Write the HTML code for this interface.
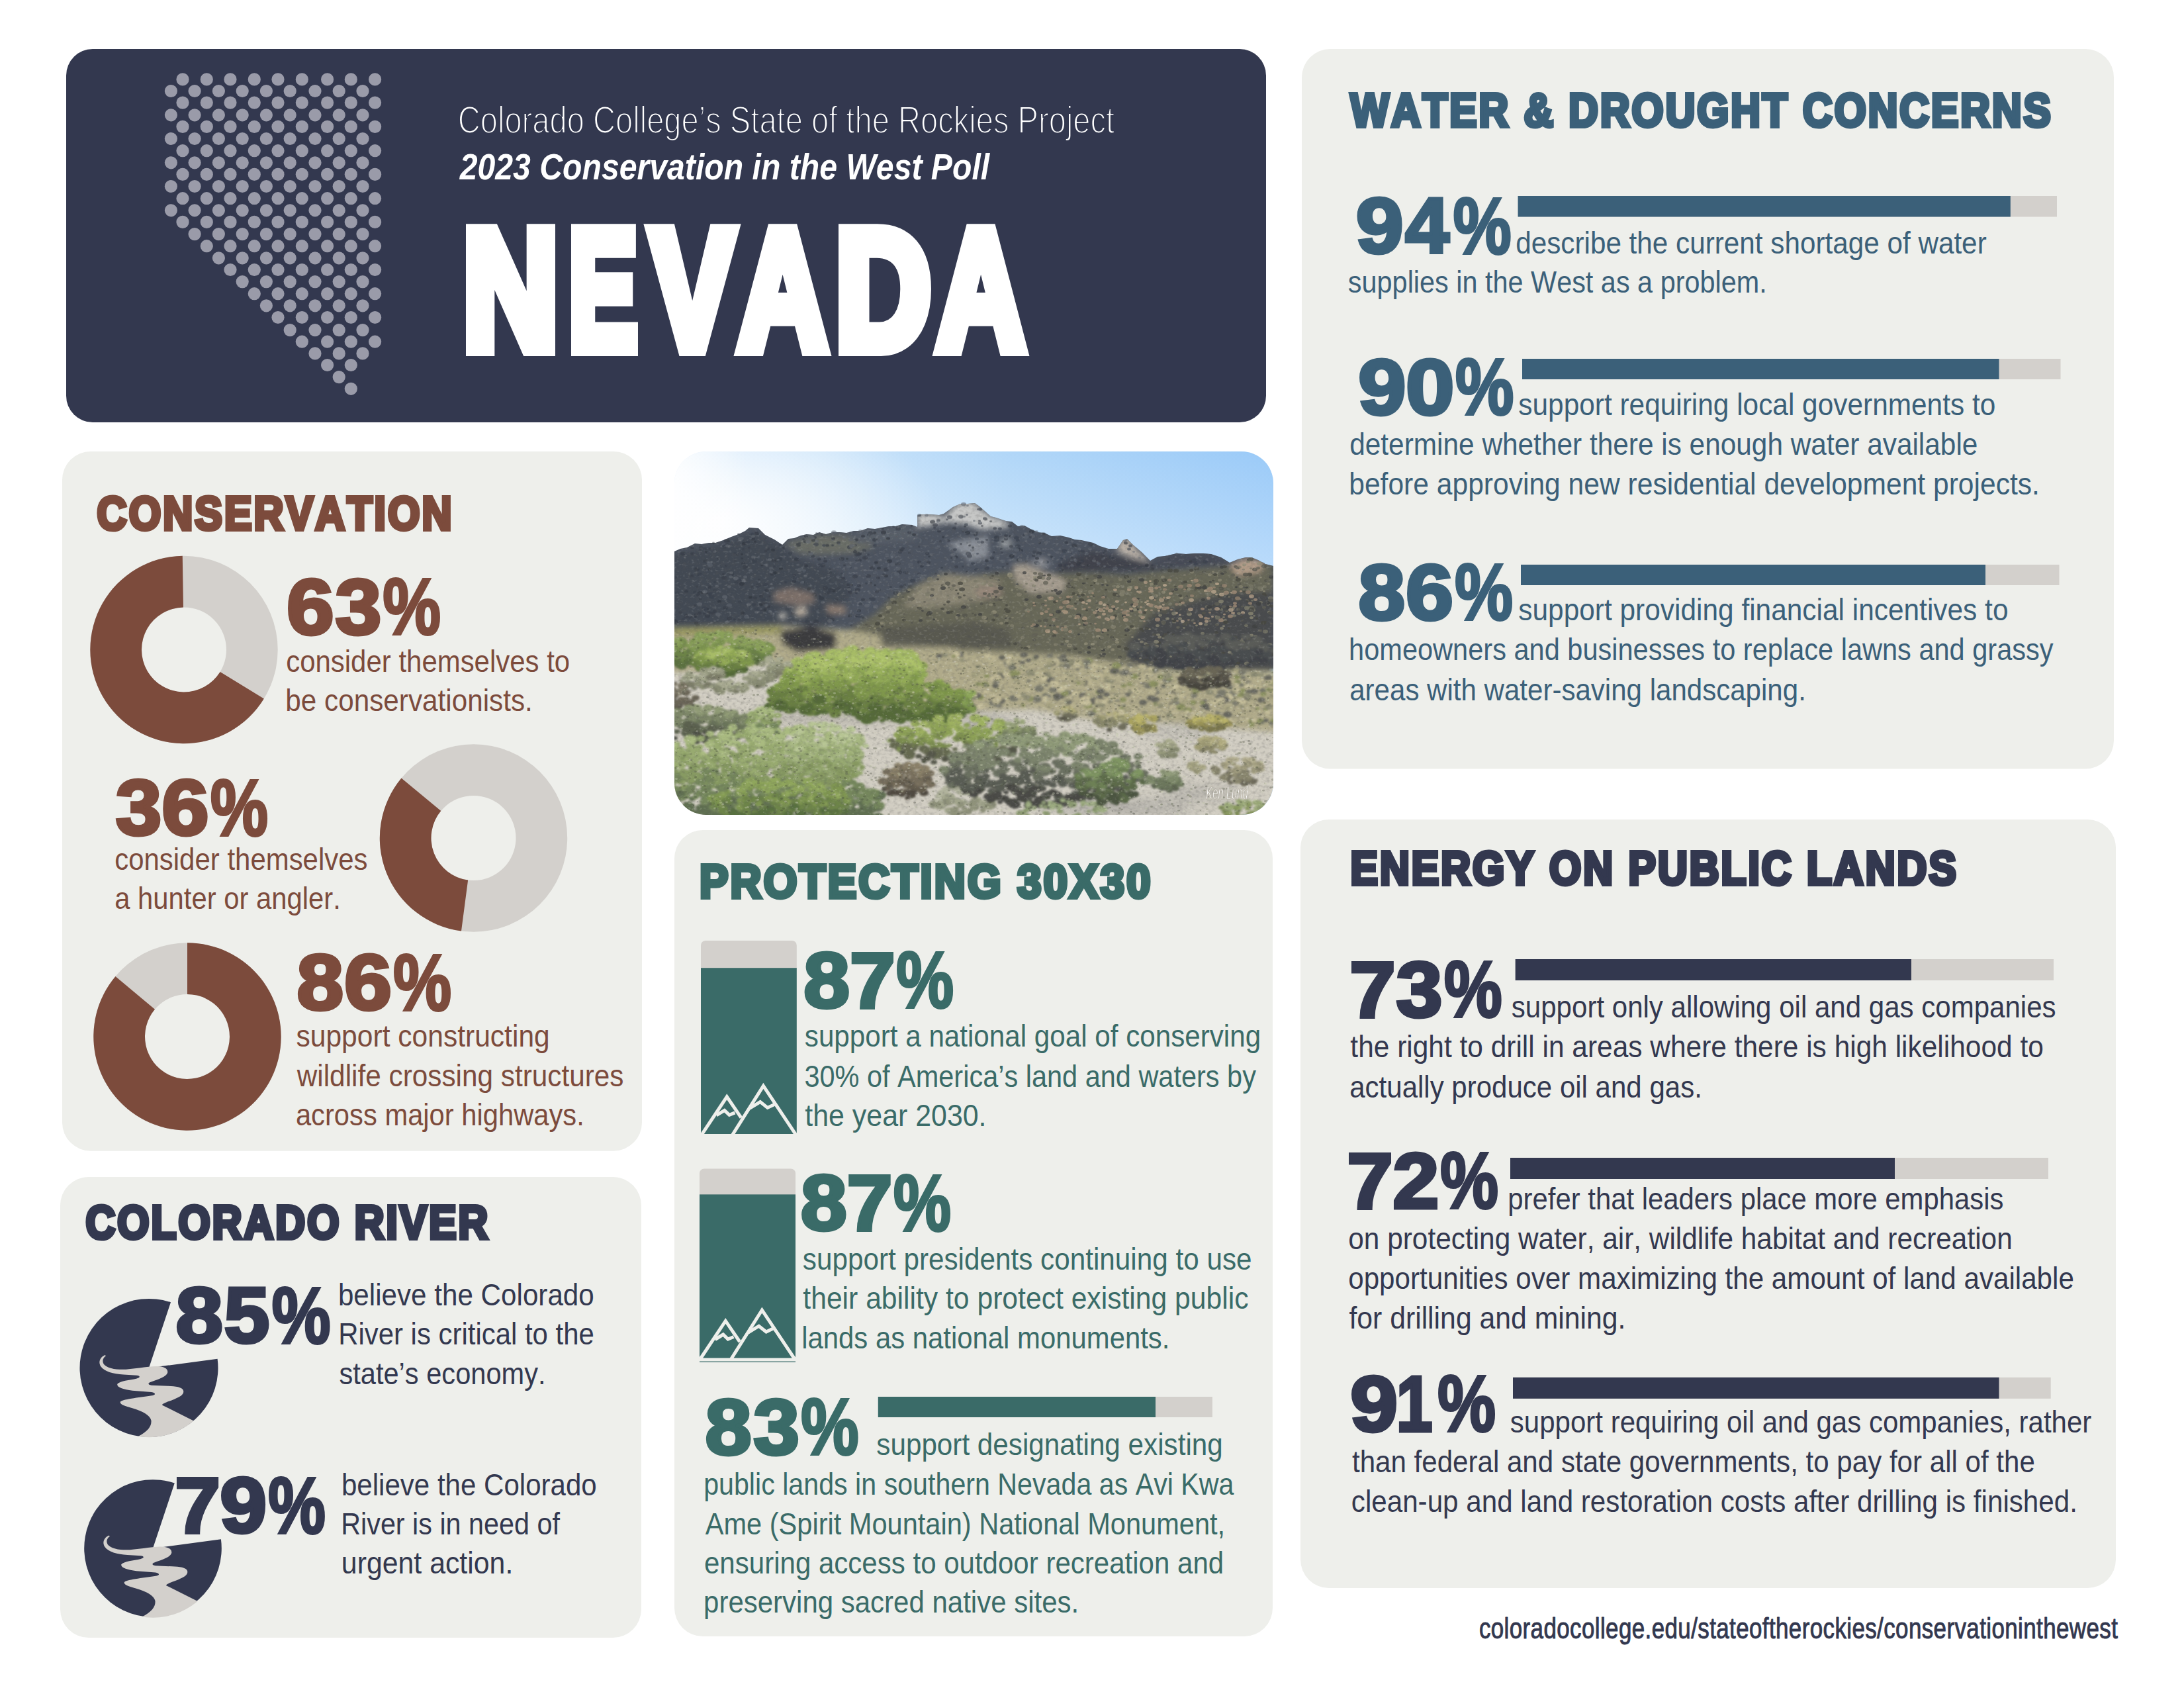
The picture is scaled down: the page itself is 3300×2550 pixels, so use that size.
<!DOCTYPE html>
<html lang="en"><head><meta charset="utf-8"><title>Nevada - 2023 Conservation in the West Poll</title>
<style>
html,body{margin:0;padding:0;background:#fff}
body{width:3300px;height:2550px;overflow:hidden}
svg{display:block}
text{font-family:"Liberation Sans",sans-serif;font-kerning:none;white-space:pre}
</style></head><body>
<svg width="3300" height="2550" viewBox="0 0 3300 2550" role="img" aria-label="Nevada: 2023 Conservation in the West Poll infographic">
<rect x="100.0" y="74.0" width="1813.0" height="564.0" rx="40.0" fill="#33384f"/>
<rect x="1967.0" y="74.0" width="1227.0" height="1087.6" rx="43.0" fill="#eeefeb"/>
<rect x="1965.0" y="1238.0" width="1232.0" height="1161.0" rx="43.0" fill="#eeefeb"/>
<rect x="94.0" y="682.0" width="876.0" height="1056.7" rx="43.0" fill="#eeefeb"/>
<rect x="91.0" y="1778.0" width="878.0" height="696.0" rx="43.0" fill="#eeefeb"/>
<rect x="1019.0" y="1254.0" width="904.0" height="1218.0" rx="43.0" fill="#eeefeb"/>
<g fill="#9a9ba9"><circle cx="276.0" cy="119.9" r="9.6"/><circle cx="312.3" cy="119.9" r="9.6"/><circle cx="348.0" cy="119.9" r="9.6"/><circle cx="384.3" cy="119.9" r="9.6"/><circle cx="420.0" cy="119.9" r="9.6"/><circle cx="456.3" cy="119.9" r="9.6"/><circle cx="494.6" cy="119.9" r="9.6"/><circle cx="530.3" cy="119.9" r="9.6"/><circle cx="566.6" cy="119.9" r="9.6"/><circle cx="258.4" cy="137.5" r="9.6"/><circle cx="294.1" cy="137.5" r="9.6"/><circle cx="330.4" cy="137.5" r="9.6"/><circle cx="366.2" cy="137.5" r="9.6"/><circle cx="402.4" cy="137.5" r="9.6"/><circle cx="438.2" cy="137.5" r="9.6"/><circle cx="476.0" cy="137.5" r="9.6"/><circle cx="512.2" cy="137.5" r="9.6"/><circle cx="548.0" cy="137.5" r="9.6"/><circle cx="276.0" cy="155.1" r="9.6"/><circle cx="312.3" cy="155.1" r="9.6"/><circle cx="348.0" cy="155.1" r="9.6"/><circle cx="384.3" cy="155.1" r="9.6"/><circle cx="420.0" cy="155.1" r="9.6"/><circle cx="456.3" cy="155.1" r="9.6"/><circle cx="494.6" cy="155.1" r="9.6"/><circle cx="530.3" cy="155.1" r="9.6"/><circle cx="566.6" cy="155.1" r="9.6"/><circle cx="258.4" cy="173.8" r="9.6"/><circle cx="294.1" cy="173.8" r="9.6"/><circle cx="330.4" cy="173.8" r="9.6"/><circle cx="366.2" cy="173.8" r="9.6"/><circle cx="402.4" cy="173.8" r="9.6"/><circle cx="438.2" cy="173.8" r="9.6"/><circle cx="476.0" cy="173.8" r="9.6"/><circle cx="512.2" cy="173.8" r="9.6"/><circle cx="548.0" cy="173.8" r="9.6"/><circle cx="276.0" cy="191.4" r="9.6"/><circle cx="312.3" cy="191.4" r="9.6"/><circle cx="348.0" cy="191.4" r="9.6"/><circle cx="384.3" cy="191.4" r="9.6"/><circle cx="420.0" cy="191.4" r="9.6"/><circle cx="456.3" cy="191.4" r="9.6"/><circle cx="494.6" cy="191.4" r="9.6"/><circle cx="530.3" cy="191.4" r="9.6"/><circle cx="566.6" cy="191.4" r="9.6"/><circle cx="258.4" cy="209.5" r="9.6"/><circle cx="294.1" cy="209.5" r="9.6"/><circle cx="330.4" cy="209.5" r="9.6"/><circle cx="366.2" cy="209.5" r="9.6"/><circle cx="402.4" cy="209.5" r="9.6"/><circle cx="438.2" cy="209.5" r="9.6"/><circle cx="476.0" cy="209.5" r="9.6"/><circle cx="512.2" cy="209.5" r="9.6"/><circle cx="548.0" cy="209.5" r="9.6"/><circle cx="276.0" cy="227.7" r="9.6"/><circle cx="312.3" cy="227.7" r="9.6"/><circle cx="348.0" cy="227.7" r="9.6"/><circle cx="384.3" cy="227.7" r="9.6"/><circle cx="420.0" cy="227.7" r="9.6"/><circle cx="456.3" cy="227.7" r="9.6"/><circle cx="494.6" cy="227.7" r="9.6"/><circle cx="530.3" cy="227.7" r="9.6"/><circle cx="566.6" cy="227.7" r="9.6"/><circle cx="258.4" cy="245.8" r="9.6"/><circle cx="294.1" cy="245.8" r="9.6"/><circle cx="330.4" cy="245.8" r="9.6"/><circle cx="366.2" cy="245.8" r="9.6"/><circle cx="402.4" cy="245.8" r="9.6"/><circle cx="438.2" cy="245.8" r="9.6"/><circle cx="476.0" cy="245.8" r="9.6"/><circle cx="512.2" cy="245.8" r="9.6"/><circle cx="548.0" cy="245.8" r="9.6"/><circle cx="276.0" cy="263.4" r="9.6"/><circle cx="312.3" cy="263.4" r="9.6"/><circle cx="348.0" cy="263.4" r="9.6"/><circle cx="384.3" cy="263.4" r="9.6"/><circle cx="420.0" cy="263.4" r="9.6"/><circle cx="456.3" cy="263.4" r="9.6"/><circle cx="494.6" cy="263.4" r="9.6"/><circle cx="530.3" cy="263.4" r="9.6"/><circle cx="566.6" cy="263.4" r="9.6"/><circle cx="258.4" cy="281.5" r="9.6"/><circle cx="294.1" cy="281.5" r="9.6"/><circle cx="330.4" cy="281.5" r="9.6"/><circle cx="366.2" cy="281.5" r="9.6"/><circle cx="402.4" cy="281.5" r="9.6"/><circle cx="438.2" cy="281.5" r="9.6"/><circle cx="476.0" cy="281.5" r="9.6"/><circle cx="512.2" cy="281.5" r="9.6"/><circle cx="548.0" cy="281.5" r="9.6"/><circle cx="276.0" cy="299.7" r="9.6"/><circle cx="312.3" cy="299.7" r="9.6"/><circle cx="348.0" cy="299.7" r="9.6"/><circle cx="384.3" cy="299.7" r="9.6"/><circle cx="420.0" cy="299.7" r="9.6"/><circle cx="456.3" cy="299.7" r="9.6"/><circle cx="494.6" cy="299.7" r="9.6"/><circle cx="530.3" cy="299.7" r="9.6"/><circle cx="566.6" cy="299.7" r="9.6"/><circle cx="258.4" cy="317.8" r="9.6"/><circle cx="294.1" cy="317.8" r="9.6"/><circle cx="330.4" cy="317.8" r="9.6"/><circle cx="366.2" cy="317.8" r="9.6"/><circle cx="402.4" cy="317.8" r="9.6"/><circle cx="438.2" cy="317.8" r="9.6"/><circle cx="476.0" cy="317.8" r="9.6"/><circle cx="512.2" cy="317.8" r="9.6"/><circle cx="548.0" cy="317.8" r="9.6"/><circle cx="276.0" cy="335.4" r="9.6"/><circle cx="312.3" cy="335.4" r="9.6"/><circle cx="348.0" cy="335.4" r="9.6"/><circle cx="384.3" cy="335.4" r="9.6"/><circle cx="420.0" cy="335.4" r="9.6"/><circle cx="456.3" cy="335.4" r="9.6"/><circle cx="494.6" cy="335.4" r="9.6"/><circle cx="530.3" cy="335.4" r="9.6"/><circle cx="566.6" cy="335.4" r="9.6"/><circle cx="294.1" cy="353.6" r="9.6"/><circle cx="330.4" cy="353.6" r="9.6"/><circle cx="366.2" cy="353.6" r="9.6"/><circle cx="402.4" cy="353.6" r="9.6"/><circle cx="438.2" cy="353.6" r="9.6"/><circle cx="476.0" cy="353.6" r="9.6"/><circle cx="512.2" cy="353.6" r="9.6"/><circle cx="548.0" cy="353.6" r="9.6"/><circle cx="312.3" cy="371.7" r="9.6"/><circle cx="348.0" cy="371.7" r="9.6"/><circle cx="384.3" cy="371.7" r="9.6"/><circle cx="420.0" cy="371.7" r="9.6"/><circle cx="456.3" cy="371.7" r="9.6"/><circle cx="494.6" cy="371.7" r="9.6"/><circle cx="530.3" cy="371.7" r="9.6"/><circle cx="566.6" cy="371.7" r="9.6"/><circle cx="330.4" cy="389.8" r="9.6"/><circle cx="366.2" cy="389.8" r="9.6"/><circle cx="402.4" cy="389.8" r="9.6"/><circle cx="438.2" cy="389.8" r="9.6"/><circle cx="476.0" cy="389.8" r="9.6"/><circle cx="512.2" cy="389.8" r="9.6"/><circle cx="548.0" cy="389.8" r="9.6"/><circle cx="348.0" cy="407.5" r="9.6"/><circle cx="384.3" cy="407.5" r="9.6"/><circle cx="420.0" cy="407.5" r="9.6"/><circle cx="456.3" cy="407.5" r="9.6"/><circle cx="494.6" cy="407.5" r="9.6"/><circle cx="530.3" cy="407.5" r="9.6"/><circle cx="566.6" cy="407.5" r="9.6"/><circle cx="366.2" cy="425.6" r="9.6"/><circle cx="402.4" cy="425.6" r="9.6"/><circle cx="438.2" cy="425.6" r="9.6"/><circle cx="476.0" cy="425.6" r="9.6"/><circle cx="512.2" cy="425.6" r="9.6"/><circle cx="548.0" cy="425.6" r="9.6"/><circle cx="384.3" cy="443.7" r="9.6"/><circle cx="420.0" cy="443.7" r="9.6"/><circle cx="456.3" cy="443.7" r="9.6"/><circle cx="494.6" cy="443.7" r="9.6"/><circle cx="530.3" cy="443.7" r="9.6"/><circle cx="566.6" cy="443.7" r="9.6"/><circle cx="402.4" cy="461.8" r="9.6"/><circle cx="438.2" cy="461.8" r="9.6"/><circle cx="476.0" cy="461.8" r="9.6"/><circle cx="512.2" cy="461.8" r="9.6"/><circle cx="548.0" cy="461.8" r="9.6"/><circle cx="420.0" cy="479.5" r="9.6"/><circle cx="456.3" cy="479.5" r="9.6"/><circle cx="494.6" cy="479.5" r="9.6"/><circle cx="530.3" cy="479.5" r="9.6"/><circle cx="566.6" cy="479.5" r="9.6"/><circle cx="438.2" cy="498.6" r="9.6"/><circle cx="476.0" cy="498.6" r="9.6"/><circle cx="512.2" cy="498.6" r="9.6"/><circle cx="548.0" cy="498.6" r="9.6"/><circle cx="456.3" cy="516.2" r="9.6"/><circle cx="494.6" cy="516.2" r="9.6"/><circle cx="530.3" cy="516.2" r="9.6"/><circle cx="566.6" cy="516.2" r="9.6"/><circle cx="476.0" cy="533.9" r="9.6"/><circle cx="512.2" cy="533.9" r="9.6"/><circle cx="548.0" cy="533.9" r="9.6"/><circle cx="494.6" cy="551.5" r="9.6"/><circle cx="530.3" cy="551.5" r="9.6"/><circle cx="512.2" cy="569.6" r="9.6"/><circle cx="530.3" cy="587.3" r="9.6"/></g>
<text transform="translate(691.71 200.50) scale(0.8123 1)" font-size="58.00" fill="#ffffff" stroke="#33384f" stroke-width="2.20" stroke-linejoin="round" stroke-miterlimit="2.5" textLength="1221.85" lengthAdjust="spacing">Colorado College’s State of the Rockies Project</text>
<text transform="translate(694.75 270.50) scale(0.8603 1)" font-size="56.00" fill="#ffffff" font-weight="bold" font-style="italic" textLength="930.45" lengthAdjust="spacing">2023 Conservation in the West Poll</text>
<text aria-label="NEVADA" font-size="257.00" fill="#ffffff" font-weight="bold" stroke="#ffffff" stroke-width="23.00" stroke-linejoin="miter" stroke-miterlimit="2.5"><tspan x="699.59" y="526.50" textLength="143.93" lengthAdjust="spacingAndGlyphs">N</tspan><tspan x="859.56" y="526.50" textLength="103.56" lengthAdjust="spacingAndGlyphs">E</tspan><tspan x="983.15" y="526.50" textLength="125.71" lengthAdjust="spacingAndGlyphs">V</tspan><tspan x="1115.68" y="526.50" textLength="133.91" lengthAdjust="spacingAndGlyphs">A</tspan><tspan x="1262.59" y="526.50" textLength="143.86" lengthAdjust="spacingAndGlyphs">D</tspan><tspan x="1415.65" y="526.50" textLength="132.96" lengthAdjust="spacingAndGlyphs">A</tspan></text>
<text transform="translate(2040.55 191.00) scale(0.8699 1)" font-size="71.00" fill="#3b6079" font-weight="bold" stroke="#3b6079" stroke-width="6.00" stroke-linejoin="miter" stroke-miterlimit="2.5" textLength="1216.47" lengthAdjust="spacing">WATER &amp; DROUGHT CONCERNS</text>
<text aria-label="94%" font-size="119.00" fill="#3b6079" font-weight="bold" stroke="#3b6079" stroke-width="5.00" stroke-linejoin="miter" stroke-miterlimit="2.5"><tspan x="2048.83" y="382.10" textLength="71.88" lengthAdjust="spacingAndGlyphs">9</tspan><tspan x="2123.33" y="382.10" textLength="66.46" lengthAdjust="spacingAndGlyphs">4</tspan><tspan x="2195.85" y="382.60" textLength="87.81" lengthAdjust="spacingAndGlyphs" font-size="120.00" stroke-width="4.00">%</tspan></text>
<rect x="2293.6" y="296.0" width="814.4" height="31.5" fill="#d3d0cc"/>
<rect x="2293.6" y="296.0" width="744.2" height="31.5" fill="#3b6079"/>
<text aria-label="90%" font-size="119.00" fill="#3b6079" font-weight="bold" stroke="#3b6079" stroke-width="5.00" stroke-linejoin="miter" stroke-miterlimit="2.5"><tspan x="2052.22" y="625.50" textLength="72.31" lengthAdjust="spacingAndGlyphs">9</tspan><tspan x="2124.02" y="625.50" textLength="73.54" lengthAdjust="spacingAndGlyphs">0</tspan><tspan x="2199.12" y="626.00" textLength="88.34" lengthAdjust="spacingAndGlyphs" font-size="120.00" stroke-width="4.00">%</tspan></text>
<rect x="2300.0" y="542.0" width="813.5" height="31.0" fill="#d3d0cc"/>
<rect x="2300.0" y="542.0" width="720.5" height="31.0" fill="#3b6079"/>
<text aria-label="86%" font-size="119.00" fill="#3b6079" font-weight="bold" stroke="#3b6079" stroke-width="5.00" stroke-linejoin="miter" stroke-miterlimit="2.5"><tspan x="2052.64" y="935.50" textLength="70.60" lengthAdjust="spacingAndGlyphs">8</tspan><tspan x="2123.98" y="935.50" textLength="71.98" lengthAdjust="spacingAndGlyphs">6</tspan><tspan x="2198.19" y="936.00" textLength="87.77" lengthAdjust="spacingAndGlyphs" font-size="120.00" stroke-width="4.00">%</tspan></text>
<rect x="2298.0" y="853.0" width="813.5" height="31.0" fill="#d3d0cc"/>
<rect x="2298.0" y="853.0" width="702.0" height="31.0" fill="#3b6079"/>
<text transform="translate(2290.23 383.00) scale(0.8988 1)" font-size="47.00" fill="#3b6079" textLength="791.59" lengthAdjust="spacing">describe the current shortage of water</text>
<text transform="translate(2036.85 442.00) scale(0.8810 1)" font-size="47.00" fill="#3b6079" textLength="718.40" lengthAdjust="spacing">supplies in the West as a problem.</text>
<text transform="translate(2294.32 627.00) scale(0.9018 1)" font-size="47.00" fill="#3b6079" textLength="799.44" lengthAdjust="spacing">support requiring local governments to</text>
<text transform="translate(2039.22 686.50) scale(0.9015 1)" font-size="47.00" fill="#3b6079" textLength="1052.91" lengthAdjust="spacing">determine whether there is enough water available</text>
<text transform="translate(2038.26 746.80) scale(0.9058 1)" font-size="47.00" fill="#3b6079" textLength="1152.19" lengthAdjust="spacing">before approving new residential development projects.</text>
<text transform="translate(2294.32 937.00) scale(0.9022 1)" font-size="47.00" fill="#3b6079" textLength="820.37" lengthAdjust="spacing">support providing financial incentives to</text>
<text transform="translate(2038.12 997.40) scale(0.8838 1)" font-size="47.00" fill="#3b6079" textLength="1204.40" lengthAdjust="spacing">homeowners and businesses to replace lawns and grassy</text>
<text transform="translate(2039.21 1057.70) scale(0.8948 1)" font-size="47.00" fill="#3b6079" textLength="770.68" lengthAdjust="spacing">areas with water-saving landscaping.</text>
<text transform="translate(2040.47 1336.00) scale(0.8735 1)" font-size="71.00" fill="#33384f" font-weight="bold" stroke="#33384f" stroke-width="6.00" stroke-linejoin="miter" stroke-miterlimit="2.5" textLength="1047.84" lengthAdjust="spacing">ENERGY ON PUBLIC LANDS</text>
<text aria-label="73%" font-size="119.00" fill="#33384f" font-weight="bold" stroke="#33384f" stroke-width="5.00" stroke-linejoin="miter" stroke-miterlimit="2.5"><tspan x="2039.26" y="1535.50" textLength="69.50" lengthAdjust="spacingAndGlyphs">7</tspan><tspan x="2109.64" y="1535.50" textLength="70.03" lengthAdjust="spacingAndGlyphs">3</tspan><tspan x="2181.94" y="1536.00" textLength="87.62" lengthAdjust="spacingAndGlyphs" font-size="120.00" stroke-width="4.00">%</tspan></text>
<rect x="2289.7" y="1449.0" width="813.3" height="32.0" fill="#d3d0cc"/>
<rect x="2289.7" y="1449.0" width="598.3" height="32.0" fill="#33384f"/>
<text aria-label="72%" font-size="119.00" fill="#33384f" font-weight="bold" stroke="#33384f" stroke-width="5.00" stroke-linejoin="miter" stroke-miterlimit="2.5"><tspan x="2035.25" y="1824.50" textLength="69.62" lengthAdjust="spacingAndGlyphs">7</tspan><tspan x="2104.28" y="1824.50" textLength="70.12" lengthAdjust="spacingAndGlyphs">2</tspan><tspan x="2176.19" y="1825.00" textLength="87.77" lengthAdjust="spacingAndGlyphs" font-size="120.00" stroke-width="4.00">%</tspan></text>
<rect x="2282.0" y="1749.0" width="813.0" height="32.0" fill="#d3d0cc"/>
<rect x="2282.0" y="1749.0" width="581.0" height="32.0" fill="#33384f"/>
<text aria-label="91%" font-size="119.00" fill="#33384f" font-weight="bold" stroke="#33384f" stroke-width="5.00" stroke-linejoin="miter" stroke-miterlimit="2.5"><tspan x="2040.24" y="2161.50" textLength="71.84" lengthAdjust="spacingAndGlyphs">9</tspan><tspan x="2109.86" y="2161.50" textLength="54.81" lengthAdjust="spacingAndGlyphs">1</tspan><tspan x="2172.19" y="2162.00" textLength="87.77" lengthAdjust="spacingAndGlyphs" font-size="120.00" stroke-width="4.00">%</tspan></text>
<rect x="2286.0" y="2080.8" width="812.7" height="32.0" fill="#d3d0cc"/>
<rect x="2286.0" y="2080.8" width="734.5" height="32.0" fill="#33384f"/>
<text transform="translate(2283.83 1537.00) scale(0.8946 1)" font-size="47.00" fill="#33384f" textLength="919.67" lengthAdjust="spacing">support only allowing oil and gas companies</text>
<text transform="translate(2040.36 1597.40) scale(0.9030 1)" font-size="47.00" fill="#33384f" textLength="1159.97" lengthAdjust="spacing">the right to drill in areas where there is high likelihood to</text>
<text transform="translate(2039.21 1657.70) scale(0.8941 1)" font-size="47.00" fill="#33384f" textLength="595.72" lengthAdjust="spacing">actually produce oil and gas.</text>
<text transform="translate(2278.30 1827.00) scale(0.8906 1)" font-size="47.00" fill="#33384f" textLength="841.20" lengthAdjust="spacing">prefer that leaders place more emphasis</text>
<text transform="translate(2037.22 1886.50) scale(0.9017 1)" font-size="47.00" fill="#33384f" textLength="1112.95" lengthAdjust="spacing">on protecting water, air, wildlife habitat and recreation</text>
<text transform="translate(2037.23 1947.40) scale(0.8969 1)" font-size="47.00" fill="#33384f" textLength="1222.69" lengthAdjust="spacing">opportunities over maximizing the amount of land available</text>
<text transform="translate(2038.39 2007.00) scale(0.9093 1)" font-size="47.00" fill="#33384f" textLength="459.79" lengthAdjust="spacing">for drilling and mining.</text>
<text transform="translate(2281.83 2164.00) scale(0.8943 1)" font-size="47.00" fill="#33384f" textLength="982.34" lengthAdjust="spacing">support requiring oil and gas companies, rather</text>
<text transform="translate(2042.96 2223.70) scale(0.8956 1)" font-size="47.00" fill="#33384f" textLength="1152.21" lengthAdjust="spacing">than federal and state governments, to pay for all of the</text>
<text transform="translate(2041.81 2284.00) scale(0.8973 1)" font-size="47.00" fill="#33384f" textLength="1222.67" lengthAdjust="spacing">clean-up and land restoration costs after drilling is finished.</text>
<text transform="translate(2234.90 2474.50) scale(0.7768 1)" font-size="45.00" fill="#33384f" stroke="#33384f" stroke-width="1.00" stroke-linejoin="round" stroke-miterlimit="2.5" textLength="1242.24" lengthAdjust="spacing">coloradocollege.edu/stateoftherockies/conservationinthewest</text>
<text transform="translate(146.58 799.50) scale(0.8780 1)" font-size="71.00" fill="#7c4b3c" font-weight="bold" stroke="#7c4b3c" stroke-width="6.00" stroke-linejoin="miter" stroke-miterlimit="2.5" textLength="610.49" lengthAdjust="spacing">CONSERVATION</text>
<path d="M136.30 981.50a141.70 141.70 0 1 0 283.40 0a141.70 141.70 0 1 0 -283.40 0ZM214.00 981.50a64.00 64.00 0 1 1 128.00 0a64.00 64.00 0 1 1 -128.00 0Z" fill="#d3d0cc" fill-rule="evenodd"/>
<path d="M398.82 1055.54A141.70 141.70 0 1 1 275.77 839.82L276.99 917.51A64.00 64.00 0 1 0 332.57 1014.94Z" fill="#7c4b3c"/>
<path d="M573.80 1266.00a141.70 141.70 0 1 0 283.40 0a141.70 141.70 0 1 0 -283.40 0ZM651.50 1266.00a64.00 64.00 0 1 1 128.00 0a64.00 64.00 0 1 1 -128.00 0Z" fill="#d3d0cc" fill-rule="evenodd"/>
<path d="M697.00 1406.49A141.70 141.70 0 0 1 606.48 1175.49L666.26 1225.12A64.00 64.00 0 0 0 707.15 1329.45Z" fill="#7c4b3c"/>
<path d="M141.30 1566.00a141.70 141.70 0 1 0 283.40 0a141.70 141.70 0 1 0 -283.40 0ZM219.00 1566.00a64.00 64.00 0 1 1 128.00 0a64.00 64.00 0 1 1 -128.00 0Z" fill="#d3d0cc" fill-rule="evenodd"/>
<path d="M283.00 1424.30A141.70 141.70 0 1 1 174.45 1474.92L233.97 1524.86A64.00 64.00 0 1 0 283.00 1502.00Z" fill="#7c4b3c"/>
<text aria-label="63%" font-size="119.00" fill="#7c4b3c" font-weight="bold" stroke="#7c4b3c" stroke-width="5.00" stroke-linejoin="miter" stroke-miterlimit="2.5"><tspan x="432.99" y="957.90" textLength="71.67" lengthAdjust="spacingAndGlyphs">6</tspan><tspan x="506.44" y="957.90" textLength="69.85" lengthAdjust="spacingAndGlyphs">3</tspan><tspan x="578.56" y="958.40" textLength="87.39" lengthAdjust="spacingAndGlyphs" font-size="120.00" stroke-width="4.00">%</tspan></text>
<text aria-label="36%" font-size="119.00" fill="#7c4b3c" font-weight="bold" stroke="#7c4b3c" stroke-width="5.00" stroke-linejoin="miter" stroke-miterlimit="2.5"><tspan x="174.76" y="1261.00" textLength="69.55" lengthAdjust="spacingAndGlyphs">3</tspan><tspan x="244.37" y="1261.00" textLength="71.35" lengthAdjust="spacingAndGlyphs">6</tspan><tspan x="317.94" y="1261.50" textLength="87.01" lengthAdjust="spacingAndGlyphs" font-size="120.00" stroke-width="4.00">%</tspan></text>
<text aria-label="86%" font-size="119.00" fill="#7c4b3c" font-weight="bold" stroke="#7c4b3c" stroke-width="5.00" stroke-linejoin="miter" stroke-miterlimit="2.5"><tspan x="448.64" y="1525.20" textLength="70.60" lengthAdjust="spacingAndGlyphs">8</tspan><tspan x="519.98" y="1525.20" textLength="71.98" lengthAdjust="spacingAndGlyphs">6</tspan><tspan x="594.19" y="1525.70" textLength="87.77" lengthAdjust="spacingAndGlyphs" font-size="120.00" stroke-width="4.00">%</tspan></text>
<text transform="translate(432.22 1015.00) scale(0.8924 1)" font-size="47.00" fill="#7c4b3c" textLength="480.67" lengthAdjust="spacing">consider themselves to</text>
<text transform="translate(431.28 1073.50) scale(0.8994 1)" font-size="47.00" fill="#7c4b3c" textLength="415.38" lengthAdjust="spacing">be conservationists.</text>
<text transform="translate(173.22 1313.50) scale(0.8924 1)" font-size="47.00" fill="#7c4b3c" textLength="428.42" lengthAdjust="spacing">consider themselves</text>
<text transform="translate(173.22 1373.40) scale(0.8894 1)" font-size="47.00" fill="#7c4b3c" textLength="384.08" lengthAdjust="spacing">a hunter or angler.</text>
<text transform="translate(447.52 1581.30) scale(0.9055 1)" font-size="47.00" fill="#7c4b3c" textLength="423.23" lengthAdjust="spacing">support constructing</text>
<text transform="translate(448.76 1640.80) scale(0.9002 1)" font-size="47.00" fill="#7c4b3c" textLength="548.51" lengthAdjust="spacing">wildlife crossing structures</text>
<text transform="translate(446.93 1699.50) scale(0.8876 1)" font-size="47.00" fill="#7c4b3c" textLength="491.07" lengthAdjust="spacing">across major highways.</text>
<text transform="translate(129.48 1870.70) scale(0.8729 1)" font-size="71.00" fill="#33384f" font-weight="bold" stroke="#33384f" stroke-width="6.00" stroke-linejoin="miter" stroke-miterlimit="2.5" textLength="696.36" lengthAdjust="spacing">COLORADO RIVER</text>
<path d="M225.0 2066.5L328.6 2052.7A104.5 104.5 0 1 1 258.0 1967.3Z" fill="#33384f"/>
<g transform="translate(100.0 1930.0) scale(0.1923)"><clipPath id="rc2066"><circle cx="651" cy="711" r="543"/></clipPath>
<path clip-path="url(#rc2066)" fill="#d3d0cc" d="M305 608C265 625 250 665 272 698C300 738 370 757 450 762L555 768C585 772 582 786 555 793C500 806 420 812 402 836C395 862 450 880 520 888L670 900C702 905 706 920 680 926C600 941 450 952 425 976C420 1000 470 1012 520 1026C600 1050 660 1082 668 1122C672 1162 650 1205 560 1250L800 1300L1010 1130L755 1002C750 990 800 975 850 955C900 935 930 915 920 885C910 860 860 855 800 852L670 846C640 842 640 828 665 820C720 800 790 780 797 745C800 715 770 700 720 697C650 694 520 722 440 722C380 722 320 712 295 680C280 655 290 630 312 615Z"/></g>
<path d="M231.0 2339.0L333.9 2325.3A103.8 103.8 0 1 1 263.8 2240.5Z" fill="#33384f"/>
<g transform="translate(106.0 2202.5) scale(0.1923)"><clipPath id="rc2339"><circle cx="651" cy="711" r="543"/></clipPath>
<path clip-path="url(#rc2339)" fill="#d3d0cc" d="M305 608C265 625 250 665 272 698C300 738 370 757 450 762L555 768C585 772 582 786 555 793C500 806 420 812 402 836C395 862 450 880 520 888L670 900C702 905 706 920 680 926C600 941 450 952 425 976C420 1000 470 1012 520 1026C600 1050 660 1082 668 1122C672 1162 650 1205 560 1250L800 1300L1010 1130L755 1002C750 990 800 975 850 955C900 935 930 915 920 885C910 860 860 855 800 852L670 846C640 842 640 828 665 820C720 800 790 780 797 745C800 715 770 700 720 697C650 694 520 722 440 722C380 722 320 712 295 680C280 655 290 630 312 615Z"/></g>
<text aria-label="85%" font-size="119.00" fill="#33384f" font-weight="bold" stroke="#33384f" stroke-width="5.00" stroke-linejoin="miter" stroke-miterlimit="2.5"><tspan x="265.62" y="2028.30" textLength="71.37" lengthAdjust="spacingAndGlyphs">8</tspan><tspan x="338.58" y="2028.30" textLength="68.77" lengthAdjust="spacingAndGlyphs">5</tspan><tspan x="410.74" y="2028.80" textLength="88.73" lengthAdjust="spacingAndGlyphs" font-size="120.00" stroke-width="4.00">%</tspan></text>
<text aria-label="79%" font-size="119.00" fill="#33384f" font-weight="bold" stroke="#33384f" stroke-width="5.00" stroke-linejoin="miter" stroke-miterlimit="2.5"><tspan x="264.29" y="2315.30" textLength="68.70" lengthAdjust="spacingAndGlyphs">7</tspan><tspan x="332.36" y="2315.30" textLength="70.90" lengthAdjust="spacingAndGlyphs">9</tspan><tspan x="405.33" y="2315.80" textLength="86.61" lengthAdjust="spacingAndGlyphs" font-size="120.00" stroke-width="4.00">%</tspan></text>
<text transform="translate(510.88 1972.00) scale(0.8974 1)" font-size="47.00" fill="#33384f" textLength="431.12" lengthAdjust="spacing">believe the Colorado</text>
<text transform="translate(511.16 2030.80) scale(0.8919 1)" font-size="47.00" fill="#33384f" textLength="433.56" lengthAdjust="spacing">River is critical to the</text>
<text transform="translate(512.44 2091.00) scale(0.8849 1)" font-size="47.00" fill="#33384f" textLength="352.66" lengthAdjust="spacing">state’s economy.</text>
<text transform="translate(515.89 2259.00) scale(0.8951 1)" font-size="47.00" fill="#33384f" textLength="431.12" lengthAdjust="spacing">believe the Colorado</text>
<text transform="translate(515.21 2318.00) scale(0.8792 1)" font-size="47.00" fill="#33384f" textLength="376.18" lengthAdjust="spacing">River is in need of</text>
<text transform="translate(515.82 2377.00) scale(0.9111 1)" font-size="47.00" fill="#33384f" textLength="284.80" lengthAdjust="spacing">urgent action.</text>
<text transform="translate(1056.90 1356.30) scale(0.9173 1)" font-size="71.00" fill="#3a6b68" font-weight="bold" stroke="#3a6b68" stroke-width="6.00" stroke-linejoin="miter" stroke-miterlimit="2.5" textLength="742.98" lengthAdjust="spacing">PROTECTING 30X30</text>
<path d="M1059.0 1463.2V1428.0a7 7 0 0 1 7 -7H1196.8a7 7 0 0 1 7 7V1463.2Z" fill="#d3d0cc"/>
<rect x="1059.0" y="1462.2" width="144.8" height="251.8" fill="#3a6b68"/>
<g fill="none" stroke="#eeefeb" stroke-width="5" stroke-linejoin="miter">
<path d="M1059.4 1715.4 L1098.3 1656.8 L1119.8 1688.4"/>
<path d="M1106.1 1715.4 L1153.4 1640.4 L1203.4 1715.4"/>
<path d="M1058.0 1715.4 H1205.0"/>
<path d="M1082.5 1684.9 L1094.7 1677.4 L1102.0 1684.4 L1110.5 1680.9"/>
<path d="M1132.5 1674.4 L1148.7 1664.6 L1159.7 1673.4 L1170.0 1668.4"/>
</g>
<path d="M1057.0 1805.4V1772.5a7 7 0 0 1 7 -7H1195.0a7 7 0 0 1 7 7V1805.4Z" fill="#d3d0cc"/>
<rect x="1057.0" y="1804.4" width="145.0" height="253.3" fill="#3a6b68"/>
<g fill="none" stroke="#eeefeb" stroke-width="5" stroke-linejoin="miter">
<path d="M1057.4 2054.0 L1096.3 1995.4 L1117.8 2027.0"/>
<path d="M1104.1 2054.0 L1151.4 1979.0 L1201.4 2054.0"/>
<path d="M1056.0 2054.0 H1203.0"/>
<path d="M1080.5 2023.5 L1092.7 2016.0 L1100.0 2023.0 L1108.5 2019.5"/>
<path d="M1130.5 2013.0 L1146.7 2003.2 L1157.7 2012.0 L1168.0 2007.0"/>
</g>
<text aria-label="87%" font-size="119.00" fill="#3a6b68" font-weight="bold" stroke="#3a6b68" stroke-width="5.00" stroke-linejoin="miter" stroke-miterlimit="2.5"><tspan x="1214.25" y="1521.50" textLength="69.79" lengthAdjust="spacingAndGlyphs">8</tspan><tspan x="1284.06" y="1521.50" textLength="68.82" lengthAdjust="spacingAndGlyphs">7</tspan><tspan x="1354.18" y="1522.00" textLength="86.77" lengthAdjust="spacingAndGlyphs" font-size="120.00" stroke-width="4.00">%</tspan></text>
<text aria-label="87%" font-size="119.00" fill="#3a6b68" font-weight="bold" stroke="#3a6b68" stroke-width="5.00" stroke-linejoin="miter" stroke-miterlimit="2.5"><tspan x="1209.65" y="1858.20" textLength="69.98" lengthAdjust="spacingAndGlyphs">8</tspan><tspan x="1279.64" y="1858.20" textLength="69.01" lengthAdjust="spacingAndGlyphs">7</tspan><tspan x="1349.95" y="1858.70" textLength="87.00" lengthAdjust="spacingAndGlyphs" font-size="120.00" stroke-width="4.00">%</tspan></text>
<text aria-label="83%" font-size="119.00" fill="#3a6b68" font-weight="bold" stroke="#3a6b68" stroke-width="5.00" stroke-linejoin="miter" stroke-miterlimit="2.5"><tspan x="1065.44" y="2196.50" textLength="70.23" lengthAdjust="spacingAndGlyphs">8</tspan><tspan x="1138.18" y="2196.50" textLength="69.79" lengthAdjust="spacingAndGlyphs">3</tspan><tspan x="1210.24" y="2197.00" textLength="87.31" lengthAdjust="spacingAndGlyphs" font-size="120.00" stroke-width="4.00">%</tspan></text>
<rect x="1326.8" y="2110.0" width="505.1" height="31.0" fill="#d3d0cc"/>
<rect x="1326.8" y="2110.0" width="419.2" height="31.0" fill="#3a6b68"/>
<text transform="translate(1215.83 1581.40) scale(0.8973 1)" font-size="47.00" fill="#3a6b68" textLength="768.18" lengthAdjust="spacing">support a national goal of conserving</text>
<text transform="translate(1215.42 1641.80) scale(0.8826 1)" font-size="47.00" fill="#3a6b68" textLength="773.27" lengthAdjust="spacing">30% of America’s land and waters by</text>
<text transform="translate(1216.35 1701.40) scale(0.9124 1)" font-size="47.00" fill="#3a6b68" textLength="300.50" lengthAdjust="spacing">the year 2030.</text>
<text transform="translate(1212.82 1917.80) scale(0.8988 1)" font-size="47.00" fill="#3a6b68" textLength="755.10" lengthAdjust="spacing">support presidents continuing to use</text>
<text transform="translate(1213.35 1976.80) scale(0.9073 1)" font-size="47.00" fill="#3a6b68" textLength="741.93" lengthAdjust="spacing">their ability to protect existing public</text>
<text transform="translate(1211.18 2036.80) scale(0.8908 1)" font-size="47.00" fill="#3a6b68" textLength="624.43" lengthAdjust="spacing">lands as national monuments.</text>
<text transform="translate(1324.32 2198.00) scale(0.8983 1)" font-size="47.00" fill="#3a6b68" textLength="582.66" lengthAdjust="spacing">support designating existing</text>
<text transform="translate(1063.15 2257.50) scale(0.8763 1)" font-size="47.00" fill="#3a6b68" textLength="914.41" lengthAdjust="spacing">public lands in southern Nevada as Avi Kwa</text>
<text transform="translate(1065.72 2318.00) scale(0.8843 1)" font-size="47.00" fill="#3a6b68" textLength="888.16" lengthAdjust="spacing">Ame (Spirit Mountain) National Monument,</text>
<text transform="translate(1064.01 2376.60) scale(0.8944 1)" font-size="47.00" fill="#3a6b68" textLength="877.88" lengthAdjust="spacing">ensuring access to outdoor recreation and</text>
<text transform="translate(1063.09 2436.00) scale(0.8933 1)" font-size="47.00" fill="#3a6b68" textLength="634.80" lengthAdjust="spacing">preserving sacred native sites.</text>
<defs><clipPath id="pc"><rect x="1019" y="682" width="905" height="549" rx="48"/></clipPath><clipPath id="gc"><path d="M1019 833 L1028 829 L1038 827 L1050 821 L1060 822 L1071 820 L1081 820 L1093 816 L1105 811 L1116 807 L1126 802 L1132 797 L1146 798 L1156 808 L1170 815 L1182 823 L1191 814 L1200 813 L1210 809 L1219 807 L1229 808 L1238 804 L1248 807 L1258 804 L1269 804 L1279 805 L1290 802 L1300 802 L1311 798 L1322 799 L1333 797 L1343 795 L1353 795 L1363 792 L1378 793 L1386 796 L1386 779 L1392 777 L1405 777 L1419 778 L1426 776 L1440 766 L1451 761 L1462 761 L1473 760 L1480 765 L1497 780 L1505 782 L1520 787 L1529 788 L1538 795 L1548 794 L1557 799 L1568 804 L1578 805 L1589 810 L1602 809 L1615 812 L1624 815 L1634 816 L1643 818 L1652 820 L1662 825 L1675 829 L1688 829 L1697 816 L1703 814 L1712 823 L1725 834 L1738 847 L1749 841 L1760 840 L1769 838 L1778 836 L1792 837 L1805 836 L1818 836 L1830 837 L1845 842 L1858 850 L1870 845 L1882 842 L1891 842 L1901 846 L1912 852 L1924 855 L1924 1231 L1019 1231Z"/></clipPath><linearGradient id="sky" x1="0" y1="0" x2="1" y2="0"><stop offset="0" stop-color="#f8fcfe"/><stop offset="0.25" stop-color="#e6f3fc"/><stop offset="0.55" stop-color="#c0dff9"/><stop offset="1" stop-color="#9fcdf9"/></linearGradient><linearGradient id="skyv" x1="0" y1="0" x2="0" y2="1"><stop offset="0" stop-color="#8fc3f5" stop-opacity="0.30"/><stop offset="1" stop-color="#ffffff" stop-opacity="0.30"/></linearGradient><radialGradient id="glare" cx="0.5" cy="0.5" r="0.5"><stop offset="0" stop-color="#fff" stop-opacity="0.95"/><stop offset="1" stop-color="#fff" stop-opacity="0"/></radialGradient><filter id="b2" x="-5%" y="-5%" width="110%" height="110%"><feGaussianBlur stdDeviation="1.6"/></filter><filter id="b4" x="-10%" y="-10%" width="120%" height="120%"><feGaussianBlur stdDeviation="4"/></filter><filter id="b8" x="-20%" y="-20%" width="140%" height="140%"><feGaussianBlur stdDeviation="9"/></filter><filter id="nz" x="0" y="0" width="100%" height="100%"><feTurbulence type="fractalNoise" baseFrequency="0.16 0.22" numOctaves="2" seed="3"/><feColorMatrix values="0 0 0 0 0.1  0 0 0 0 0.1  0 0 0 0 0.1  0 0 0 -2.6 1.45"/></filter><filter id="nzl" x="0" y="0" width="100%" height="100%"><feTurbulence type="fractalNoise" baseFrequency="0.18 0.25" numOctaves="2" seed="11"/><feColorMatrix values="0 0 0 0 1  0 0 0 0 1  0 0 0 0 0.94  0 0 0 2.6 -1.45"/></filter></defs>
<g clip-path="url(#pc)">
<rect x="1019.0" y="682.0" width="905.0" height="549.0" fill="url(#sky)"/>
<rect x="1019.0" y="682.0" width="905.0" height="188.0" fill="url(#skyv)"/>
<ellipse cx="1090" cy="790" rx="330" ry="190" fill="url(#glare)"/>
<ellipse cx="1010" cy="740" rx="120" ry="260" fill="url(#glare)"/>
<path d="M1019 833 L1028 829 L1038 827 L1050 821 L1060 822 L1071 820 L1081 820 L1093 816 L1105 811 L1116 807 L1126 802 L1132 797 L1146 798 L1156 808 L1170 815 L1182 823 L1191 814 L1200 813 L1210 809 L1219 807 L1229 808 L1238 804 L1248 807 L1258 804 L1269 804 L1279 805 L1290 802 L1300 802 L1311 798 L1322 799 L1333 797 L1343 795 L1353 795 L1363 792 L1378 793 L1386 796 L1386 779 L1392 777 L1405 777 L1419 778 L1426 776 L1440 766 L1451 761 L1462 761 L1473 760 L1480 765 L1497 780 L1505 782 L1520 787 L1529 788 L1538 795 L1548 794 L1557 799 L1568 804 L1578 805 L1589 810 L1602 809 L1615 812 L1624 815 L1634 816 L1643 818 L1652 820 L1662 825 L1675 829 L1688 829 L1697 816 L1703 814 L1712 823 L1725 834 L1738 847 L1749 841 L1760 840 L1769 838 L1778 836 L1792 837 L1805 836 L1818 836 L1830 837 L1845 842 L1858 850 L1870 845 L1882 842 L1891 842 L1901 846 L1912 852 L1924 855 L1924 1010 L1019 1010 Z" fill="#4d5460"/>
<g filter="url(#b4)" clip-path="url(#gc)">
<path d="M1010 838 L1081 825 L1139 803 L1174 821 L1204 842 L1268 864 L1290 896 L1247 948 L1010 948 Z" fill="#424853"/>
<path d="M1186 821 L1238 808 L1279 808 L1296 821 L1316 821 L1320 827 L1290 836 L1225 838 L1204 834 Z" fill="#6d7067" opacity="0.90"/>
<path d="M1279 808 L1333 799 L1363 795 L1386 799 L1386 816 L1333 821 L1290 818 Z" fill="#5a606a" opacity="0.90"/>
<path d="M1386 797 L1386 775 L1419 777 L1426 783 L1440 766 L1451 758 L1480 759 L1473 761 L1497 780 L1520 787 L1525 797 L1482 800 L1460 792 L1430 789 L1397 796 Z" fill="#c6c7c6"/>
<path d="M1430 821 L1480 811 L1492 808 L1494 842 L1460 849 L1462 842 Z" fill="#90959c" opacity="0.90"/>
<path d="M1509 818 L1525 812 L1531 825 L1514 829 Z" fill="#a3a6a8" opacity="0.80"/>
<path d="M1555 849 L1576 842 L1589 853 L1568 859 Z" fill="#a1a3a5" opacity="0.80"/>
<path d="M1686 830 L1696 815 L1703 812 L1718 830 L1738 849 L1714 843 L1697 837 Z" fill="#bdb4a9"/>
<path d="M1600 851 L1649 832 L1692 841 L1738 852 L1761 860 L1600 865 Z" fill="#3f424b"/>
<path d="M1740 849 L1778 835 L1830 837 L1858 850 L1860 854 L1761 858 Z" fill="#474c56"/>
</g>
<g transform="scale(1 0.70)" fill="none" stroke-linecap="round" opacity="0.60"><path d="M1243 1220h0M1264 1361h0M1914 1422h0M1607 1243h0M1199 1421h0M1021 1343h0M1882 1377h0M1272 1206h0M1672 1290h0M1521 1284h0M1359 1235h0M1804 1399h0M1506 1160h0M1202 1347h0M1481 1252h0M1401 1287h0M1435 1116h0M1661 1307h0M1463 1195h0M1856 1278h0M1341 1405h0M1592 1363h0M1583 1301h0M1899 1391h0M1588 1380h0M1247 1390h0M1625 1283h0M1167 1238h0M1069 1329h0M1473 1385h0M1364 1371h0M1397 1286h0M1080 1412h0M1865 1238h0M1808 1258h0M1241 1291h0M1422 1276h0M1389 1314h0M1204 1207h0M1098 1167h0M1357 1141h0M1227 1359h0M1126 1390h0M1876 1274h0M1728 1273h0M1538 1273h0M1452 1115h0M1214 1292h0M1623 1177h0M1630 1217h0M1080 1370h0M1349 1313h0M1053 1228h0M1510 1425h0M1536 1263h0M1721 1250h0M1284 1181h0M1353 1388h0M1296 1273h0M1883 1227h0M1032 1195h0M1378 1273h0M1347 1377h0M1322 1165h0" stroke="#343a44" stroke-width="8"/><path d="M1170 1223h0M1912 1320h0M1455 1223h0M1111 1210h0M1488 1397h0M1501 1353h0M1883 1211h0M1438 1341h0M1570 1352h0M1083 1340h0M1459 1419h0M1111 1372h0M1291 1277h0M1096 1352h0M1820 1308h0M1080 1256h0M1255 1236h0M1785 1370h0M1575 1323h0M1477 1195h0M1141 1407h0M1333 1371h0M1604 1205h0M1673 1292h0M1252 1339h0M1309 1259h0M1110 1194h0M1588 1241h0M1451 1301h0M1389 1180h0M1570 1255h0M1819 1271h0M1285 1225h0M1574 1246h0M1378 1403h0M1312 1197h0M1396 1315h0M1766 1206h0M1079 1192h0M1123 1185h0M1362 1308h0M1564 1300h0M1770 1220h0M1142 1397h0M1461 1111h0M1346 1267h0M1736 1358h0M1615 1417h0M1846 1317h0M1491 1249h0M1079 1345h0M1496 1365h0M1409 1294h0M1715 1350h0M1745 1379h0M1182 1380h0M1264 1271h0M1388 1270h0M1265 1414h0M1027 1378h0M1431 1121h0M1208 1172h0M1329 1371h0M1560 1395h0M1527 1330h0M1248 1281h0M1895 1396h0M1183 1323h0M1176 1324h0M1860 1278h0M1305 1186h0M1706 1220h0M1464 1344h0M1164 1322h0M1660 1302h0M1116 1153h0M1919 1328h0M1847 1278h0M1187 1257h0M1514 1193h0M1102 1395h0M1165 1236h0M1702 1337h0M1629 1295h0M1918 1399h0M1744 1271h0M1750 1385h0M1392 1260h0M1253 1253h0M1042 1334h0M1366 1235h0M1762 1229h0M1632 1328h0M1187 1328h0M1272 1238h0M1294 1210h0M1277 1254h0" stroke="#3a404b" stroke-width="4"/><path d="M1760 1382h0M1854 1392h0M1500 1169h0M1495 1273h0M1657 1191h0M1649 1332h0M1763 1234h0M1349 1393h0M1455 1272h0M1292 1373h0M1623 1197h0M1517 1301h0M1725 1243h0M1499 1304h0M1573 1311h0M1206 1219h0M1788 1251h0M1267 1223h0M1261 1215h0M1343 1310h0M1722 1204h0M1258 1166h0M1809 1204h0M1301 1336h0M1857 1287h0M1725 1379h0M1595 1245h0M1325 1168h0M1152 1319h0M1685 1340h0M1550 1315h0M1377 1210h0M1589 1285h0M1483 1272h0M1758 1222h0M1535 1331h0M1483 1266h0M1374 1249h0M1543 1200h0M1472 1124h0M1669 1222h0M1618 1180h0M1595 1380h0M1351 1330h0M1621 1199h0M1786 1281h0M1620 1188h0M1635 1191h0M1070 1324h0M1906 1220h0M1495 1185h0M1668 1205h0M1462 1091h0M1140 1202h0M1084 1249h0M1788 1267h0M1720 1334h0M1166 1261h0M1732 1376h0M1809 1397h0M1619 1209h0M1689 1270h0M1224 1415h0M1310 1344h0M1414 1289h0M1565 1225h0M1326 1171h0M1297 1259h0M1080 1340h0M1922 1393h0M1437 1289h0M1516 1357h0M1507 1180h0M1363 1313h0M1464 1370h0M1636 1341h0M1226 1157h0M1456 1336h0M1660 1377h0M1124 1424h0M1489 1274h0M1418 1426h0M1365 1272h0M1360 1284h0M1185 1284h0M1537 1308h0M1462 1171h0M1771 1249h0M1594 1406h0M1613 1311h0M1527 1228h0M1292 1331h0M1558 1291h0M1615 1223h0M1550 1167h0M1448 1393h0M1748 1367h0M1486 1218h0M1842 1223h0M1482 1151h0" stroke="#666c74" stroke-width="4"/><path d="M1229 1166h0M1689 1250h0M1444 1201h0M1339 1243h0M1400 1400h0M1420 1296h0M1183 1405h0M1294 1165h0M1741 1342h0M1453 1320h0M1539 1209h0M1198 1359h0M1598 1379h0M1911 1245h0M1892 1250h0M1342 1162h0M1762 1392h0M1260 1275h0M1733 1220h0M1707 1398h0M1539 1184h0M1134 1289h0M1172 1236h0M1489 1120h0M1484 1405h0M1847 1301h0M1259 1162h0M1025 1374h0M1799 1211h0M1733 1398h0M1542 1399h0M1404 1410h0M1150 1305h0M1594 1324h0M1321 1150h0M1567 1205h0M1062 1279h0M1168 1187h0M1630 1280h0M1087 1298h0M1173 1209h0M1807 1241h0M1292 1191h0M1381 1154h0M1756 1231h0M1637 1291h0M1222 1271h0M1642 1310h0M1419 1315h0M1250 1177h0M1216 1169h0M1631 1423h0M1701 1172h0M1295 1329h0M1071 1372h0M1121 1403h0M1156 1316h0M1367 1393h0M1548 1223h0M1639 1399h0M1527 1296h0M1122 1323h0M1102 1383h0M1908 1217h0M1180 1227h0M1354 1416h0M1779 1242h0M1491 1210h0M1697 1400h0M1397 1374h0M1350 1378h0M1124 1173h0M1741 1228h0M1872 1428h0M1284 1329h0M1625 1372h0M1419 1413h0M1324 1214h0M1656 1385h0M1328 1226h0M1298 1318h0M1054 1349h0M1052 1345h0M1696 1318h0M1878 1417h0M1723 1238h0M1047 1389h0M1362 1187h0M1733 1331h0M1218 1157h0M1304 1157h0" stroke="#2f343c" stroke-width="6"/><path d="M1184 1182h0M1734 1248h0M1069 1314h0M1101 1366h0M1671 1255h0M1209 1410h0M1515 1169h0M1101 1168h0M1895 1254h0M1255 1357h0M1458 1398h0M1151 1220h0M1436 1391h0M1078 1172h0M1148 1362h0M1423 1236h0M1571 1172h0M1268 1365h0M1287 1263h0M1068 1280h0M1859 1392h0M1794 1347h0M1098 1427h0M1825 1426h0M1592 1356h0M1871 1408h0M1838 1373h0M1491 1165h0M1681 1239h0M1141 1169h0M1857 1339h0M1757 1376h0M1134 1384h0M1154 1377h0M1280 1206h0M1484 1135h0M1832 1365h0M1551 1212h0M1422 1281h0M1461 1234h0M1634 1360h0M1529 1351h0M1058 1293h0M1626 1179h0M1347 1378h0M1530 1424h0M1907 1283h0M1867 1300h0M1473 1276h0M1289 1427h0M1569 1403h0M1322 1263h0M1283 1391h0M1048 1356h0M1698 1376h0M1190 1370h0M1501 1325h0M1589 1202h0M1900 1329h0M1526 1157h0M1844 1360h0M1316 1258h0M1304 1333h0M1790 1312h0M1499 1326h0M1810 1282h0M1565 1396h0M1644 1220h0M1620 1296h0M1478 1327h0M1253 1354h0M1776 1364h0M1465 1177h0M1470 1182h0M1552 1360h0M1606 1231h0M1121 1196h0M1480 1124h0M1051 1331h0M1486 1422h0M1497 1125h0M1022 1428h0M1839 1411h0M1374 1193h0M1800 1318h0M1756 1295h0M1909 1391h0M1802 1265h0M1425 1159h0M1914 1390h0M1458 1136h0M1067 1191h0M1125 1222h0M1313 1370h0M1214 1256h0M1623 1322h0" stroke="#2f343c" stroke-width="4"/><path d="M1353 1280h0M1096 1312h0M1292 1244h0M1247 1269h0M1233 1341h0M1316 1150h0M1488 1312h0M1523 1252h0M1094 1247h0M1570 1194h0M1645 1339h0M1255 1273h0M1532 1301h0M1416 1314h0M1312 1243h0M1351 1374h0M1530 1226h0M1066 1354h0M1413 1133h0M1318 1226h0M1680 1425h0M1522 1424h0M1126 1224h0M1696 1411h0M1339 1229h0M1178 1207h0M1105 1237h0M1224 1350h0M1308 1351h0M1307 1204h0M1208 1272h0M1476 1395h0M1604 1257h0M1295 1197h0M1102 1335h0M1164 1414h0M1732 1408h0M1825 1236h0M1413 1377h0M1038 1329h0M1465 1200h0M1257 1337h0" stroke="#383d47" stroke-width="8"/><path d="M1797 1411h0M1068 1394h0M1780 1250h0M1484 1170h0M1775 1391h0M1548 1392h0M1775 1277h0M1562 1199h0M1879 1319h0M1859 1393h0M1200 1294h0M1057 1323h0M1732 1325h0M1228 1200h0M1841 1233h0M1605 1376h0M1499 1204h0M1825 1294h0M1198 1323h0M1464 1256h0M1306 1188h0M1152 1317h0M1401 1195h0M1080 1319h0M1284 1277h0M1252 1279h0M1632 1188h0M1158 1262h0M1262 1302h0M1713 1394h0M1535 1302h0M1481 1129h0M1812 1294h0M1636 1190h0M1667 1200h0M1085 1366h0M1252 1330h0M1141 1290h0M1124 1375h0M1375 1266h0M1362 1266h0M1323 1382h0M1503 1140h0M1160 1185h0M1055 1284h0M1065 1211h0M1867 1396h0M1290 1415h0M1433 1167h0M1059 1181h0M1603 1417h0M1364 1184h0M1325 1277h0M1200 1242h0M1445 1223h0M1862 1263h0M1415 1321h0M1892 1306h0M1753 1395h0M1547 1408h0M1423 1257h0M1304 1364h0M1649 1176h0M1046 1195h0M1790 1407h0M1729 1249h0M1469 1336h0M1827 1358h0M1885 1307h0M1858 1426h0M1468 1244h0M1327 1247h0M1374 1149h0M1282 1269h0M1898 1235h0M1077 1323h0M1577 1152h0M1403 1214h0M1660 1282h0M1381 1390h0M1045 1243h0M1593 1268h0M1920 1335h0M1359 1228h0M1313 1381h0M1442 1140h0M1028 1322h0M1552 1323h0M1253 1314h0" stroke="#383d47" stroke-width="6"/><path d="M1741 1220h0M1247 1205h0M1107 1241h0M1818 1417h0M1367 1263h0M1121 1401h0M1136 1266h0M1294 1280h0M1831 1252h0M1030 1339h0M1793 1419h0M1623 1403h0M1910 1237h0M1668 1194h0M1700 1170h0M1819 1424h0M1412 1139h0M1334 1141h0M1915 1284h0M1690 1241h0M1856 1409h0M1292 1188h0M1157 1189h0M1779 1316h0M1345 1307h0M1637 1405h0M1212 1228h0M1892 1332h0M1416 1318h0M1729 1280h0M1639 1399h0M1893 1426h0M1114 1197h0M1886 1403h0M1246 1366h0M1121 1205h0M1286 1350h0M1343 1290h0M1519 1400h0M1335 1240h0M1417 1298h0M1163 1287h0M1045 1332h0M1338 1301h0M1774 1352h0M1307 1352h0M1058 1393h0M1499 1279h0M1121 1381h0M1778 1285h0M1662 1372h0M1834 1219h0M1179 1176h0M1735 1384h0M1181 1356h0M1053 1266h0M1358 1413h0M1213 1286h0M1755 1419h0M1593 1340h0M1513 1185h0M1903 1273h0M1404 1201h0M1276 1220h0M1679 1269h0M1618 1193h0M1237 1392h0M1435 1330h0M1421 1168h0M1491 1261h0M1872 1225h0M1392 1414h0M1452 1174h0M1258 1177h0M1778 1231h0M1920 1394h0M1431 1304h0M1441 1298h0M1711 1232h0M1637 1312h0M1873 1237h0M1516 1224h0M1616 1261h0M1093 1239h0M1165 1427h0M1181 1371h0M1072 1230h0M1238 1368h0M1760 1357h0M1365 1319h0M1840 1312h0M1594 1323h0M1379 1290h0M1549 1283h0M1239 1287h0M1807 1323h0M1564 1277h0M1466 1274h0M1602 1234h0M1839 1367h0M1671 1264h0M1349 1359h0M1156 1162h0M1511 1311h0M1744 1256h0M1293 1177h0M1438 1204h0M1471 1266h0M1465 1407h0M1744 1260h0M1335 1387h0M1874 1303h0M1905 1279h0" stroke="#343a44" stroke-width="4"/><path d="M1418 1123h0M1200 1255h0M1637 1268h0M1037 1276h0M1071 1322h0M1474 1154h0M1139 1367h0M1719 1355h0M1228 1363h0M1191 1419h0M1389 1213h0M1203 1358h0M1602 1220h0M1304 1294h0M1056 1278h0M1481 1099h0M1419 1146h0M1577 1234h0M1138 1163h0M1395 1296h0M1824 1354h0M1444 1374h0M1475 1378h0M1488 1119h0M1763 1248h0M1907 1249h0M1665 1379h0M1046 1182h0M1598 1402h0M1781 1382h0M1052 1326h0M1724 1383h0M1112 1384h0M1370 1236h0M1492 1368h0M1218 1221h0M1393 1222h0M1495 1393h0M1520 1163h0M1517 1331h0M1238 1207h0M1708 1178h0M1375 1385h0M1897 1322h0M1683 1416h0M1143 1150h0M1155 1301h0M1231 1357h0M1904 1378h0M1099 1344h0M1200 1401h0M1801 1291h0M1543 1188h0M1674 1242h0M1732 1290h0M1922 1231h0M1611 1255h0M1150 1287h0M1312 1371h0M1298 1264h0M1299 1209h0M1779 1363h0M1348 1389h0M1522 1284h0M1606 1400h0M1845 1373h0M1267 1171h0M1247 1211h0M1274 1248h0M1168 1209h0M1749 1310h0M1144 1152h0M1402 1268h0M1615 1299h0M1796 1409h0M1825 1243h0M1282 1262h0M1185 1398h0M1526 1135h0M1231 1160h0M1161 1309h0M1258 1337h0M1389 1239h0M1072 1267h0M1520 1156h0M1910 1332h0M1123 1216h0M1799 1329h0M1611 1171h0M1158 1274h0M1697 1241h0M1577 1304h0M1302 1416h0M1517 1305h0M1605 1363h0M1449 1308h0M1441 1237h0M1776 1286h0M1887 1301h0M1681 1360h0M1363 1405h0M1598 1385h0M1368 1428h0M1094 1382h0" stroke="#343a44" stroke-width="6"/><path d="M1123 1253h0M1320 1360h0M1607 1266h0M1057 1304h0M1477 1427h0M1766 1326h0M1449 1414h0M1208 1230h0M1112 1248h0M1898 1427h0M1339 1305h0M1752 1283h0M1049 1425h0M1065 1277h0M1095 1288h0M1105 1379h0M1643 1367h0M1323 1309h0M1574 1352h0M1299 1351h0M1394 1248h0M1105 1355h0M1319 1420h0M1337 1365h0M1662 1410h0M1914 1387h0M1458 1402h0M1693 1279h0M1094 1177h0M1451 1261h0M1440 1197h0M1635 1326h0M1156 1405h0M1254 1340h0M1119 1163h0M1299 1302h0M1085 1326h0M1801 1223h0M1590 1268h0M1824 1399h0M1221 1169h0M1310 1307h0M1619 1356h0M1707 1282h0M1560 1157h0" stroke="#666c74" stroke-width="8"/><path d="M1457 1115h0M1869 1306h0M1400 1208h0M1626 1182h0M1240 1417h0M1185 1201h0M1101 1342h0M1146 1203h0M1391 1296h0M1360 1202h0M1589 1382h0M1048 1313h0M1527 1346h0M1695 1394h0M1569 1198h0M1786 1313h0M1559 1298h0M1057 1407h0M1298 1171h0M1640 1333h0M1384 1304h0M1150 1314h0M1308 1231h0M1772 1397h0M1205 1249h0M1520 1398h0M1340 1255h0M1820 1273h0M1260 1227h0M1252 1155h0M1922 1403h0M1631 1266h0M1499 1365h0M1666 1207h0M1176 1208h0M1293 1216h0M1343 1227h0M1654 1239h0M1310 1209h0M1353 1275h0M1454 1308h0M1635 1369h0M1443 1407h0M1778 1195h0M1598 1402h0M1252 1244h0M1587 1162h0M1023 1385h0M1172 1320h0M1600 1314h0M1734 1412h0M1390 1327h0M1180 1332h0M1509 1403h0M1268 1175h0M1613 1329h0M1659 1332h0M1321 1223h0M1824 1399h0M1874 1311h0M1336 1251h0M1138 1284h0M1226 1343h0M1213 1351h0M1375 1245h0M1430 1363h0M1679 1343h0M1465 1420h0M1299 1409h0M1373 1332h0M1345 1325h0M1747 1415h0M1672 1302h0M1587 1279h0M1100 1179h0M1327 1272h0M1021 1350h0M1738 1268h0M1279 1397h0M1115 1157h0M1417 1126h0M1749 1302h0M1902 1373h0M1134 1162h0M1865 1418h0M1575 1395h0M1248 1315h0M1800 1283h0M1292 1297h0M1727 1384h0M1403 1292h0M1209 1338h0M1454 1267h0M1469 1420h0M1701 1167h0M1355 1211h0M1388 1269h0M1157 1385h0M1686 1253h0M1068 1231h0M1481 1127h0M1209 1387h0M1613 1268h0M1430 1167h0M1832 1202h0M1770 1408h0M1258 1205h0M1749 1422h0M1122 1162h0M1135 1315h0M1519 1293h0M1306 1371h0M1088 1277h0M1732 1249h0M1160 1280h0M1221 1376h0M1323 1234h0M1787 1280h0M1650 1316h0M1713 1191h0M1452 1416h0M1913 1222h0" stroke="#5e656f" stroke-width="4"/><path d="M1040 1412h0M1574 1356h0M1749 1366h0M1099 1175h0M1706 1185h0M1033 1337h0M1245 1177h0M1458 1398h0M1688 1309h0M1839 1427h0M1807 1217h0M1118 1299h0M1388 1359h0M1387 1388h0M1582 1213h0M1130 1170h0M1700 1393h0M1421 1407h0M1767 1297h0M1815 1351h0M1511 1141h0M1443 1186h0M1725 1247h0M1768 1396h0M1563 1191h0M1360 1320h0M1568 1318h0M1358 1216h0M1846 1392h0M1427 1391h0M1021 1371h0M1143 1315h0M1152 1282h0M1313 1154h0M1571 1281h0M1490 1425h0M1788 1257h0M1607 1320h0M1239 1219h0M1137 1153h0M1521 1246h0M1476 1163h0M1846 1362h0M1589 1409h0M1811 1286h0M1585 1260h0M1139 1305h0M1403 1408h0M1561 1244h0M1905 1377h0M1189 1315h0M1050 1278h0M1718 1404h0M1514 1346h0M1460 1132h0M1746 1394h0M1648 1240h0M1635 1211h0M1219 1333h0M1201 1247h0M1781 1385h0M1329 1364h0M1360 1192h0M1553 1422h0M1538 1166h0M1566 1260h0M1896 1388h0M1844 1358h0M1470 1216h0M1023 1280h0M1020 1246h0M1119 1409h0M1528 1179h0M1633 1329h0M1600 1303h0M1353 1377h0M1177 1394h0M1737 1241h0M1065 1184h0M1703 1350h0M1396 1388h0M1351 1409h0M1315 1426h0M1834 1413h0M1327 1331h0M1300 1303h0M1194 1194h0M1459 1410h0M1446 1260h0M1913 1271h0M1395 1395h0M1918 1299h0M1724 1239h0M1130 1376h0M1691 1331h0M1322 1177h0M1915 1298h0M1475 1229h0M1656 1353h0M1619 1244h0M1647 1174h0M1740 1328h0M1160 1348h0M1446 1259h0M1519 1292h0M1526 1244h0M1104 1410h0M1661 1285h0M1422 1358h0M1053 1356h0M1284 1182h0M1112 1258h0M1268 1269h0M1389 1112h0M1080 1275h0M1611 1220h0M1705 1361h0M1334 1336h0" stroke="#3a404b" stroke-width="6"/><path d="M1644 1399h0M1905 1382h0M1572 1290h0M1212 1257h0M1448 1334h0M1479 1170h0M1165 1234h0M1079 1381h0M1827 1354h0M1375 1428h0M1229 1401h0M1228 1161h0M1196 1271h0M1158 1389h0M1356 1383h0M1167 1324h0M1532 1208h0M1415 1334h0M1805 1240h0M1634 1306h0M1727 1330h0M1407 1304h0M1029 1412h0M1835 1274h0M1720 1399h0M1451 1352h0M1266 1245h0M1557 1414h0M1300 1146h0M1442 1204h0M1100 1410h0M1587 1406h0M1729 1370h0M1215 1231h0M1093 1363h0M1570 1187h0M1720 1303h0M1311 1425h0M1525 1209h0M1450 1310h0M1793 1353h0M1908 1257h0M1340 1197h0M1285 1165h0M1167 1269h0M1124 1418h0M1620 1221h0M1398 1293h0M1550 1419h0M1859 1224h0M1777 1304h0M1525 1316h0M1778 1223h0M1506 1246h0M1328 1151h0M1723 1357h0M1872 1237h0M1613 1248h0M1466 1418h0M1606 1390h0M1445 1192h0M1807 1230h0M1316 1401h0M1660 1216h0M1400 1112h0M1447 1414h0M1310 1145h0M1831 1277h0M1165 1226h0M1852 1223h0M1312 1250h0M1809 1344h0M1428 1388h0M1884 1404h0M1642 1195h0M1807 1237h0M1211 1228h0M1434 1414h0M1529 1411h0M1625 1209h0M1261 1388h0M1254 1351h0M1173 1370h0M1282 1223h0M1909 1234h0M1158 1306h0M1654 1350h0M1419 1370h0M1864 1419h0M1806 1425h0M1158 1219h0M1157 1264h0M1415 1182h0M1402 1372h0M1681 1247h0M1060 1387h0M1544 1136h0M1657 1267h0M1177 1277h0M1566 1148h0M1616 1191h0M1424 1423h0M1554 1272h0" stroke="#5e656f" stroke-width="6"/><path d="M1885 1239h0M1401 1398h0M1349 1198h0M1857 1345h0M1073 1220h0M1682 1428h0M1682 1399h0M1633 1251h0M1401 1276h0M1550 1159h0M1477 1148h0M1536 1187h0M1395 1141h0M1260 1149h0M1128 1331h0M1495 1221h0M1782 1279h0M1515 1211h0M1543 1276h0M1181 1285h0M1735 1249h0M1741 1313h0M1256 1374h0M1583 1265h0M1584 1238h0M1456 1088h0M1376 1218h0M1685 1227h0M1227 1276h0M1201 1345h0M1204 1282h0M1852 1240h0M1287 1178h0M1349 1218h0M1355 1239h0M1568 1394h0M1225 1195h0M1507 1201h0M1435 1305h0M1337 1378h0M1625 1256h0M1273 1402h0M1390 1242h0M1578 1331h0M1072 1215h0M1102 1306h0M1357 1227h0M1532 1197h0M1415 1264h0" stroke="#5e656f" stroke-width="8"/><path d="M1698 1249h0M1160 1274h0M1254 1229h0M1214 1164h0M1533 1364h0M1259 1336h0M1516 1332h0M1446 1203h0M1322 1413h0M1285 1280h0M1720 1314h0M1623 1229h0M1256 1306h0M1371 1292h0M1242 1155h0M1234 1151h0M1792 1235h0M1398 1415h0M1592 1300h0M1035 1332h0M1693 1402h0M1508 1252h0M1547 1155h0M1390 1347h0M1050 1306h0M1522 1217h0M1476 1150h0M1391 1356h0M1620 1203h0M1179 1377h0M1264 1294h0M1917 1343h0M1319 1339h0M1377 1135h0M1633 1239h0M1225 1418h0M1557 1159h0M1315 1292h0M1776 1287h0M1538 1286h0M1071 1228h0M1350 1137h0M1117 1337h0M1064 1324h0M1329 1273h0M1157 1313h0M1267 1359h0M1313 1374h0M1677 1337h0M1735 1326h0M1699 1304h0M1628 1341h0M1766 1225h0M1132 1182h0M1753 1243h0M1191 1396h0M1348 1333h0M1455 1147h0M1689 1380h0M1889 1394h0M1085 1205h0M1097 1221h0M1758 1307h0M1110 1337h0M1354 1218h0M1466 1333h0M1646 1308h0M1454 1404h0M1147 1251h0M1502 1192h0M1058 1186h0M1355 1347h0M1423 1225h0M1433 1371h0M1356 1398h0M1072 1184h0M1693 1371h0M1480 1257h0M1920 1260h0M1444 1130h0M1252 1327h0M1830 1414h0M1440 1373h0M1478 1099h0M1580 1363h0M1414 1238h0M1775 1416h0M1223 1191h0M1535 1303h0M1834 1346h0M1670 1189h0" stroke="#383d47" stroke-width="4"/><path d="M1156 1396h0M1156 1261h0M1625 1354h0M1379 1253h0M1095 1179h0M1734 1399h0M1745 1339h0M1117 1254h0M1837 1298h0M1907 1254h0M1140 1211h0M1254 1326h0M1491 1226h0M1600 1333h0M1569 1284h0M1299 1329h0M1319 1293h0M1782 1373h0M1472 1308h0M1590 1265h0M1720 1388h0M1407 1261h0M1233 1175h0M1499 1303h0M1528 1400h0M1828 1363h0M1459 1295h0M1345 1353h0M1897 1378h0M1368 1284h0M1146 1263h0M1774 1330h0M1538 1179h0M1153 1294h0M1065 1313h0M1744 1394h0M1220 1341h0M1363 1329h0M1566 1215h0M1805 1210h0M1506 1165h0M1388 1333h0M1536 1161h0M1679 1203h0M1821 1212h0M1076 1288h0M1494 1315h0M1519 1296h0M1665 1235h0M1073 1282h0M1057 1240h0M1608 1189h0M1215 1408h0" stroke="#3a404b" stroke-width="8"/><path d="M1199 1181h0M1386 1270h0M1760 1234h0M1102 1266h0M1631 1185h0M1472 1364h0M1831 1217h0M1134 1231h0M1890 1300h0M1083 1265h0M1192 1309h0M1243 1300h0M1728 1290h0M1098 1343h0M1276 1159h0M1169 1408h0M1859 1391h0M1174 1423h0M1722 1363h0M1469 1187h0M1818 1321h0M1348 1307h0M1653 1210h0M1579 1213h0M1145 1418h0M1581 1171h0M1569 1216h0M1505 1361h0M1766 1335h0M1815 1416h0M1163 1207h0M1872 1428h0M1351 1360h0M1042 1327h0M1143 1321h0M1234 1168h0M1780 1379h0M1685 1397h0M1586 1415h0M1521 1185h0M1366 1137h0M1342 1361h0M1726 1401h0M1555 1244h0M1138 1157h0M1208 1419h0M1222 1371h0M1104 1245h0M1029 1408h0M1627 1357h0M1099 1178h0M1283 1272h0M1606 1362h0M1515 1344h0M1217 1243h0M1915 1331h0M1499 1308h0M1293 1226h0M1159 1364h0M1171 1286h0M1100 1419h0M1541 1208h0M1060 1393h0M1582 1368h0M1483 1158h0M1905 1410h0M1598 1192h0M1554 1234h0M1345 1421h0M1164 1320h0M1770 1392h0M1775 1288h0M1484 1404h0M1138 1202h0M1723 1374h0M1636 1317h0M1105 1236h0M1333 1337h0M1550 1152h0M1126 1245h0M1862 1307h0M1620 1385h0M1421 1232h0M1131 1304h0" stroke="#666c74" stroke-width="6"/><path d="M1919 1229h0M1653 1259h0M1441 1349h0M1754 1302h0M1344 1211h0M1853 1422h0M1648 1369h0M1206 1176h0M1582 1309h0M1230 1284h0M1460 1376h0M1489 1374h0M1577 1377h0M1549 1256h0M1719 1270h0M1715 1280h0M1397 1341h0M1462 1150h0M1529 1200h0M1802 1420h0M1020 1341h0M1559 1147h0M1130 1402h0M1553 1235h0M1298 1195h0M1335 1149h0M1790 1276h0M1685 1316h0M1368 1423h0M1409 1126h0M1121 1260h0M1763 1292h0M1756 1324h0M1809 1272h0M1142 1396h0M1708 1282h0M1842 1355h0M1489 1276h0M1852 1318h0" stroke="#2f343c" stroke-width="8"/></g>
<g filter="url(#b4)" clip-path="url(#gc)">
<path d="M1285 950 L1322 928 L1345 905 L1365 893 L1397 877 L1430 865 L1460 870 L1525 864 L1600 866 L1654 865 L1700 868 L1761 862 L1820 858 L1860 855 L1890 844 L1924 855 L1924 1020 L1285 1020 Z" fill="#686759"/>
<path d="M1387 885 L1430 866 L1480 871 L1514 877 L1482 907 L1419 917 L1365 917 Z" fill="#8f8a78" opacity="0.90"/>
<path d="M1529 853 L1550 851 L1581 864 L1611 877 L1606 894 L1557 896 L1535 877 Z" fill="#a59c8f"/>
<path d="M1473 889 L1503 883 L1516 898 L1482 905 Z" fill="#97877a"/>
<path d="M1858 853 L1882 843 L1912 849 L1903 864 L1869 870 Z" fill="#b39d89"/>
<path d="M1700 975 L1745 925 L1815 905 L1869 894 L1924 894 L1924 1015 L1715 1012 Z" fill="#45484b" opacity="0.90"/>
<path d="M1169 894 L1195 887 L1229 896 L1232 911 L1204 915 L1169 909 Z" fill="#7d7069"/>
<path d="M1199 920 L1217 915 L1221 928 L1204 933 Z" fill="#b5aa9c"/>
<path d="M1176 928 L1186 924 L1189 934 L1178 935 Z" fill="#c9c4bb"/>
<path d="M1247 913 L1277 915 L1279 928 L1251 928 Z" fill="#8a7a70"/>
</g>
<g transform="scale(1 0.70)" fill="none" stroke-linecap="round" opacity="0.75"><path d="M1550 1277h0M1876 1331h0M1780 1388h0M1322 1373h0M1902 1430h0M1500 1243h0M1643 1249h0M1380 1452h0M1360 1370h0M1739 1287h0M1340 1453h0M1899 1335h0M1624 1399h0M1820 1264h0M1642 1317h0M1833 1307h0M1662 1413h0M1913 1285h0M1877 1340h0M1502 1303h0M1424 1263h0M1817 1327h0M1905 1397h0M1590 1275h0M1521 1306h0M1464 1453h0M1512 1386h0M1381 1424h0M1448 1281h0M1654 1258h0M1894 1254h0M1474 1327h0M1325 1433h0M1457 1285h0M1912 1342h0M1587 1442h0M1423 1451h0M1347 1417h0M1833 1253h0M1451 1258h0M1575 1243h0M1727 1362h0M1615 1259h0M1709 1412h0M1328 1373h0M1423 1376h0M1826 1282h0M1652 1287h0M1701 1371h0M1445 1274h0M1777 1395h0M1880 1277h0M1345 1382h0M1625 1303h0M1387 1312h0M1650 1396h0M1398 1400h0M1773 1369h0M1857 1356h0M1866 1281h0M1793 1270h0M1872 1383h0M1866 1377h0M1772 1276h0M1629 1284h0M1423 1453h0M1649 1264h0M1598 1433h0M1552 1421h0M1544 1398h0M1296 1383h0M1885 1439h0M1671 1273h0M1901 1452h0M1648 1346h0M1448 1385h0M1620 1267h0M1776 1266h0M1437 1390h0M1399 1396h0M1748 1436h0M1360 1355h0M1339 1377h0M1668 1417h0M1510 1264h0" stroke="#47473f" stroke-width="4"/><path d="M1446 1335h0M1688 1336h0M1643 1297h0M1296 1387h0M1368 1381h0M1494 1358h0M1687 1423h0M1632 1280h0M1390 1307h0M1638 1344h0M1649 1287h0M1453 1266h0M1666 1411h0M1726 1457h0M1862 1411h0M1414 1452h0M1910 1276h0M1652 1375h0M1549 1273h0M1625 1283h0M1646 1432h0M1414 1336h0M1652 1423h0M1874 1453h0M1853 1319h0M1811 1446h0M1401 1289h0M1387 1280h0M1521 1329h0M1769 1417h0M1721 1380h0M1333 1432h0M1593 1341h0M1417 1339h0M1783 1334h0M1616 1436h0M1795 1424h0M1711 1375h0M1447 1325h0M1418 1242h0M1737 1358h0M1476 1345h0M1808 1350h0M1396 1432h0M1661 1373h0M1314 1354h0M1357 1284h0M1877 1379h0M1719 1448h0M1654 1400h0M1537 1321h0M1410 1418h0M1905 1246h0M1501 1289h0M1902 1449h0M1544 1262h0M1689 1312h0M1793 1442h0M1725 1299h0M1521 1342h0M1798 1380h0M1322 1356h0M1818 1437h0M1636 1315h0M1628 1294h0M1898 1448h0M1577 1247h0M1407 1423h0M1558 1254h0M1488 1381h0M1639 1282h0M1881 1402h0M1833 1234h0M1758 1377h0M1359 1281h0" stroke="#8f8b76" stroke-width="4"/><path d="M1885 1277h0M1873 1292h0M1818 1294h0M1834 1376h0M1307 1437h0M1777 1272h0M1320 1393h0M1488 1242h0M1645 1408h0M1506 1237h0M1664 1377h0M1481 1326h0M1534 1426h0M1391 1339h0M1367 1457h0M1482 1355h0M1372 1276h0M1365 1334h0M1668 1412h0M1698 1329h0M1799 1369h0M1465 1374h0M1429 1239h0M1910 1398h0M1725 1334h0M1817 1404h0M1667 1403h0M1551 1294h0M1847 1238h0M1448 1328h0M1744 1292h0M1595 1274h0M1433 1322h0M1288 1431h0M1824 1344h0M1602 1277h0M1846 1224h0M1646 1397h0M1706 1255h0M1848 1391h0M1798 1416h0M1585 1248h0M1494 1400h0M1413 1388h0M1324 1383h0M1408 1285h0M1639 1348h0M1548 1236h0M1711 1305h0M1501 1369h0M1684 1314h0M1710 1318h0M1922 1412h0" stroke="#3f4040" stroke-width="6"/><path d="M1490 1256h0M1791 1347h0M1731 1389h0M1885 1278h0M1722 1318h0M1529 1350h0M1753 1328h0M1890 1272h0M1873 1224h0M1288 1395h0M1521 1441h0M1333 1427h0M1693 1251h0M1850 1281h0M1872 1324h0M1566 1442h0M1630 1433h0M1906 1273h0M1724 1340h0M1483 1299h0M1757 1245h0M1493 1422h0M1496 1262h0M1517 1427h0M1617 1330h0M1680 1336h0M1804 1378h0M1484 1340h0M1550 1304h0M1536 1266h0M1416 1421h0M1374 1273h0M1715 1395h0M1390 1353h0M1595 1391h0M1326 1430h0M1487 1404h0M1797 1387h0M1801 1235h0M1869 1438h0M1469 1427h0M1886 1212h0M1842 1243h0M1505 1376h0M1817 1367h0M1562 1264h0M1545 1376h0M1541 1269h0M1476 1266h0M1405 1311h0M1625 1251h0M1634 1355h0M1918 1321h0M1858 1408h0M1875 1266h0M1876 1383h0M1301 1437h0M1560 1437h0" stroke="#85826f" stroke-width="6"/><path d="M1300 1416h0M1457 1328h0M1607 1440h0M1640 1258h0M1309 1348h0M1912 1395h0M1728 1440h0M1741 1413h0M1503 1307h0M1495 1282h0M1431 1415h0M1503 1293h0M1789 1405h0M1912 1405h0M1608 1379h0M1846 1263h0M1402 1352h0M1657 1301h0M1822 1408h0M1378 1344h0M1526 1335h0M1433 1365h0M1329 1409h0M1309 1446h0M1364 1387h0M1806 1273h0M1364 1289h0M1674 1370h0M1656 1356h0M1541 1448h0M1483 1439h0M1737 1334h0M1470 1324h0M1723 1401h0M1852 1318h0M1483 1401h0M1769 1383h0M1748 1369h0M1623 1269h0M1725 1397h0M1613 1314h0M1741 1426h0M1500 1282h0M1427 1305h0M1497 1429h0M1784 1316h0M1742 1404h0M1453 1425h0M1616 1443h0M1509 1252h0M1762 1299h0M1438 1272h0M1403 1434h0M1858 1436h0" stroke="#55554c" stroke-width="4"/><path d="M1613 1446h0M1917 1260h0M1665 1401h0M1660 1316h0M1830 1452h0M1529 1274h0M1553 1352h0M1372 1287h0M1577 1370h0M1849 1332h0M1454 1334h0M1529 1257h0M1723 1421h0M1642 1450h0M1671 1257h0M1875 1254h0M1849 1351h0M1877 1404h0M1708 1330h0M1516 1296h0M1602 1246h0M1416 1323h0M1612 1357h0M1828 1340h0M1445 1332h0M1541 1324h0M1359 1440h0M1838 1330h0M1899 1452h0M1874 1293h0M1895 1329h0M1356 1322h0M1587 1244h0M1758 1280h0M1745 1416h0M1481 1440h0M1441 1409h0M1369 1418h0M1353 1405h0M1623 1442h0M1825 1286h0M1426 1264h0M1668 1345h0M1777 1235h0M1790 1241h0M1456 1258h0M1688 1332h0M1583 1386h0M1363 1364h0M1522 1347h0M1655 1357h0M1319 1392h0M1402 1311h0M1606 1411h0M1830 1406h0M1745 1400h0M1530 1333h0M1449 1254h0M1753 1291h0M1888 1394h0" stroke="#85826f" stroke-width="4"/><path d="M1360 1298h0M1875 1274h0M1433 1263h0M1496 1364h0M1862 1317h0M1398 1436h0M1844 1234h0M1343 1437h0M1818 1447h0M1921 1346h0M1575 1454h0M1600 1445h0M1842 1247h0M1492 1301h0M1340 1306h0M1726 1447h0M1890 1305h0M1635 1296h0M1581 1409h0M1434 1268h0M1517 1323h0M1664 1446h0M1758 1347h0M1759 1344h0M1761 1309h0M1397 1299h0M1649 1395h0M1564 1274h0M1776 1374h0M1725 1443h0M1659 1393h0M1713 1420h0M1613 1442h0M1523 1383h0M1452 1435h0M1423 1337h0M1735 1245h0M1610 1247h0M1338 1323h0M1877 1309h0M1623 1396h0M1877 1456h0M1870 1264h0M1383 1425h0M1564 1392h0M1808 1424h0M1522 1355h0M1719 1278h0M1366 1325h0M1485 1425h0M1667 1305h0M1582 1278h0" stroke="#626156" stroke-width="4"/><path d="M1868 1267h0M1411 1337h0M1352 1342h0M1890 1446h0M1765 1365h0M1753 1317h0M1866 1434h0M1578 1242h0M1417 1250h0M1880 1268h0M1520 1335h0M1889 1428h0M1574 1437h0M1505 1288h0M1664 1416h0M1338 1456h0M1884 1268h0M1424 1270h0M1380 1457h0M1518 1444h0M1333 1352h0M1740 1445h0M1710 1436h0M1477 1395h0M1808 1428h0M1462 1415h0M1846 1280h0M1829 1383h0M1537 1261h0M1673 1263h0M1483 1419h0M1829 1256h0M1666 1262h0M1489 1241h0M1394 1318h0M1793 1287h0M1631 1287h0M1916 1443h0M1666 1364h0M1888 1440h0M1855 1287h0M1426 1369h0M1348 1388h0M1869 1246h0M1355 1367h0M1720 1292h0M1886 1208h0M1587 1350h0M1304 1409h0M1630 1369h0M1320 1366h0M1637 1259h0M1650 1280h0M1568 1435h0M1719 1315h0M1592 1350h0M1710 1251h0M1499 1368h0M1601 1432h0" stroke="#3f4040" stroke-width="4"/><path d="M1348 1438h0M1795 1423h0M1745 1289h0M1496 1440h0M1845 1270h0M1439 1406h0M1294 1384h0M1762 1295h0M1615 1265h0M1820 1423h0M1910 1222h0M1721 1434h0M1458 1328h0M1505 1277h0M1453 1272h0M1319 1418h0M1790 1346h0M1882 1240h0M1494 1407h0M1404 1383h0M1760 1321h0M1328 1358h0M1668 1288h0M1746 1446h0M1890 1207h0M1886 1377h0M1741 1440h0M1341 1425h0M1359 1378h0M1580 1339h0M1505 1328h0M1920 1323h0M1432 1259h0M1704 1447h0M1896 1229h0M1869 1294h0M1457 1362h0" stroke="#55554c" stroke-width="8"/><path d="M1913 1253h0M1787 1258h0M1780 1394h0M1563 1381h0M1655 1243h0M1444 1439h0M1490 1335h0M1491 1366h0M1511 1294h0M1450 1289h0M1571 1340h0M1851 1235h0M1509 1429h0M1867 1223h0M1342 1321h0M1379 1292h0M1872 1260h0M1744 1370h0M1733 1393h0M1576 1304h0M1819 1234h0M1590 1326h0M1341 1388h0M1870 1226h0M1426 1436h0M1863 1446h0M1615 1403h0M1468 1429h0M1293 1363h0M1334 1334h0M1894 1313h0M1356 1376h0M1657 1328h0M1513 1359h0M1690 1286h0M1488 1281h0M1483 1303h0M1622 1456h0M1861 1381h0M1605 1390h0M1895 1395h0M1422 1386h0M1546 1355h0M1795 1343h0M1679 1448h0M1744 1329h0M1394 1373h0M1344 1411h0M1563 1304h0M1474 1375h0M1819 1323h0M1431 1413h0M1721 1271h0M1777 1322h0M1480 1358h0M1632 1408h0M1445 1366h0M1789 1398h0M1416 1430h0M1390 1313h0" stroke="#55554c" stroke-width="6"/><path d="M1595 1335h0M1603 1353h0M1604 1356h0M1827 1282h0M1402 1282h0M1563 1456h0M1413 1422h0M1630 1417h0M1703 1280h0M1333 1332h0M1440 1446h0M1832 1263h0M1505 1392h0M1705 1420h0M1405 1249h0M1333 1344h0M1349 1294h0M1904 1269h0M1920 1291h0M1526 1432h0M1912 1363h0M1371 1409h0M1359 1318h0M1840 1333h0" stroke="#7a7968" stroke-width="8"/><path d="M1774 1324h0M1862 1313h0M1884 1312h0M1460 1428h0M1427 1316h0M1696 1277h0M1610 1359h0M1453 1366h0M1868 1448h0M1884 1432h0M1717 1297h0M1682 1353h0M1410 1305h0M1661 1447h0M1291 1417h0M1620 1311h0M1495 1410h0M1896 1418h0M1891 1311h0M1540 1283h0M1695 1283h0M1632 1274h0M1552 1317h0M1648 1277h0M1486 1260h0M1542 1411h0" stroke="#85826f" stroke-width="8"/><path d="M1606 1450h0M1747 1286h0M1312 1381h0M1452 1281h0M1497 1305h0M1513 1345h0M1687 1380h0M1833 1397h0M1290 1431h0M1725 1385h0M1332 1345h0M1676 1396h0M1903 1427h0M1783 1304h0M1851 1339h0M1539 1434h0M1426 1384h0M1796 1272h0M1758 1278h0M1612 1384h0M1891 1371h0M1723 1329h0M1641 1389h0M1554 1396h0M1309 1380h0M1891 1333h0M1401 1401h0M1586 1293h0M1689 1266h0M1651 1390h0M1631 1455h0M1783 1335h0M1610 1352h0M1487 1436h0M1715 1316h0M1785 1290h0M1688 1386h0M1343 1452h0M1585 1421h0M1747 1386h0M1718 1299h0M1428 1399h0M1655 1253h0M1510 1451h0M1681 1402h0M1828 1240h0M1713 1355h0M1346 1345h0M1846 1356h0M1750 1370h0M1569 1429h0M1505 1438h0M1752 1375h0M1843 1252h0M1564 1245h0M1513 1290h0M1749 1350h0M1294 1399h0M1764 1335h0M1421 1454h0M1740 1261h0M1796 1397h0M1585 1290h0M1489 1341h0M1880 1219h0M1659 1373h0M1462 1384h0M1752 1430h0M1690 1425h0" stroke="#8f8b76" stroke-width="6"/><path d="M1531 1408h0M1704 1354h0M1439 1270h0M1508 1411h0M1883 1250h0M1464 1293h0M1390 1271h0M1488 1242h0M1365 1293h0M1511 1380h0M1894 1317h0M1699 1318h0M1348 1447h0M1502 1412h0M1824 1309h0M1474 1254h0M1833 1404h0M1353 1342h0M1919 1390h0M1448 1245h0M1837 1237h0M1368 1359h0M1633 1247h0M1490 1434h0M1774 1342h0M1576 1248h0M1465 1313h0M1886 1400h0M1564 1250h0M1501 1412h0M1793 1370h0M1404 1252h0M1911 1266h0M1845 1315h0M1492 1399h0M1788 1395h0M1822 1348h0M1659 1312h0M1348 1388h0M1905 1300h0M1365 1335h0M1655 1385h0M1307 1402h0M1683 1265h0M1493 1405h0M1374 1394h0M1410 1441h0M1744 1286h0M1498 1264h0M1768 1304h0M1521 1338h0M1886 1273h0M1338 1371h0M1568 1284h0M1658 1259h0M1916 1304h0M1387 1456h0M1696 1266h0M1487 1291h0M1828 1315h0M1463 1339h0M1897 1373h0M1618 1395h0M1891 1267h0M1804 1256h0M1637 1440h0M1919 1400h0M1878 1386h0M1890 1264h0M1433 1365h0M1305 1438h0M1647 1361h0M1665 1376h0M1520 1342h0M1403 1262h0M1865 1329h0M1759 1400h0M1883 1350h0M1444 1375h0" stroke="#7a7968" stroke-width="6"/><path d="M1504 1411h0M1580 1258h0M1452 1316h0M1564 1370h0M1679 1436h0M1438 1452h0M1839 1303h0M1739 1431h0M1892 1313h0M1596 1337h0M1608 1303h0M1452 1434h0M1630 1427h0M1469 1343h0M1572 1239h0M1376 1294h0M1920 1296h0M1792 1291h0M1683 1438h0M1758 1343h0M1460 1400h0M1514 1369h0M1611 1440h0" stroke="#626156" stroke-width="8"/><path d="M1366 1338h0M1379 1431h0M1438 1321h0M1761 1369h0M1423 1388h0M1923 1412h0M1774 1340h0M1844 1287h0M1310 1409h0M1424 1314h0M1622 1281h0M1534 1389h0M1433 1299h0M1638 1339h0M1566 1252h0M1404 1322h0M1724 1358h0M1710 1352h0M1680 1375h0M1524 1389h0M1783 1286h0M1308 1446h0M1585 1241h0M1673 1360h0M1520 1315h0M1733 1356h0M1521 1345h0M1803 1376h0M1727 1439h0M1594 1299h0M1636 1284h0M1751 1387h0M1871 1431h0M1673 1306h0M1827 1380h0M1838 1365h0M1800 1231h0M1455 1401h0M1691 1396h0M1910 1282h0M1588 1328h0M1851 1223h0M1791 1256h0M1816 1397h0M1746 1260h0M1776 1375h0M1866 1395h0M1685 1329h0M1843 1287h0M1808 1269h0M1479 1430h0M1822 1394h0M1705 1445h0M1490 1387h0M1921 1308h0M1842 1313h0M1785 1299h0M1588 1442h0M1330 1329h0M1848 1409h0M1660 1420h0M1355 1439h0M1886 1296h0M1867 1376h0M1625 1400h0M1593 1372h0M1716 1309h0M1501 1338h0M1692 1418h0M1759 1373h0M1729 1322h0M1836 1240h0M1808 1448h0" stroke="#47473f" stroke-width="6"/><path d="M1707 1269h0M1747 1395h0M1526 1240h0M1502 1321h0M1890 1324h0M1845 1298h0M1387 1364h0M1343 1311h0M1908 1404h0M1487 1333h0M1288 1419h0M1797 1325h0M1747 1385h0M1616 1393h0M1492 1398h0M1350 1383h0M1526 1242h0M1444 1292h0M1903 1216h0" stroke="#8f8b76" stroke-width="8"/><path d="M1397 1401h0M1348 1420h0M1724 1405h0M1839 1348h0M1564 1237h0M1830 1411h0M1796 1321h0M1872 1391h0M1901 1226h0M1743 1390h0M1434 1432h0M1802 1339h0M1548 1313h0M1376 1402h0M1603 1332h0M1366 1414h0M1539 1387h0M1863 1241h0M1461 1311h0M1618 1252h0M1462 1338h0M1527 1357h0M1605 1353h0M1839 1304h0M1481 1433h0M1409 1272h0M1610 1345h0M1369 1370h0M1780 1354h0M1774 1386h0M1756 1302h0M1441 1264h0M1683 1380h0M1731 1308h0M1440 1391h0M1910 1311h0M1680 1255h0M1904 1361h0M1313 1351h0M1498 1247h0M1700 1396h0M1353 1364h0M1337 1414h0M1584 1249h0M1467 1295h0M1771 1272h0M1582 1348h0M1814 1238h0M1580 1411h0M1717 1428h0M1402 1333h0M1473 1395h0M1378 1359h0M1635 1438h0M1728 1397h0M1541 1393h0M1442 1418h0M1494 1286h0M1849 1309h0M1871 1315h0M1792 1382h0M1682 1428h0M1843 1242h0M1505 1295h0M1540 1403h0M1820 1436h0" stroke="#626156" stroke-width="6"/><path d="M1588 1430h0M1451 1259h0M1871 1251h0M1351 1300h0M1808 1227h0M1550 1400h0M1702 1400h0M1634 1295h0M1326 1346h0M1852 1343h0M1909 1344h0M1368 1451h0M1630 1239h0M1523 1319h0M1777 1232h0M1732 1425h0M1454 1272h0M1702 1245h0M1353 1445h0M1878 1405h0M1444 1425h0M1571 1246h0M1768 1231h0M1403 1326h0M1314 1429h0M1893 1397h0M1685 1283h0M1747 1254h0M1888 1240h0M1891 1316h0M1759 1252h0M1614 1295h0" stroke="#47473f" stroke-width="8"/><path d="M1343 1360h0M1660 1317h0M1412 1408h0M1630 1328h0M1862 1442h0M1661 1245h0M1566 1350h0M1570 1288h0M1512 1269h0M1310 1456h0M1813 1404h0M1405 1323h0M1703 1360h0M1921 1245h0M1455 1395h0M1820 1268h0M1812 1268h0M1725 1251h0M1312 1408h0M1902 1303h0M1599 1280h0M1906 1394h0M1860 1319h0M1645 1431h0M1857 1311h0M1599 1320h0M1326 1438h0M1456 1310h0M1735 1414h0M1425 1269h0M1827 1310h0M1896 1352h0M1635 1440h0M1915 1301h0M1744 1422h0" stroke="#3f4040" stroke-width="8"/><path d="M1628 1350h0M1741 1239h0M1542 1382h0M1621 1365h0M1681 1342h0M1688 1284h0M1396 1457h0M1734 1429h0M1537 1273h0M1515 1287h0M1647 1357h0M1360 1429h0M1721 1246h0M1863 1399h0M1709 1279h0M1857 1288h0M1892 1296h0M1402 1372h0M1850 1265h0M1473 1351h0M1332 1415h0M1597 1421h0M1890 1227h0M1879 1229h0M1624 1373h0M1356 1306h0M1461 1252h0M1386 1268h0M1405 1330h0M1465 1387h0M1452 1391h0M1621 1347h0M1742 1420h0M1432 1286h0M1544 1330h0M1650 1399h0M1573 1314h0M1432 1369h0M1711 1252h0M1642 1367h0M1841 1432h0M1616 1393h0M1789 1355h0M1701 1443h0M1772 1336h0M1719 1409h0M1371 1375h0M1742 1310h0M1499 1323h0M1760 1315h0M1505 1449h0M1905 1259h0M1546 1324h0M1591 1259h0M1674 1400h0M1690 1325h0M1618 1376h0M1680 1341h0M1301 1353h0M1878 1249h0M1551 1260h0" stroke="#7a7968" stroke-width="4"/><path d="M1667 1289h0M1760 1272h0M1813 1328h0M1814 1346h0M1717 1267h0M1889 1302h0M1738 1272h0M1767 1252h0M1801 1286h0M1778 1304h0M1592 1337h0M1639 1333h0M1581 1320h0M1641 1345h0M1562 1348h0" stroke="#9a8672" stroke-width="6"/><path d="M1740 1290h0M1800 1295h0M1663 1316h0M1860 1316h0M1834 1277h0M1846 1283h0" stroke="#c0ab92" stroke-width="8"/><path d="M1759 1290h0M1729 1341h0M1770 1316h0M1668 1312h0M1699 1331h0M1752 1267h0M1805 1345h0M1826 1335h0M1737 1277h0M1651 1280h0M1835 1268h0M1559 1351h0M1639 1314h0M1620 1308h0M1655 1346h0M1580 1307h0M1562 1301h0M1579 1352h0M1610 1354h0M1695 1316h0M1563 1307h0M1672 1313h0M1598 1353h0" stroke="#a58e78" stroke-width="4"/><path d="M1669 1305h0M1735 1304h0M1760 1263h0M1663 1302h0M1714 1308h0M1839 1260h0M1878 1322h0M1822 1275h0M1688 1298h0M1814 1346h0M1765 1290h0M1787 1341h0" stroke="#c0ab92" stroke-width="6"/><path d="M1850 1264h0M1699 1322h0M1715 1295h0M1870 1291h0M1716 1304h0M1886 1278h0M1810 1263h0M1784 1266h0M1615 1309h0M1628 1331h0M1609 1300h0" stroke="#9a8672" stroke-width="8"/><path d="M1745 1295h0M1846 1336h0M1852 1282h0M1779 1340h0M1796 1338h0M1790 1272h0M1859 1309h0M1673 1308h0M1878 1324h0M1732 1316h0M1828 1322h0M1584 1314h0M1605 1355h0M1605 1360h0M1554 1320h0M1619 1288h0M1644 1288h0M1602 1290h0M1646 1311h0M1598 1352h0" stroke="#9a8672" stroke-width="4"/><path d="M1764 1312h0M1866 1302h0M1723 1321h0M1817 1314h0M1654 1322h0M1704 1319h0M1751 1312h0M1866 1308h0M1747 1269h0M1787 1301h0M1822 1334h0M1826 1291h0M1714 1292h0M1603 1311h0M1595 1365h0M1588 1327h0M1664 1316h0M1614 1288h0M1617 1363h0M1673 1313h0M1682 1309h0" stroke="#a58e78" stroke-width="6"/><path d="M1734 1297h0M1875 1276h0M1740 1317h0M1724 1310h0M1767 1289h0M1687 1314h0M1850 1326h0M1573 1351h0M1625 1314h0M1597 1297h0M1580 1296h0M1631 1347h0M1625 1334h0" stroke="#b39c84" stroke-width="4"/><path d="M1668 1319h0M1719 1277h0M1758 1305h0M1731 1317h0M1751 1318h0M1778 1323h0M1731 1300h0M1642 1303h0M1832 1331h0M1801 1253h0M1738 1254h0M1861 1279h0M1838 1283h0M1657 1318h0M1783 1327h0M1701 1300h0" stroke="#c0ab92" stroke-width="4"/><path d="M1739 1306h0M1827 1273h0M1853 1279h0M1845 1339h0M1759 1313h0M1859 1330h0M1749 1337h0M1829 1270h0M1865 1278h0M1797 1264h0M1807 1253h0M1659 1360h0M1612 1299h0" stroke="#a58e78" stroke-width="8"/><path d="M1726 1333h0M1663 1300h0M1897 1294h0M1704 1327h0M1863 1323h0M1740 1276h0M1709 1314h0M1769 1281h0M1753 1309h0M1685 1273h0M1717 1269h0M1815 1331h0M1727 1332h0M1747 1309h0M1731 1257h0M1706 1273h0M1722 1278h0M1823 1341h0M1574 1324h0M1674 1337h0M1668 1325h0M1646 1296h0M1672 1335h0M1593 1363h0M1607 1319h0M1661 1332h0M1637 1300h0" stroke="#b39c84" stroke-width="6"/><path d="M1678 1318h0M1701 1338h0M1891 1287h0M1839 1314h0M1799 1315h0M1755 1295h0M1739 1270h0M1639 1335h0M1583 1362h0M1669 1360h0M1588 1291h0M1681 1333h0M1610 1321h0" stroke="#b39c84" stroke-width="8"/></g>
<g filter="url(#b4)">
<path d="M1000 948 L1180 944 L1290 952 L1460 983 L1610 989 L1761 1011 L1940 1013 L1940 1240 L1000 1240 Z" fill="#b0aa8a"/>
<path d="M1000 1018 L1100 1015 L1160 1000 L1200 1050 L1330 1085 L1460 1076 L1560 1072 L1654 1088 L1800 1095 L1940 1108 L1940 1240 L1000 1240 Z" fill="#d1cdc2"/>
<path d="M1000 948 L1180 945 L1180 957 L1000 962 Z" fill="#97965f"/>
<path d="M1178 953 L1225 946 L1264 957 L1262 981 L1204 985 L1182 972 Z" fill="#3b3b3e"/>
<path d="M1328 949 L1480 940 L1525 953 L1529 979 L1333 977 Z" fill="#57574f" opacity="0.90"/>
</g>
<g filter="url(#b8)" opacity="0.5">
<ellipse cx="1486" cy="1091" rx="40" ry="10" fill="#8d8c8a"/>
<ellipse cx="1697" cy="1220" rx="110" ry="10" fill="#8d8c8a"/>
<ellipse cx="1290" cy="1082" rx="150" ry="6" fill="#77766f"/>
<ellipse cx="1815" cy="1198" rx="60" ry="7" fill="#8d8c8a"/>
<ellipse cx="1783" cy="1104" rx="60" ry="5" fill="#8d8c8a"/>
</g>
<g filter="url(#b2)">
<g transform="scale(1 0.70)" fill="none" stroke-linecap="round"><path d="M1741 1491h0M1483 1450h0M1874 1504h0M1869 1448h0M1804 1498h0M1571 1487h0M1647 1502h0M1709 1476h0M1920 1504h0M1656 1523h0" stroke="#a5a180" stroke-width="14"/><path d="M1653 1509h0M1921 1561h0M1840 1539h0M1732 1465h0M1799 1470h0M1520 1431h0M1758 1481h0M1875 1478h0M1802 1518h0M1554 1450h0M1685 1447h0M1842 1554h0M1878 1462h0M1689 1513h0" stroke="#79796c" stroke-width="8"/><path d="M1586 1437h0M1708 1493h0M1730 1538h0M1677 1513h0M1604 1435h0M1454 1425h0M1687 1500h0M1464 1515h0M1876 1523h0M1478 1439h0M1886 1509h0M1579 1499h0M1712 1461h0" stroke="#8f8e75" stroke-width="8"/><path d="M1695 1452h0M1509 1523h0M1867 1518h0M1614 1495h0M1887 1474h0M1505 1472h0M1693 1433h0M1597 1508h0M1707 1435h0M1732 1469h0M1727 1517h0M1766 1457h0M1850 1558h0M1858 1483h0M1586 1415h0M1841 1503h0M1609 1425h0M1701 1449h0M1804 1501h0M1908 1490h0" stroke="#79796c" stroke-width="10"/><path d="M1682 1490h0M1545 1522h0M1665 1530h0M1501 1478h0M1671 1506h0M1777 1471h0M1644 1450h0M1672 1462h0M1515 1416h0M1695 1512h0M1786 1519h0M1785 1500h0M1920 1478h0M1614 1523h0M1672 1451h0M1894 1508h0M1590 1493h0M1871 1561h0M1682 1441h0" stroke="#a5a180" stroke-width="8"/><path d="M1527 1418h0M1545 1440h0M1734 1469h0M1862 1500h0M1473 1455h0M1518 1449h0M1607 1477h0M1642 1504h0M1791 1515h0M1652 1468h0M1815 1541h0M1635 1432h0M1846 1479h0M1727 1543h0M1503 1492h0M1514 1490h0" stroke="#a5a180" stroke-width="10"/><path d="M1777 1516h0M1546 1500h0M1563 1421h0M1528 1433h0M1665 1522h0M1428 1414h0M1904 1458h0M1583 1439h0M1754 1523h0M1834 1479h0M1516 1455h0M1861 1511h0M1851 1456h0" stroke="#8f8e75" stroke-width="10"/><path d="M1596 1436h0M1365 1403h0M1886 1553h0M1864 1452h0M1756 1553h0M1557 1508h0M1859 1536h0M1729 1517h0" stroke="#c4bd9a" stroke-width="6"/><path d="M1471 1503h0M1501 1517h0M1567 1509h0M1777 1521h0M1846 1495h0M1745 1493h0M1570 1486h0M1532 1507h0M1581 1504h0M1464 1520h0M1744 1445h0M1764 1467h0" stroke="#79796c" stroke-width="14"/><path d="M1492 1415h0M1627 1435h0M1625 1497h0M1835 1516h0M1890 1478h0M1916 1536h0M1859 1506h0M1654 1436h0M1490 1492h0M1712 1537h0M1811 1541h0" stroke="#c4bd9a" stroke-width="10"/><path d="M1359 1404h0M1598 1503h0M1684 1448h0M1648 1515h0M1855 1542h0M1588 1468h0M1851 1510h0" stroke="#68685e" stroke-width="14"/><path d="M1803 1516h0M1869 1461h0M1611 1529h0M1909 1498h0M1919 1473h0M1870 1473h0M1537 1453h0M1754 1461h0M1660 1494h0M1656 1533h0M1697 1510h0" stroke="#8a9060" stroke-width="10"/><path d="M1591 1432h0M1772 1497h0M1419 1416h0M1771 1521h0M1514 1419h0M1604 1503h0M1719 1460h0M1504 1480h0M1672 1499h0M1662 1504h0M1615 1515h0M1607 1416h0M1533 1460h0M1624 1469h0M1745 1511h0" stroke="#68685e" stroke-width="10"/><path d="M1875 1498h0M1609 1496h0M1645 1426h0M1845 1551h0M1488 1477h0M1807 1490h0M1481 1505h0M1795 1533h0M1892 1557h0M1556 1508h0M1904 1557h0M1766 1462h0M1715 1460h0M1696 1531h0" stroke="#8a9060" stroke-width="12"/><path d="M1591 1489h0M1529 1441h0M1603 1423h0M1642 1429h0M1644 1439h0M1863 1496h0M1877 1450h0M1749 1551h0M1649 1540h0M1735 1480h0M1467 1521h0M1831 1480h0M1661 1453h0M1612 1437h0" stroke="#79796c" stroke-width="12"/><path d="M1916 1463h0M1727 1516h0M1906 1511h0M1477 1501h0M1895 1492h0M1663 1492h0M1618 1430h0M1638 1474h0M1450 1412h0M1547 1413h0M1513 1459h0M1739 1506h0M1746 1510h0M1636 1501h0M1821 1523h0M1513 1513h0" stroke="#68685e" stroke-width="12"/><path d="M1681 1533h0M1479 1515h0M1652 1437h0M1747 1536h0M1506 1500h0M1659 1531h0M1762 1462h0M1749 1533h0M1688 1518h0M1609 1460h0M1673 1509h0M1688 1505h0M1585 1522h0M1680 1532h0M1671 1448h0" stroke="#bab391" stroke-width="8"/><path d="M1554 1469h0M1907 1560h0M1887 1491h0M1628 1444h0M1748 1491h0M1581 1479h0M1489 1479h0M1708 1454h0" stroke="#79796c" stroke-width="6"/><path d="M1491 1459h0M1913 1530h0M1878 1490h0M1698 1480h0M1817 1516h0M1478 1476h0M1923 1555h0M1891 1565h0M1916 1488h0M1765 1464h0M1707 1476h0M1747 1519h0" stroke="#8a9060" stroke-width="8"/><path d="M1554 1425h0M1886 1495h0M1913 1555h0M1881 1508h0M1509 1515h0M1831 1449h0M1700 1454h0M1704 1499h0M1824 1529h0M1566 1417h0M1727 1473h0M1545 1430h0" stroke="#68685e" stroke-width="8"/><path d="M1359 1406h0M1625 1467h0M1473 1458h0M1579 1446h0M1588 1429h0M1855 1528h0M1586 1523h0M1635 1474h0M1703 1530h0M1535 1468h0" stroke="#a5a180" stroke-width="12"/><path d="M1885 1501h0M1775 1509h0M1917 1526h0M1767 1543h0M1677 1472h0M1552 1506h0M1661 1520h0M1895 1455h0M1618 1429h0M1822 1457h0M1828 1494h0M1583 1457h0" stroke="#8f8e75" stroke-width="12"/><path d="M1538 1502h0M1796 1448h0M1742 1542h0M1901 1482h0M1554 1488h0M1775 1538h0M1795 1473h0M1472 1500h0M1675 1543h0M1620 1525h0M1739 1444h0M1510 1508h0M1659 1514h0" stroke="#bab391" stroke-width="10"/><path d="M1482 1524h0M1674 1480h0M1716 1491h0M1638 1517h0M1776 1480h0M1577 1463h0M1868 1492h0M1580 1508h0M1845 1511h0M1445 1412h0M1502 1464h0M1521 1455h0M1698 1548h0M1887 1481h0" stroke="#c4bd9a" stroke-width="12"/><path d="M1612 1452h0M1679 1483h0M1618 1458h0M1865 1493h0M1698 1522h0M1509 1452h0M1613 1511h0M1670 1470h0" stroke="#8f8e75" stroke-width="6"/><path d="M1725 1466h0M1504 1503h0M1741 1493h0M1660 1456h0M1769 1502h0M1804 1544h0M1507 1463h0" stroke="#bab391" stroke-width="14"/><path d="M1570 1455h0M1907 1519h0M1844 1516h0M1739 1450h0M1750 1517h0M1552 1482h0M1596 1470h0M1923 1549h0" stroke="#a5a180" stroke-width="6"/><path d="M1482 1489h0M1647 1437h0" stroke="#bab391" stroke-width="6"/><path d="M1579 1455h0M1787 1523h0M1821 1512h0" stroke="#68685e" stroke-width="6"/><path d="M1597 1426h0M1918 1472h0M1794 1537h0M1524 1430h0M1675 1485h0M1786 1501h0M1858 1501h0M1895 1555h0M1735 1456h0M1869 1478h0M1668 1515h0" stroke="#c4bd9a" stroke-width="8"/><path d="M1499 1421h0M1799 1456h0M1773 1525h0M1505 1514h0M1649 1473h0M1650 1447h0M1628 1539h0M1573 1455h0M1525 1418h0M1902 1466h0M1726 1439h0" stroke="#bab391" stroke-width="12"/><path d="M1801 1466h0M1784 1526h0M1644 1522h0M1532 1453h0M1847 1452h0M1743 1476h0M1687 1436h0" stroke="#8a9060" stroke-width="14"/><path d="M1876 1513h0M1640 1508h0M1857 1559h0M1642 1517h0M1692 1537h0M1593 1475h0M1605 1485h0" stroke="#c4bd9a" stroke-width="14"/><path d="M1441 1416h0M1920 1490h0M1629 1474h0M1546 1522h0M1900 1529h0" stroke="#8a9060" stroke-width="6"/><path d="M1764 1459h0M1557 1452h0" stroke="#8f8e75" stroke-width="14"/><path d="M1710 1407h0M1776 1392h0M1733 1429h0" stroke="#4a4d4f" stroke-width="8"/><path d="M1780 1408h0M1831 1440h0M1812 1408h0M1820 1421h0M1740 1419h0M1873 1406h0M1799 1423h0M1798 1427h0" stroke="#404347" stroke-width="10"/><path d="M1758 1425h0M1777 1438h0M1758 1417h0M1793 1441h0M1794 1407h0M1734 1409h0M1794 1439h0M1843 1422h0M1825 1408h0M1789 1423h0" stroke="#404347" stroke-width="12"/><path d="M1782 1377h0M1872 1388h0M1884 1374h0M1903 1384h0M1881 1374h0M1760 1394h0M1856 1382h0M1821 1390h0M1853 1376h0M1923 1403h0M1863 1378h0M1881 1374h0M1762 1391h0M1804 1378h0M1791 1374h0" stroke="#5a5c58" stroke-width="12"/><path d="M1742 1408h0M1751 1413h0M1824 1412h0M1916 1397h0M1787 1393h0M1847 1418h0M1879 1407h0M1790 1401h0M1908 1402h0M1862 1421h0M1885 1409h0M1755 1402h0M1722 1400h0M1911 1397h0" stroke="#4a4d4f" stroke-width="14"/><path d="M1748 1408h0M1813 1415h0M1895 1403h0M1850 1399h0M1830 1382h0M1915 1421h0M1880 1398h0M1813 1377h0M1743 1399h0M1804 1406h0M1796 1409h0" stroke="#4a4d4f" stroke-width="12"/><path d="M1859 1378h0M1732 1398h0M1785 1400h0M1798 1381h0M1780 1385h0M1771 1379h0M1741 1390h0M1870 1389h0" stroke="#5a5c58" stroke-width="8"/><path d="M1887 1421h0M1794 1402h0M1890 1420h0M1837 1379h0M1793 1420h0M1888 1408h0M1776 1392h0M1713 1394h0M1818 1431h0M1737 1403h0M1749 1413h0M1863 1379h0" stroke="#4a4d4f" stroke-width="10"/><path d="M1893 1419h0M1755 1414h0M1857 1428h0" stroke="#404347" stroke-width="18"/><path d="M1798 1379h0M1800 1397h0M1869 1388h0M1818 1390h0M1815 1388h0M1785 1379h0M1880 1395h0" stroke="#5a5c58" stroke-width="14"/><path d="M1851 1421h0M1898 1415h0M1771 1405h0M1869 1408h0M1836 1401h0M1906 1415h0M1745 1408h0M1711 1413h0M1769 1395h0M1794 1420h0M1914 1412h0M1812 1410h0" stroke="#4a4d4f" stroke-width="16"/><path d="M1746 1434h0M1780 1441h0M1876 1427h0M1817 1428h0M1889 1425h0M1887 1435h0M1715 1417h0" stroke="#404347" stroke-width="8"/><path d="M1795 1371h0M1778 1379h0M1776 1384h0M1829 1375h0M1766 1377h0M1899 1380h0M1756 1403h0M1805 1378h0M1852 1374h0" stroke="#5a5c58" stroke-width="16"/><path d="M1715 1395h0M1890 1390h0M1860 1392h0M1909 1399h0" stroke="#5a5c58" stroke-width="18"/><path d="M1792 1421h0M1820 1428h0M1900 1410h0M1882 1417h0" stroke="#4a4d4f" stroke-width="18"/><path d="M1877 1390h0M1776 1381h0M1899 1390h0M1817 1374h0M1868 1400h0M1767 1374h0M1911 1393h0M1765 1376h0M1802 1389h0M1784 1376h0M1841 1381h0M1763 1390h0" stroke="#5a5c58" stroke-width="10"/><path d="M1797 1418h0M1758 1424h0M1766 1430h0M1908 1426h0M1809 1444h0M1837 1430h0M1831 1421h0M1753 1434h0M1790 1439h0" stroke="#404347" stroke-width="16"/><path d="M1817 1434h0M1780 1426h0M1756 1410h0M1801 1442h0M1753 1404h0M1899 1423h0M1832 1420h0M1800 1432h0M1798 1429h0M1903 1407h0M1794 1442h0M1845 1441h0" stroke="#404347" stroke-width="14"/><path d="M1829 1467h0M1805 1468h0M1816 1453h0M1787 1473h0M1838 1451h0M1828 1464h0M1855 1456h0" stroke="#565349" stroke-width="14"/><path d="M1785 1468h0M1849 1465h0M1792 1469h0M1798 1466h0M1788 1468h0M1817 1468h0" stroke="#565349" stroke-width="10"/><path d="M1814 1485h0M1822 1468h0" stroke="#46443d" stroke-width="12"/><path d="M1786 1466h0M1853 1477h0M1808 1478h0M1853 1472h0M1836 1476h0M1841 1478h0" stroke="#46443d" stroke-width="14"/><path d="M1842 1463h0M1819 1482h0M1800 1478h0" stroke="#46443d" stroke-width="16"/><path d="M1841 1445h0M1850 1452h0" stroke="#6a6656" stroke-width="14"/><path d="M1816 1447h0M1825 1445h0M1815 1450h0M1796 1449h0M1831 1443h0" stroke="#6a6656" stroke-width="10"/><path d="M1802 1450h0" stroke="#565349" stroke-width="16"/><path d="M1808 1484h0" stroke="#46443d" stroke-width="8"/><path d="M1847 1464h0M1809 1454h0M1818 1446h0" stroke="#6a6656" stroke-width="8"/><path d="M1826 1443h0M1804 1458h0M1789 1455h0M1797 1458h0" stroke="#6a6656" stroke-width="12"/><path d="M1836 1452h0M1815 1450h0M1797 1447h0" stroke="#6a6656" stroke-width="16"/><path d="M1823 1480h0M1827 1479h0" stroke="#46443d" stroke-width="10"/><path d="M1847 1453h0M1851 1465h0M1806 1468h0" stroke="#565349" stroke-width="12"/><path d="M1798 1468h0M1784 1469h0" stroke="#565349" stroke-width="8"/><path d="M1003 1400h0M1127 1402h0M1110 1386h0M1057 1415h0M1006 1402h0M1158 1390h0M1034 1392h0" stroke="#7c9350" stroke-width="12"/><path d="M1038 1408h0M1084 1393h0M1147 1414h0M1063 1397h0M1119 1382h0M1156 1400h0M1098 1403h0M1160 1394h0M1112 1412h0M1110 1392h0M1129 1410h0M1025 1409h0M1134 1398h0M1141 1404h0M1150 1404h0" stroke="#7c9350" stroke-width="16"/><path d="M1092 1432h0M1020 1423h0M1047 1431h0" stroke="#5b713f" stroke-width="12"/><path d="M1122 1412h0M1134 1414h0M1084 1413h0M1152 1416h0M1047 1427h0M1107 1429h0M1023 1399h0M1038 1412h0M1148 1420h0" stroke="#6c8347" stroke-width="14"/><path d="M1113 1402h0M1065 1430h0M1015 1424h0M1038 1427h0M1062 1433h0M1075 1411h0M1082 1423h0M1045 1408h0" stroke="#6c8347" stroke-width="18"/><path d="M1049 1412h0M1081 1395h0M1105 1403h0M1114 1401h0" stroke="#7c9350" stroke-width="10"/><path d="M1024 1410h0M1095 1417h0M1134 1407h0M1015 1409h0M1094 1418h0M1161 1415h0" stroke="#6c8347" stroke-width="12"/><path d="M1010 1396h0M1087 1386h0M1137 1402h0M1080 1406h0M1026 1394h0M1077 1405h0M1051 1405h0M1022 1420h0" stroke="#7c9350" stroke-width="18"/><path d="M1066 1443h0M1066 1433h0M1096 1426h0M1027 1431h0M1094 1446h0" stroke="#5b713f" stroke-width="20"/><path d="M1055 1383h0M1061 1388h0M1058 1377h0M1094 1371h0M1099 1371h0M1058 1372h0M1070 1377h0" stroke="#8aa05a" stroke-width="18"/><path d="M1066 1372h0M1080 1390h0M1073 1378h0M1055 1373h0M1113 1388h0M1129 1393h0" stroke="#8aa05a" stroke-width="12"/><path d="M1111 1403h0" stroke="#7c9350" stroke-width="22"/><path d="M1004 1419h0M1056 1431h0M1145 1426h0M1015 1421h0M1091 1428h0M1073 1435h0" stroke="#5b713f" stroke-width="18"/><path d="M1070 1442h0M1152 1425h0M1065 1441h0" stroke="#5b713f" stroke-width="10"/><path d="M1069 1401h0M1139 1402h0M1089 1417h0M1155 1418h0" stroke="#6c8347" stroke-width="16"/><path d="M1028 1382h0M1086 1368h0" stroke="#8aa05a" stroke-width="16"/><path d="M1002 1409h0M1134 1393h0M1057 1392h0M1136 1406h0M1045 1395h0M1081 1395h0M1152 1403h0" stroke="#7c9350" stroke-width="14"/><path d="M1063 1383h0M1147 1394h0M1058 1409h0M1029 1386h0M1064 1397h0M1162 1400h0M1119 1420h0M1051 1387h0" stroke="#7c9350" stroke-width="20"/><path d="M1022 1414h0M1036 1421h0M1125 1426h0M1068 1439h0M1138 1408h0M1084 1404h0" stroke="#6c8347" stroke-width="20"/><path d="M1068 1379h0M1156 1399h0M1066 1379h0" stroke="#8aa05a" stroke-width="20"/><path d="M1103 1440h0M1076 1436h0M1098 1447h0M1114 1443h0M1094 1445h0M1058 1433h0" stroke="#5b713f" stroke-width="14"/><path d="M1149 1393h0M1128 1387h0M1017 1387h0" stroke="#8aa05a" stroke-width="22"/><path d="M1030 1437h0M1070 1440h0M1041 1428h0" stroke="#5b713f" stroke-width="16"/><path d="M1118 1405h0" stroke="#6c8347" stroke-width="22"/><path d="M1004 1419h0M1160 1414h0M1044 1412h0" stroke="#6c8347" stroke-width="10"/><path d="M1102 1381h0M1145 1386h0M1120 1377h0M1047 1392h0M1055 1385h0" stroke="#8aa05a" stroke-width="14"/><path d="M1075 1369h0" stroke="#8aa05a" stroke-width="10"/><path d="M1115 1409h0M1085 1412h0M1099 1426h0M1066 1411h0M1074 1403h0M1061 1410h0M1077 1416h0M1094 1408h0M1261 1434h0M1316 1457h0M1313 1438h0M1203 1464h0M1338 1426h0M1373 1434h0M1190 1446h0M1231 1436h0M1197 1457h0M1313 1431h0M1374 1437h0M1280 1451h0M1257 1449h0" stroke="#93aa57" stroke-width="14"/><path d="M1117 1445h0M1065 1442h0M1257 1476h0M1399 1521h0M1391 1500h0M1295 1524h0M1228 1529h0M1431 1492h0M1344 1486h0M1360 1520h0M1355 1527h0M1217 1488h0M1189 1521h0M1201 1507h0M1424 1513h0M1233 1480h0M1416 1505h0M1431 1517h0M1197 1499h0M1322 1524h0M1174 1492h0M1369 1505h0M1236 1510h0" stroke="#6a8042" stroke-width="14"/><path d="M1107 1432h0M1078 1418h0M1101 1425h0M1060 1430h0M1132 1424h0M1056 1421h0M1055 1427h0M1052 1422h0M1132 1427h0M1113 1422h0M1337 1490h0M1352 1504h0M1322 1466h0M1446 1498h0M1215 1459h0M1219 1484h0M1319 1491h0M1242 1478h0M1394 1457h0M1249 1462h0M1346 1471h0M1282 1482h0M1251 1455h0M1363 1486h0M1200 1511h0M1268 1472h0M1251 1474h0M1344 1486h0M1448 1507h0M1301 1474h0M1199 1477h0M1201 1462h0M1407 1482h0M1320 1484h0M1337 1510h0" stroke="#7f974c" stroke-width="10"/><path d="M1096 1453h0M1106 1455h0M1106 1450h0M1086 1446h0M1070 1443h0M1114 1447h0M1103 1448h0M1092 1444h0M1092 1453h0M1260 1543h0M1438 1542h0M1283 1520h0M1169 1528h0M1286 1529h0M1275 1507h0M1402 1531h0M1448 1522h0M1378 1541h0M1367 1519h0M1380 1543h0M1382 1544h0M1176 1525h0M1320 1511h0M1402 1534h0M1347 1545h0M1362 1519h0M1383 1533h0M1270 1530h0M1412 1554h0M1461 1520h0M1310 1525h0M1462 1534h0M1382 1553h0M1413 1554h0M1418 1527h0M1339 1537h0" stroke="#546a39" stroke-width="12"/><path d="M1127 1414h0M1114 1410h0M1336 1465h0M1264 1442h0M1197 1461h0M1314 1424h0M1273 1440h0M1327 1447h0M1419 1473h0M1308 1450h0M1196 1448h0M1297 1413h0M1259 1442h0M1364 1423h0M1259 1451h0" stroke="#93aa57" stroke-width="16"/><path d="M1088 1451h0M1115 1447h0M1286 1529h0M1333 1555h0M1418 1553h0M1378 1539h0M1320 1537h0" stroke="#546a39" stroke-width="8"/><path d="M1100 1421h0M1076 1426h0M1102 1421h0M1129 1425h0M1079 1427h0M1104 1424h0M1069 1434h0M1229 1479h0M1316 1495h0M1403 1479h0M1270 1498h0M1249 1485h0M1257 1483h0M1182 1478h0M1436 1498h0M1325 1496h0M1316 1488h0M1245 1490h0M1390 1475h0M1200 1482h0M1343 1470h0M1433 1490h0M1260 1460h0M1296 1482h0M1185 1481h0M1185 1502h0M1219 1488h0M1213 1493h0M1321 1477h0" stroke="#7f974c" stroke-width="14"/><path d="M1122 1410h0M1084 1406h0M1240 1432h0M1236 1425h0M1302 1417h0M1352 1423h0M1333 1422h0M1288 1434h0M1316 1419h0M1374 1442h0M1272 1417h0M1283 1417h0M1308 1434h0M1351 1411h0M1352 1435h0M1321 1426h0M1369 1414h0M1276 1420h0M1339 1407h0" stroke="#a6bb66" stroke-width="16"/><path d="M1062 1413h0M1085 1408h0M1353 1437h0M1339 1425h0M1306 1440h0M1325 1448h0M1281 1403h0M1295 1451h0M1310 1411h0M1221 1418h0M1299 1422h0" stroke="#a6bb66" stroke-width="14"/><path d="M1105 1431h0M1089 1433h0M1123 1430h0M1312 1485h0M1175 1485h0M1322 1458h0M1335 1468h0M1249 1486h0M1334 1489h0M1199 1498h0M1217 1487h0" stroke="#7f974c" stroke-width="8"/><path d="M1088 1398h0M1121 1407h0M1104 1404h0M1340 1414h0M1230 1426h0M1324 1412h0M1314 1420h0M1224 1430h0M1345 1424h0M1355 1419h0M1327 1428h0M1361 1440h0M1341 1432h0" stroke="#a6bb66" stroke-width="10"/><path d="M1065 1442h0M1096 1442h0M1105 1442h0M1059 1441h0M1109 1441h0M1301 1546h0M1320 1548h0M1216 1529h0M1441 1550h0M1346 1531h0M1447 1509h0M1426 1553h0M1279 1514h0M1399 1543h0M1322 1540h0M1243 1521h0M1439 1535h0M1239 1529h0M1451 1542h0M1222 1524h0M1429 1520h0M1413 1552h0M1329 1540h0" stroke="#546a39" stroke-width="18"/><path d="M1103 1451h0M1093 1454h0M1085 1454h0M1123 1445h0M1351 1538h0M1387 1524h0M1287 1520h0M1422 1543h0M1246 1534h0M1323 1528h0M1229 1520h0M1174 1519h0M1464 1532h0M1427 1544h0M1321 1508h0M1403 1547h0M1388 1544h0M1387 1546h0M1361 1554h0M1421 1536h0M1411 1532h0M1468 1529h0M1222 1534h0M1291 1538h0M1410 1545h0M1405 1520h0M1302 1535h0" stroke="#546a39" stroke-width="16"/><path d="M1083 1448h0M1094 1454h0M1416 1544h0M1342 1545h0M1376 1547h0M1267 1526h0M1312 1549h0M1248 1523h0M1164 1526h0M1206 1521h0M1190 1527h0M1310 1530h0M1232 1535h0M1263 1527h0M1382 1538h0M1344 1538h0" stroke="#546a39" stroke-width="20"/><path d="M1111 1416h0M1108 1410h0M1054 1417h0M1188 1457h0M1373 1471h0M1239 1443h0M1220 1445h0M1246 1456h0M1346 1455h0M1354 1456h0M1304 1464h0M1253 1439h0M1283 1457h0M1189 1450h0M1243 1420h0M1352 1445h0M1252 1415h0M1221 1477h0" stroke="#93aa57" stroke-width="12"/><path d="M1110 1424h0M1090 1415h0M1106 1409h0M1200 1448h0M1198 1449h0M1330 1471h0M1286 1449h0M1285 1457h0M1277 1431h0M1366 1470h0M1386 1463h0M1373 1478h0M1305 1471h0M1368 1443h0M1322 1432h0M1316 1448h0M1255 1455h0M1346 1459h0M1283 1468h0M1261 1429h0M1228 1449h0M1299 1453h0M1341 1438h0M1392 1465h0M1278 1446h0" stroke="#93aa57" stroke-width="10"/><path d="M1052 1431h0M1084 1437h0M1109 1438h0M1069 1443h0M1343 1508h0M1254 1524h0M1192 1514h0M1224 1536h0M1404 1529h0M1435 1536h0M1262 1540h0M1283 1487h0M1246 1509h0M1380 1514h0M1387 1534h0M1339 1498h0M1452 1495h0M1446 1522h0M1448 1510h0M1426 1516h0M1319 1520h0M1379 1508h0M1241 1503h0M1183 1515h0M1249 1506h0M1374 1522h0" stroke="#6a8042" stroke-width="18"/><path d="M1060 1425h0M1088 1423h0M1123 1430h0M1064 1421h0M1454 1500h0M1384 1459h0M1440 1499h0M1332 1501h0M1255 1477h0M1363 1503h0M1203 1495h0M1182 1492h0M1300 1494h0M1198 1496h0M1341 1492h0M1415 1481h0M1339 1478h0M1198 1478h0M1236 1472h0M1334 1472h0M1191 1492h0M1330 1481h0M1306 1484h0M1195 1492h0M1261 1464h0M1306 1474h0" stroke="#7f974c" stroke-width="20"/><path d="M1101 1443h0M1052 1431h0M1236 1485h0M1412 1496h0M1168 1504h0M1196 1513h0M1208 1505h0M1455 1531h0M1201 1526h0M1420 1520h0M1330 1528h0M1313 1530h0M1203 1513h0M1324 1520h0M1243 1526h0M1345 1485h0M1419 1498h0M1182 1518h0M1196 1516h0M1456 1513h0M1384 1518h0M1271 1485h0M1407 1523h0" stroke="#6a8042" stroke-width="12"/><path d="M1078 1404h0M1094 1427h0M1071 1414h0M1097 1409h0M1384 1456h0M1393 1455h0M1269 1439h0M1316 1459h0M1328 1447h0M1195 1446h0M1208 1452h0M1363 1421h0M1299 1449h0M1314 1447h0M1391 1438h0M1291 1451h0M1311 1452h0M1337 1464h0M1213 1434h0" stroke="#93aa57" stroke-width="18"/><path d="M1100 1404h0M1260 1441h0M1334 1413h0M1234 1426h0M1239 1441h0M1369 1444h0M1330 1467h0M1386 1470h0M1269 1458h0M1317 1463h0M1249 1426h0M1382 1440h0M1218 1468h0M1347 1456h0M1247 1429h0M1268 1429h0M1328 1451h0M1319 1461h0M1206 1432h0M1217 1448h0M1188 1466h0M1251 1462h0M1193 1474h0M1381 1452h0M1262 1454h0M1368 1413h0M1195 1453h0M1261 1451h0M1368 1472h0M1326 1429h0M1335 1466h0" stroke="#93aa57" stroke-width="20"/><path d="M1081 1429h0M1132 1430h0M1212 1485h0M1335 1475h0M1376 1487h0M1290 1458h0M1375 1504h0M1195 1471h0M1195 1477h0M1257 1506h0M1198 1455h0M1203 1487h0M1308 1495h0M1340 1477h0M1395 1499h0M1382 1481h0M1266 1479h0M1428 1495h0M1411 1489h0M1417 1477h0M1454 1498h0M1351 1454h0" stroke="#7f974c" stroke-width="16"/><path d="M1074 1444h0M1255 1526h0M1371 1506h0M1343 1509h0M1296 1515h0M1222 1500h0M1246 1483h0M1327 1512h0M1380 1507h0M1265 1528h0M1399 1526h0M1282 1507h0M1262 1499h0M1340 1511h0M1285 1496h0M1254 1503h0M1249 1500h0M1202 1496h0M1337 1514h0" stroke="#6a8042" stroke-width="20"/><path d="M1061 1438h0M1219 1526h0M1412 1517h0M1359 1502h0M1402 1503h0M1302 1529h0M1394 1531h0M1451 1522h0M1353 1521h0M1448 1501h0M1288 1509h0M1454 1502h0M1247 1483h0M1265 1524h0M1274 1522h0" stroke="#6a8042" stroke-width="8"/><path d="M1099 1402h0M1090 1410h0M1097 1403h0M1290 1440h0M1250 1435h0M1364 1414h0M1336 1411h0M1363 1421h0M1293 1407h0M1373 1413h0M1287 1436h0" stroke="#a6bb66" stroke-width="12"/><path d="M1120 1432h0M1378 1472h0M1198 1475h0M1404 1505h0M1387 1502h0M1383 1461h0M1285 1501h0M1315 1489h0M1384 1484h0M1286 1507h0M1307 1496h0M1249 1481h0M1218 1483h0M1278 1488h0M1317 1461h0M1206 1469h0M1191 1488h0M1233 1475h0M1271 1473h0M1203 1476h0M1307 1445h0M1430 1480h0M1374 1492h0" stroke="#7f974c" stroke-width="12"/><path d="M1090 1448h0M1085 1438h0M1074 1440h0M1116 1440h0M1076 1442h0M1323 1532h0M1387 1541h0M1163 1510h0M1303 1534h0M1353 1484h0M1271 1498h0M1281 1514h0M1353 1520h0M1352 1496h0M1259 1505h0M1425 1494h0M1324 1493h0M1214 1521h0M1352 1517h0M1284 1536h0M1466 1518h0M1203 1509h0M1439 1534h0M1449 1532h0M1449 1491h0M1406 1506h0M1370 1518h0M1334 1512h0M1173 1497h0M1388 1521h0M1380 1508h0M1417 1519h0M1411 1515h0" stroke="#6a8042" stroke-width="10"/><path d="M1084 1440h0M1077 1449h0M1449 1538h0M1442 1540h0M1314 1543h0M1362 1541h0M1204 1522h0M1458 1516h0M1351 1529h0M1204 1522h0M1413 1506h0M1438 1552h0M1395 1552h0M1372 1536h0M1387 1548h0M1371 1541h0M1407 1534h0M1317 1551h0M1349 1522h0M1299 1520h0M1403 1531h0M1402 1531h0M1419 1554h0M1232 1518h0M1314 1523h0" stroke="#546a39" stroke-width="10"/><path d="M1059 1441h0M1071 1436h0M1213 1488h0M1458 1528h0M1318 1523h0M1412 1486h0M1358 1487h0M1203 1521h0M1412 1511h0M1239 1500h0M1444 1514h0M1409 1510h0M1208 1516h0M1439 1545h0M1388 1513h0M1262 1504h0M1389 1498h0M1458 1513h0M1307 1509h0M1198 1518h0M1219 1506h0M1442 1545h0M1237 1522h0M1380 1522h0M1314 1518h0" stroke="#6a8042" stroke-width="16"/><path d="M1076 1413h0M1294 1417h0M1316 1445h0M1315 1405h0M1232 1414h0M1204 1429h0M1206 1427h0M1295 1410h0M1374 1427h0M1288 1401h0M1260 1409h0M1262 1444h0M1346 1427h0" stroke="#a6bb66" stroke-width="18"/><path d="M1091 1457h0M1084 1455h0M1071 1454h0M1090 1493h0M1104 1488h0M1085 1491h0M1142 1469h0M1135 1473h0M1152 1477h0M1055 1476h0M1062 1482h0M1035 1476h0M1155 1453h0M1172 1441h0M1169 1442h0" stroke="#8a8d74" stroke-width="12"/><path d="M1076 1447h0M1067 1446h0M1076 1450h0M1108 1484h0M1120 1483h0M1103 1482h0M1093 1486h0M1083 1483h0M1147 1458h0M1136 1454h0M1147 1456h0M1126 1464h0M1135 1456h0M1065 1459h0M1056 1467h0M1043 1462h0M1166 1435h0M1164 1439h0M1195 1436h0M1151 1434h0" stroke="#999c82" stroke-width="10"/><path d="M1071 1447h0M1078 1442h0M1074 1448h0M1038 1461h0M1035 1462h0M1177 1433h0M1177 1422h0" stroke="#a9ab92" stroke-width="10"/><path d="M1084 1461h0M1072 1460h0M1074 1462h0M1033 1485h0M1070 1478h0M1043 1477h0" stroke="#7b7d68" stroke-width="14"/><path d="M1083 1449h0M1112 1480h0M1082 1481h0M1130 1465h0M1156 1459h0M1142 1464h0M1040 1453h0M1171 1446h0" stroke="#999c82" stroke-width="8"/><path d="M1083 1444h0M1065 1448h0M1086 1452h0M1137 1465h0M1156 1465h0M1033 1464h0M1160 1442h0" stroke="#999c82" stroke-width="6"/><path d="M1079 1462h0M1160 1470h0M1033 1475h0M1049 1485h0M1176 1455h0M1172 1461h0M1189 1456h0" stroke="#7b7d68" stroke-width="8"/><path d="M1076 1457h0M1112 1492h0M1144 1481h0M1142 1477h0M1030 1485h0M1172 1449h0M1178 1451h0" stroke="#7b7d68" stroke-width="10"/><path d="M1088 1444h0M1096 1473h0M1142 1454h0" stroke="#a9ab92" stroke-width="6"/><path d="M1088 1449h0M1079 1481h0M1124 1480h0M1137 1455h0M1135 1462h0" stroke="#999c82" stroke-width="14"/><path d="M1075 1449h0M1063 1447h0M1086 1448h0M1070 1450h0M1127 1485h0M1115 1480h0M1163 1459h0M1131 1464h0M1038 1464h0M1061 1459h0M1059 1465h0M1041 1455h0M1042 1457h0M1065 1466h0M1180 1436h0M1153 1431h0M1172 1434h0" stroke="#999c82" stroke-width="12"/><path d="M1076 1455h0M1082 1486h0M1122 1491h0M1085 1481h0M1155 1465h0M1168 1453h0" stroke="#8a8d74" stroke-width="10"/><path d="M1077 1446h0M1097 1476h0M1138 1454h0M1065 1460h0M1162 1422h0" stroke="#a9ab92" stroke-width="14"/><path d="M1072 1462h0M1145 1480h0M1031 1478h0M1044 1476h0" stroke="#7b7d68" stroke-width="12"/><path d="M1083 1446h0M1118 1477h0M1093 1480h0M1116 1475h0M1155 1455h0M1147 1450h0M1047 1461h0M1180 1424h0M1167 1429h0M1161 1427h0" stroke="#a9ab92" stroke-width="8"/><path d="M1075 1455h0M1084 1458h0M1081 1488h0M1180 1455h0" stroke="#7b7d68" stroke-width="6"/><path d="M1088 1485h0M1078 1484h0M1111 1483h0M1029 1469h0" stroke="#8a8d74" stroke-width="6"/><path d="M1094 1475h0M1089 1474h0M1103 1472h0M1051 1462h0M1167 1429h0M1190 1432h0" stroke="#a9ab92" stroke-width="12"/><path d="M1155 1472h0M1152 1469h0M1053 1468h0M1061 1484h0" stroke="#8a8d74" stroke-width="8"/><path d="M1164 1465h0M1143 1472h0M1163 1452h0M1165 1449h0M1179 1442h0" stroke="#8a8d74" stroke-width="14"/><path d="M1193 1529h0M1184 1493h0M1173 1513h0M1387 1528h0M1425 1515h0M1284 1500h0M1228 1507h0M1272 1523h0M1295 1500h0M1330 1505h0M1212 1493h0M1311 1529h0M1178 1496h0M1169 1492h0" stroke="#6a8042" stroke-width="22"/><path d="M1316 1438h0M1194 1446h0M1328 1413h0M1378 1450h0M1273 1430h0M1265 1421h0M1291 1439h0" stroke="#a6bb66" stroke-width="8"/><path d="M1280 1521h0M1353 1552h0M1343 1545h0M1177 1517h0M1440 1541h0M1420 1524h0M1281 1536h0M1361 1533h0M1197 1532h0M1406 1547h0M1397 1542h0M1321 1540h0" stroke="#546a39" stroke-width="14"/><path d="M1325 1445h0M1364 1437h0M1216 1454h0M1251 1455h0M1391 1438h0M1311 1451h0M1361 1448h0M1227 1459h0M1229 1462h0M1187 1477h0M1249 1455h0M1208 1460h0" stroke="#93aa57" stroke-width="22"/><path d="M1288 1459h0M1232 1445h0M1333 1470h0M1382 1441h0M1283 1440h0M1314 1450h0M1304 1426h0M1286 1450h0" stroke="#93aa57" stroke-width="8"/><path d="M1299 1438h0M1314 1411h0M1228 1434h0M1373 1412h0M1226 1418h0M1291 1418h0" stroke="#a6bb66" stroke-width="22"/><path d="M1303 1490h0M1420 1493h0M1231 1482h0M1304 1446h0M1269 1477h0M1192 1460h0M1186 1477h0M1221 1499h0M1352 1468h0M1263 1481h0M1388 1489h0M1177 1483h0M1448 1496h0M1298 1493h0M1195 1475h0M1279 1471h0M1353 1477h0M1240 1496h0M1341 1498h0M1310 1464h0M1251 1480h0M1233 1467h0M1361 1505h0M1377 1452h0M1330 1492h0M1192 1474h0" stroke="#7f974c" stroke-width="18"/><path d="M1246 1506h0M1377 1483h0M1345 1482h0M1304 1498h0M1309 1486h0M1417 1502h0" stroke="#7f974c" stroke-width="22"/><path d="M1237 1433h0M1372 1419h0M1350 1446h0M1321 1410h0M1379 1417h0M1242 1426h0M1359 1410h0M1267 1411h0M1256 1412h0M1325 1411h0" stroke="#a6bb66" stroke-width="20"/><path d="M1269 1521h0M1310 1552h0M1410 1548h0M1322 1527h0M1413 1547h0M1238 1509h0M1217 1532h0M1442 1536h0M1180 1524h0" stroke="#546a39" stroke-width="22"/><path d="M1301 1447h0M1268 1420h0M1389 1452h0M1387 1442h0M1239 1427h0M1342 1445h0M1349 1434h0M1286 1448h0M1320 1437h0M1243 1435h0M1352 1443h0M1269 1453h0M1391 1432h0" stroke="#9eb55f" stroke-width="10"/><path d="M1386 1450h0M1345 1457h0M1211 1452h0M1348 1441h0M1309 1448h0M1352 1449h0M1288 1463h0M1323 1464h0M1232 1461h0M1296 1444h0M1348 1461h0M1260 1460h0" stroke="#8fa755" stroke-width="10"/><path d="M1250 1455h0M1258 1438h0M1243 1442h0M1369 1441h0M1263 1432h0M1329 1451h0M1306 1429h0M1354 1425h0M1265 1442h0M1379 1438h0M1289 1455h0M1283 1461h0M1207 1436h0" stroke="#9eb55f" stroke-width="12"/><path d="M1386 1437h0M1375 1440h0M1273 1448h0M1366 1440h0M1220 1457h0M1374 1450h0M1344 1443h0M1345 1442h0" stroke="#9eb55f" stroke-width="16"/><path d="M1297 1447h0M1340 1446h0M1357 1463h0" stroke="#8fa755" stroke-width="18"/><path d="M1355 1442h0M1291 1469h0M1248 1462h0M1360 1463h0M1368 1460h0M1341 1467h0M1277 1446h0M1390 1452h0M1360 1465h0M1287 1467h0" stroke="#8fa755" stroke-width="12"/><path d="M1370 1459h0M1362 1460h0M1335 1441h0M1221 1439h0M1231 1452h0M1364 1453h0" stroke="#8fa755" stroke-width="14"/><path d="M1260 1468h0M1300 1469h0M1323 1454h0M1352 1458h0M1260 1467h0" stroke="#8fa755" stroke-width="8"/><path d="M1211 1448h0M1372 1444h0M1393 1447h0M1384 1444h0M1224 1437h0" stroke="#9eb55f" stroke-width="8"/><path d="M1316 1419h0M1230 1427h0M1356 1429h0M1332 1423h0M1276 1412h0M1320 1432h0M1271 1423h0M1377 1432h0" stroke="#adc26b" stroke-width="8"/><path d="M1278 1437h0M1367 1430h0M1345 1427h0M1229 1438h0M1360 1431h0M1324 1412h0M1264 1434h0M1345 1431h0" stroke="#adc26b" stroke-width="14"/><path d="M1382 1427h0M1222 1425h0M1331 1436h0M1218 1432h0M1257 1445h0" stroke="#9eb55f" stroke-width="18"/><path d="M1271 1441h0M1365 1447h0M1239 1455h0M1327 1463h0M1291 1463h0" stroke="#8fa755" stroke-width="16"/><path d="M1257 1427h0M1313 1452h0M1212 1445h0M1375 1444h0M1323 1439h0M1285 1458h0M1244 1450h0M1326 1424h0M1351 1435h0M1305 1430h0M1244 1440h0M1205 1435h0" stroke="#9eb55f" stroke-width="14"/><path d="M1317 1420h0M1234 1438h0M1320 1425h0M1313 1425h0M1387 1439h0M1225 1424h0" stroke="#adc26b" stroke-width="10"/><path d="M1305 1429h0M1227 1424h0M1292 1429h0M1298 1430h0M1329 1412h0M1303 1412h0M1336 1423h0M1256 1433h0M1324 1413h0" stroke="#adc26b" stroke-width="12"/><path d="M1242 1435h0M1330 1414h0M1333 1433h0" stroke="#adc26b" stroke-width="18"/><path d="M1379 1429h0M1271 1413h0M1317 1412h0M1241 1427h0M1323 1412h0M1322 1410h0M1288 1423h0M1291 1426h0M1319 1415h0" stroke="#adc26b" stroke-width="16"/><path d="M1013 1532h0M1021 1526h0" stroke="#5a564b" stroke-width="16"/><path d="M1041 1523h0M1034 1537h0M1025 1523h0" stroke="#5a564b" stroke-width="14"/><path d="M1031 1480h0M1026 1494h0M1016 1489h0" stroke="#7d7766" stroke-width="14"/><path d="M1048 1525h0M1046 1529h0M1032 1537h0M1044 1525h0M1049 1526h0" stroke="#5a564b" stroke-width="12"/><path d="M1011 1490h0M1019 1476h0M1035 1482h0M1003 1486h0" stroke="#7d7766" stroke-width="10"/><path d="M1012 1489h0M1016 1503h0" stroke="#6a6557" stroke-width="14"/><path d="M994 1510h0M1011 1516h0M1034 1517h0M1045 1513h0" stroke="#5a564b" stroke-width="8"/><path d="M1012 1519h0M1051 1506h0M1036 1510h0" stroke="#6a6557" stroke-width="12"/><path d="M1043 1524h0M1025 1515h0M1040 1493h0" stroke="#6a6557" stroke-width="8"/><path d="M1037 1497h0M1029 1509h0M1000 1524h0M1019 1514h0M1020 1502h0" stroke="#6a6557" stroke-width="10"/><path d="M1015 1499h0M1007 1502h0" stroke="#7d7766" stroke-width="8"/><path d="M1023 1517h0M1014 1513h0M1039 1516h0" stroke="#6a6557" stroke-width="16"/><path d="M1000 1518h0" stroke="#5a564b" stroke-width="10"/><path d="M1029 1567h0M1120 1568h0M1081 1563h0M1122 1560h0M1075 1551h0M1003 1568h0M1113 1560h0M1060 1572h0M1138 1561h0M1039 1565h0" stroke="#6b745a" stroke-width="12"/><path d="M1063 1538h0M1022 1536h0M1022 1536h0M1088 1533h0" stroke="#8f9a74" stroke-width="14"/><path d="M1054 1572h0M1086 1550h0M1089 1569h0M1046 1579h0M1059 1556h0M1114 1572h0M1117 1573h0M1078 1554h0M1084 1551h0M1137 1559h0M1128 1550h0M1056 1576h0M1084 1567h0M1100 1562h0M1010 1557h0M1127 1562h0" stroke="#6b745a" stroke-width="14"/><path d="M1067 1594h0M1092 1590h0M1045 1587h0M1012 1588h0M1106 1587h0M1050 1598h0M1052 1600h0" stroke="#4d5045" stroke-width="12"/><path d="M1113 1589h0M1117 1585h0M1100 1585h0M1068 1598h0M1075 1598h0M1123 1585h0M1076 1598h0M1052 1585h0M1099 1583h0M1052 1595h0" stroke="#4d5045" stroke-width="16"/><path d="M1088 1538h0M1084 1530h0M1084 1538h0M1056 1541h0" stroke="#8f9a74" stroke-width="12"/><path d="M1103 1561h0M1109 1554h0M1023 1558h0M1009 1548h0M1013 1557h0" stroke="#7d8767" stroke-width="8"/><path d="M1091 1574h0M1066 1577h0M1114 1576h0M1078 1573h0M1105 1580h0" stroke="#5c6250" stroke-width="8"/><path d="M1058 1594h0M1130 1578h0M1066 1580h0M1052 1600h0M1074 1592h0M1057 1589h0" stroke="#4d5045" stroke-width="10"/><path d="M1037 1556h0M1012 1542h0M1061 1549h0M1126 1545h0M1128 1552h0" stroke="#7d8767" stroke-width="12"/><path d="M1121 1562h0M1006 1556h0M1119 1577h0M1088 1560h0M1050 1570h0M1045 1559h0M1082 1570h0M1098 1561h0" stroke="#6b745a" stroke-width="8"/><path d="M1102 1594h0M1054 1587h0M1020 1593h0" stroke="#4d5045" stroke-width="8"/><path d="M1071 1594h0M1054 1587h0" stroke="#4d5045" stroke-width="14"/><path d="M1095 1546h0M1015 1560h0M1049 1547h0M1108 1539h0M1095 1543h0M1043 1540h0M1000 1554h0M1079 1549h0M1104 1546h0M1034 1539h0" stroke="#7d8767" stroke-width="16"/><path d="M1046 1558h0M1040 1572h0M1073 1573h0" stroke="#6b745a" stroke-width="18"/><path d="M1090 1548h0M1081 1553h0M997 1549h0M1022 1558h0M1089 1553h0M1095 1540h0" stroke="#7d8767" stroke-width="18"/><path d="M1102 1541h0M1070 1528h0M1053 1528h0M1041 1529h0" stroke="#8f9a74" stroke-width="16"/><path d="M1009 1560h0M1126 1556h0M1116 1561h0M1121 1560h0M1039 1553h0M1134 1564h0" stroke="#6b745a" stroke-width="10"/><path d="M1042 1571h0M1078 1562h0M1096 1565h0M1101 1576h0M1032 1564h0M1077 1571h0M1108 1565h0M1003 1572h0M1113 1553h0" stroke="#6b745a" stroke-width="16"/><path d="M1071 1577h0M1010 1572h0M1045 1568h0M1002 1575h0M1039 1581h0M1013 1574h0" stroke="#5c6250" stroke-width="12"/><path d="M1086 1535h0M1044 1534h0M1067 1534h0M1108 1537h0" stroke="#8f9a74" stroke-width="10"/><path d="M1105 1573h0M1062 1591h0M1067 1592h0M1090 1572h0M1120 1585h0M1023 1579h0" stroke="#5c6250" stroke-width="10"/><path d="M1042 1558h0M1024 1544h0M995 1558h0M1066 1547h0M1029 1536h0M1066 1551h0M1122 1558h0M1047 1551h0M1005 1547h0M1026 1556h0M1019 1562h0" stroke="#7d8767" stroke-width="14"/><path d="M1113 1545h0M1104 1554h0M1020 1551h0M1078 1550h0M1067 1551h0M1042 1539h0M1121 1547h0M1069 1556h0" stroke="#7d8767" stroke-width="10"/><path d="M1077 1572h0M1093 1585h0M1038 1576h0" stroke="#5c6250" stroke-width="16"/><path d="M1038 1582h0M1041 1565h0M1051 1570h0M1129 1580h0" stroke="#5c6250" stroke-width="18"/><path d="M1079 1596h0" stroke="#4d5045" stroke-width="18"/><path d="M1073 1579h0M1040 1562h0M1072 1591h0M1052 1593h0" stroke="#5c6250" stroke-width="14"/><path d="M1155 1592h0M1148 1588h0M1155 1593h0M1157 1583h0M1292 1772h0M1075 1773h0M1053 1755h0M1295 1752h0M1118 1765h0M1081 1763h0M1265 1718h0M1045 1752h0M1326 1765h0M1037 1763h0M1152 1710h0M1104 1742h0M1268 1746h0M1077 1750h0M1312 1748h0M1093 1755h0M1319 1746h0M1125 1771h0M1125 1756h0M1310 1723h0M1014 1738h0M1056 1768h0M1131 1725h0M1120 1734h0M1298 1730h0M1153 1773h0" stroke="#616f51" stroke-width="14"/><path d="M1170 1561h0M1158 1540h0M1165 1535h0M1165 1561h0M1147 1546h0M1142 1551h0M1164 1531h0M1170 1601h0M1233 1611h0M1177 1631h0M1126 1634h0M1266 1652h0M1206 1581h0M1274 1605h0M1023 1605h0M1299 1630h0M1091 1647h0M1172 1623h0M1124 1634h0M1272 1641h0M1235 1660h0M1125 1650h0M1272 1606h0M1041 1608h0M1263 1629h0M1021 1611h0M1241 1643h0M1251 1610h0M1168 1602h0" stroke="#98aa70" stroke-width="10"/><path d="M1176 1557h0M1152 1565h0M1166 1548h0M1178 1557h0" stroke="#879a62" stroke-width="6"/><path d="M1166 1575h0M1136 1566h0M1165 1559h0M1134 1554h0M1176 1562h0M1163 1646h0M1132 1630h0M1062 1693h0M1202 1656h0M1026 1670h0M1257 1696h0M1275 1671h0M1091 1676h0M1272 1667h0M1187 1655h0M1248 1677h0M1152 1694h0M1190 1662h0M1239 1640h0M1298 1646h0M1199 1651h0M1116 1636h0" stroke="#879a62" stroke-width="8"/><path d="M1132 1561h0M1163 1557h0M1132 1572h0M1155 1562h0M1164 1545h0M1147 1564h0M1143 1635h0M1057 1675h0M1014 1652h0M1227 1652h0M1255 1638h0M1207 1661h0M1139 1659h0M1014 1630h0M1185 1623h0M1096 1640h0M1104 1664h0M1061 1634h0M1268 1684h0M1027 1674h0M1297 1647h0M1171 1667h0M1100 1643h0M1245 1646h0M1277 1679h0M1069 1704h0M1251 1666h0M1135 1683h0M1253 1658h0M1214 1648h0M1076 1647h0M1214 1665h0M1091 1706h0M1278 1675h0M1046 1669h0M1018 1670h0M1194 1674h0M1219 1669h0M1060 1675h0M1180 1684h0M1074 1680h0M1129 1654h0M1212 1638h0M1200 1672h0M1166 1636h0M1104 1682h0M1175 1673h0M1265 1663h0M1109 1698h0" stroke="#879a62" stroke-width="12"/><path d="M1149 1530h0M1150 1550h0M1137 1539h0M1165 1540h0M1099 1586h0M1206 1587h0M1184 1622h0M1225 1573h0M1110 1591h0M1145 1612h0M1075 1597h0M1051 1614h0M1203 1615h0M1211 1597h0M1176 1575h0M1133 1618h0M1169 1575h0M1205 1600h0M1187 1582h0M1284 1593h0M1204 1586h0" stroke="#a9ba80" stroke-width="10"/><path d="M1165 1571h0M1142 1586h0M1260 1685h0M1019 1707h0M1304 1721h0M1042 1701h0M1039 1720h0M1011 1697h0M1081 1749h0M1208 1707h0M1122 1743h0M1217 1685h0M1122 1725h0M1290 1665h0M1208 1697h0" stroke="#75875c" stroke-width="8"/><path d="M1144 1580h0M1161 1598h0M1170 1581h0M1191 1725h0M1093 1738h0M1079 1755h0M1212 1746h0M1249 1757h0M1081 1760h0M1186 1758h0M1231 1759h0M1246 1740h0M1184 1760h0M1293 1717h0M1046 1724h0M1095 1746h0M1231 1754h0M1020 1730h0M1053 1714h0M1219 1750h0M1093 1728h0M1028 1759h0M1060 1751h0M1061 1767h0M1316 1767h0M1310 1767h0M1099 1759h0M1273 1741h0" stroke="#616f51" stroke-width="10"/><path d="M1138 1559h0" stroke="#98aa70" stroke-width="6"/><path d="M1150 1531h0M1158 1541h0M1161 1536h0M1133 1572h0M1212 1580h0M1298 1605h0M1283 1606h0M1142 1574h0M1113 1605h0M1150 1592h0M1284 1616h0M1158 1583h0M1221 1589h0M1208 1584h0M1143 1569h0M1147 1578h0M1212 1577h0M1080 1611h0M1284 1613h0M1150 1565h0M1107 1570h0M1138 1559h0M1169 1576h0M1196 1580h0M1161 1597h0M1077 1604h0M1177 1600h0M1209 1570h0" stroke="#a9ba80" stroke-width="14"/><path d="M1167 1533h0M1029 1621h0M1216 1572h0M1227 1603h0M1184 1582h0M1200 1581h0M1295 1604h0M1139 1617h0" stroke="#a9ba80" stroke-width="8"/><path d="M1149 1564h0M1145 1568h0M1144 1709h0M1060 1714h0M1146 1684h0M1281 1727h0M1166 1739h0M1187 1731h0M1109 1730h0M1300 1694h0M1121 1688h0M1293 1699h0M1111 1712h0M1285 1722h0M1114 1736h0M1028 1685h0M1056 1708h0M1181 1737h0M1051 1720h0M1104 1679h0M1016 1682h0M1107 1714h0M1204 1688h0M1077 1711h0M1126 1706h0M1154 1685h0M1121 1696h0" stroke="#75875c" stroke-width="10"/><path d="M1165 1580h0M1159 1581h0M1152 1570h0M1227 1717h0M1098 1695h0M1101 1735h0M1102 1683h0M1313 1753h0M1085 1732h0M1257 1734h0M1039 1698h0M1077 1662h0M1180 1701h0M1106 1725h0M1215 1703h0M1214 1734h0M1231 1699h0M1310 1722h0M1225 1682h0M1297 1697h0M1300 1717h0M1276 1681h0M1080 1714h0M1025 1724h0M1272 1712h0M1163 1701h0M1219 1709h0M1190 1684h0M1204 1704h0M1216 1692h0M1275 1723h0M1131 1722h0M1276 1693h0M1164 1707h0M1322 1717h0M1251 1705h0M1066 1722h0M1092 1751h0M1207 1700h0M1162 1718h0M1289 1689h0M1216 1710h0M1091 1673h0" stroke="#75875c" stroke-width="12"/><path d="M1156 1548h0M1040 1640h0M1084 1595h0M1152 1587h0M1158 1629h0M1147 1653h0M1180 1646h0M1034 1634h0M1180 1601h0" stroke="#98aa70" stroke-width="8"/><path d="M1170 1571h0M1278 1682h0M1271 1650h0M1204 1681h0M1209 1700h0M1045 1669h0M1018 1666h0M1034 1700h0M1081 1655h0M1123 1621h0M1037 1631h0M1018 1664h0M1075 1683h0M1100 1652h0M1147 1647h0M1129 1641h0M1096 1684h0M1012 1689h0M1169 1653h0M1054 1673h0M1017 1712h0M1043 1707h0M1073 1652h0M1266 1684h0M1096 1661h0M1235 1642h0M1183 1640h0M1157 1679h0M1078 1695h0M1157 1656h0M1044 1685h0" stroke="#879a62" stroke-width="14"/><path d="M1158 1541h0M1142 1539h0M1175 1544h0M1033 1647h0M1185 1652h0M1105 1625h0M1059 1656h0M1255 1615h0M1063 1630h0M1264 1628h0M1234 1635h0M1019 1628h0M1223 1583h0M1123 1618h0M1092 1623h0M1084 1606h0M1205 1644h0M1224 1635h0M1155 1640h0M1256 1612h0M1026 1633h0M1180 1633h0M1259 1622h0M1059 1594h0M1057 1612h0M1050 1651h0M1206 1607h0M1212 1629h0M1055 1617h0M1297 1627h0M1215 1658h0M1275 1618h0" stroke="#98aa70" stroke-width="12"/><path d="M1155 1536h0M1146 1534h0M1135 1543h0M1137 1600h0M1164 1604h0M1143 1610h0M1231 1609h0M1060 1626h0M1163 1587h0M1134 1599h0M1214 1573h0M1218 1591h0M1073 1584h0M1183 1587h0M1228 1576h0M1200 1631h0M1159 1614h0M1175 1578h0M1145 1578h0M1089 1592h0M1089 1585h0M1176 1593h0" stroke="#a9ba80" stroke-width="12"/><path d="M1173 1580h0M1190 1765h0M1202 1718h0M1138 1749h0M1014 1741h0M1033 1754h0M1288 1741h0M1119 1763h0M1081 1754h0M1189 1714h0M1266 1745h0M1279 1739h0M1264 1757h0M1205 1756h0" stroke="#616f51" stroke-width="8"/><path d="M1131 1555h0M1137 1555h0M1153 1554h0M1171 1693h0M1182 1676h0M1098 1617h0M1125 1699h0M1261 1665h0M1226 1659h0M1264 1693h0M1266 1646h0M1071 1681h0M1093 1626h0M1070 1694h0M1158 1632h0M1107 1630h0M1063 1688h0M1081 1696h0M1020 1658h0M1076 1630h0M1031 1666h0M1092 1652h0M1125 1660h0M1156 1697h0M1289 1646h0M1199 1655h0M1239 1648h0M1240 1658h0M1234 1656h0M1144 1699h0M1019 1673h0M1078 1677h0M1016 1676h0M1227 1656h0M1253 1668h0" stroke="#879a62" stroke-width="10"/><path d="M1137 1541h0M1235 1629h0M1292 1636h0M1119 1610h0M1190 1607h0M1210 1626h0M1111 1652h0M1179 1619h0M1119 1582h0M1142 1650h0M1284 1628h0M1240 1635h0M1228 1627h0M1043 1605h0M1300 1598h0M1165 1615h0M1037 1673h0M1285 1660h0M1281 1590h0M1217 1623h0M1037 1623h0M1156 1645h0M1238 1631h0M1122 1632h0M1296 1637h0M1076 1660h0M1198 1659h0M1280 1618h0M1252 1644h0M1220 1612h0M1070 1635h0M1221 1608h0M1241 1662h0M1249 1600h0M1062 1653h0M1268 1647h0" stroke="#98aa70" stroke-width="14"/><path d="M1154 1594h0" stroke="#616f51" stroke-width="6"/><path d="M1170 1566h0M1063 1743h0M1325 1724h0M1015 1699h0M1276 1716h0M1112 1678h0M1017 1686h0M1087 1698h0M1134 1719h0M1260 1708h0M1039 1709h0M1200 1688h0M1189 1707h0M1075 1714h0M1151 1683h0M1069 1697h0M1104 1719h0M1172 1739h0M1111 1693h0M1290 1731h0M1132 1699h0M1301 1703h0M1158 1715h0M1082 1691h0M1036 1673h0M1318 1721h0M1045 1698h0M1115 1714h0" stroke="#75875c" stroke-width="14"/><path d="M1264 1667h0M1133 1678h0M1121 1695h0M1208 1689h0M1029 1683h0M1269 1677h0M1286 1662h0M1030 1633h0M1126 1691h0" stroke="#879a62" stroke-width="20"/><path d="M1130 1712h0M1204 1703h0M1022 1705h0M1231 1683h0M1131 1686h0M1304 1725h0M1083 1742h0M1091 1738h0M1084 1690h0M1216 1735h0M1112 1686h0M1078 1667h0M1078 1731h0M1180 1740h0M1181 1693h0M1154 1716h0M1281 1686h0M1311 1710h0M1104 1738h0M1093 1711h0M1119 1688h0M1029 1720h0M1137 1681h0M1067 1701h0M1226 1708h0M1256 1686h0M1067 1667h0" stroke="#75875c" stroke-width="18"/><path d="M1160 1632h0M1220 1601h0M1171 1641h0M1244 1605h0M1124 1618h0M1268 1637h0M1170 1648h0M1018 1636h0M1084 1619h0M1120 1637h0M1128 1583h0M1025 1620h0M1286 1603h0M1141 1608h0M1280 1614h0" stroke="#98aa70" stroke-width="20"/><path d="M1182 1665h0M1011 1694h0M1076 1676h0M1066 1648h0M1244 1627h0M1055 1675h0M1098 1663h0M1324 1713h0M1088 1690h0M1043 1644h0M1119 1677h0M1032 1668h0M1153 1663h0M1152 1680h0M1194 1683h0M1117 1662h0M1049 1657h0M1103 1671h0M1142 1661h0M1204 1673h0M1258 1653h0M1214 1701h0M1062 1685h0M1181 1673h0" stroke="#879a62" stroke-width="18"/><path d="M1137 1772h0M1257 1763h0M1087 1768h0M1059 1743h0M1223 1746h0M1322 1770h0M1197 1740h0M1024 1752h0M1303 1733h0M1065 1767h0M1094 1740h0M1157 1733h0M1093 1768h0M1028 1713h0M1306 1749h0M1021 1757h0M1318 1746h0M1012 1750h0M1277 1748h0M1184 1772h0M1069 1757h0M1158 1730h0M1075 1732h0M1327 1762h0M1274 1736h0M1031 1750h0M1266 1768h0M1072 1744h0M1094 1728h0M1205 1708h0M1315 1762h0M1203 1767h0M1243 1759h0M1208 1747h0M1095 1744h0M1123 1722h0M1076 1733h0M1193 1750h0M1194 1764h0M1087 1761h0M1268 1759h0M1096 1756h0M1237 1727h0M1011 1761h0M1215 1732h0" stroke="#616f51" stroke-width="16"/><path d="M1134 1594h0M1088 1607h0M1298 1591h0M1020 1653h0M1050 1639h0M1082 1601h0M1081 1617h0M1240 1660h0M1126 1635h0M1080 1598h0M1256 1598h0M1045 1615h0M1146 1639h0M1120 1613h0M1155 1604h0M1192 1605h0M1119 1585h0M1125 1652h0M1096 1638h0M1088 1639h0M1225 1646h0M1029 1651h0" stroke="#98aa70" stroke-width="16"/><path d="M1261 1724h0M1258 1751h0M1020 1751h0M1135 1742h0M1286 1750h0M1061 1772h0M1130 1726h0M1224 1721h0M1326 1741h0M1235 1710h0M1309 1762h0M1176 1765h0M1306 1759h0M1034 1752h0M1224 1748h0M1040 1740h0M1104 1762h0M1329 1716h0M1139 1756h0M1100 1729h0" stroke="#616f51" stroke-width="20"/><path d="M1284 1768h0M1221 1719h0M1019 1772h0M1178 1756h0M1189 1764h0M1257 1722h0M1152 1730h0M1112 1769h0M1251 1757h0M1257 1744h0M1012 1757h0M1204 1740h0M1192 1724h0M1064 1745h0M1235 1754h0M1194 1724h0M1016 1756h0M1284 1737h0M1292 1764h0M1111 1726h0M1029 1765h0M1305 1747h0M1167 1738h0M1208 1773h0M1289 1707h0M1151 1761h0M1020 1749h0" stroke="#616f51" stroke-width="18"/><path d="M1130 1681h0M1224 1689h0M1193 1694h0M1081 1742h0M1289 1708h0M1236 1706h0M1116 1714h0M1122 1717h0M1023 1678h0M1173 1713h0M1092 1700h0" stroke="#75875c" stroke-width="20"/><path d="M1178 1608h0M1200 1650h0M1164 1594h0M1156 1612h0M1225 1612h0M1050 1628h0M1228 1612h0M1074 1645h0M1010 1625h0M1046 1641h0M1191 1642h0M1226 1661h0M1177 1591h0M1133 1617h0M1141 1667h0M1267 1652h0M1116 1639h0M1272 1654h0M1288 1640h0M1084 1611h0M1219 1582h0M1123 1615h0M1162 1613h0M1122 1611h0M1256 1605h0M1154 1603h0M1078 1629h0M1142 1637h0M1080 1618h0M1180 1609h0M1271 1591h0M1135 1669h0M1167 1631h0M1043 1639h0" stroke="#98aa70" stroke-width="18"/><path d="M1219 1764h0M1262 1759h0M1268 1748h0M1085 1769h0M1277 1756h0M1072 1730h0M1103 1744h0M1311 1756h0M1169 1720h0M1253 1765h0M1148 1748h0M1121 1749h0M1148 1722h0M1016 1743h0M1228 1721h0M1291 1706h0M1072 1762h0M1210 1728h0M1069 1729h0M1177 1751h0M1232 1746h0M1058 1753h0M1024 1764h0M1021 1742h0M1175 1740h0M1326 1766h0M1271 1768h0M1166 1755h0M1105 1768h0M1233 1769h0" stroke="#616f51" stroke-width="12"/><path d="M1173 1594h0M1098 1584h0M1043 1596h0M1014 1609h0M1265 1616h0M1161 1579h0" stroke="#a9ba80" stroke-width="20"/><path d="M1052 1683h0M1101 1656h0M1131 1676h0M1174 1682h0M1320 1713h0M1263 1704h0M1189 1652h0M1092 1678h0M1260 1640h0M1290 1672h0M1221 1649h0M1204 1661h0M1114 1632h0M1268 1704h0M1039 1669h0M1243 1683h0M1231 1659h0M1035 1672h0M1236 1666h0M1090 1683h0M1222 1651h0M1050 1676h0M1158 1692h0M1081 1638h0M1213 1662h0M1159 1699h0M1216 1666h0" stroke="#879a62" stroke-width="16"/><path d="M1223 1582h0M1178 1593h0M1215 1595h0M1095 1598h0M1275 1593h0M1209 1618h0M1256 1595h0M1246 1603h0M1197 1615h0M1143 1594h0M1149 1603h0M1162 1582h0" stroke="#a9ba80" stroke-width="18"/><path d="M1328 1738h0M1261 1749h0M1329 1738h0M1059 1712h0M1311 1732h0M1094 1718h0M1116 1753h0M1282 1737h0M1237 1745h0M1071 1681h0M1299 1697h0M1121 1728h0M1042 1705h0M1183 1687h0M1062 1713h0M1212 1754h0M1282 1725h0M1253 1686h0M1254 1729h0M1201 1704h0M1208 1692h0M1318 1709h0M1057 1688h0M1068 1681h0M1065 1729h0M1142 1689h0M1108 1672h0M1320 1713h0M1285 1709h0" stroke="#75875c" stroke-width="16"/><path d="M1203 1573h0M1292 1619h0M1153 1577h0M1191 1576h0M1138 1575h0M1072 1607h0M1252 1586h0M1093 1627h0M1104 1603h0" stroke="#a9ba80" stroke-width="16"/><path d="M1247 1641h0M1280 1648h0M1289 1664h0M1210 1656h0M1217 1648h0M1261 1621h0M1254 1632h0M1261 1640h0M1249 1673h0M1252 1661h0M1196 1644h0M1200 1650h0M1251 1670h0M1269 1660h0M1194 1621h0M1287 1643h0M1292 1634h0M1198 1647h0M1223 1631h0M1298 1647h0M1290 1635h0M1225 1639h0M1292 1653h0M1235 1662h0" stroke="#95a771" stroke-width="12"/><path d="M1240 1613h0M1204 1638h0M1260 1627h0M1296 1630h0M1202 1621h0M1216 1595h0M1263 1608h0M1295 1600h0M1239 1612h0M1238 1580h0M1220 1595h0M1304 1600h0M1221 1608h0M1206 1590h0M1258 1607h0M1255 1629h0" stroke="#a6b681" stroke-width="8"/><path d="M1260 1603h0M1271 1615h0M1257 1590h0M1195 1613h0M1207 1626h0M1294 1611h0M1208 1617h0M1235 1622h0M1222 1631h0M1255 1630h0M1289 1601h0M1191 1602h0M1227 1628h0M1242 1620h0M1242 1635h0M1247 1602h0M1248 1601h0M1276 1623h0M1220 1575h0M1261 1596h0M1295 1609h0M1225 1629h0M1247 1620h0" stroke="#a6b681" stroke-width="10"/><path d="M1197 1626h0M1243 1665h0M1293 1653h0M1289 1629h0M1226 1629h0M1269 1625h0M1264 1668h0M1196 1616h0M1302 1633h0M1266 1644h0M1302 1659h0M1272 1637h0" stroke="#95a771" stroke-width="8"/><path d="M1220 1629h0M1206 1627h0M1214 1636h0M1255 1631h0M1220 1665h0M1239 1627h0M1191 1637h0M1265 1645h0M1276 1655h0M1299 1668h0M1219 1629h0M1195 1625h0M1259 1659h0M1293 1651h0M1269 1675h0M1208 1658h0M1259 1664h0M1216 1627h0M1204 1648h0" stroke="#95a771" stroke-width="10"/><path d="M1300 1626h0M1200 1643h0M1267 1596h0M1227 1628h0M1248 1629h0M1256 1637h0M1204 1588h0M1293 1589h0M1296 1595h0M1286 1637h0M1210 1590h0M1278 1623h0M1276 1595h0M1212 1611h0M1223 1605h0M1275 1612h0" stroke="#a6b681" stroke-width="12"/><path d="M1243 1677h0M1238 1679h0M1303 1655h0M1252 1693h0M1247 1670h0M1226 1653h0M1246 1671h0M1250 1695h0M1273 1666h0M1264 1680h0M1271 1675h0M1277 1655h0M1279 1674h0" stroke="#869861" stroke-width="8"/><path d="M1283 1578h0M1191 1628h0M1303 1630h0M1236 1604h0M1291 1620h0M1268 1584h0M1244 1598h0M1210 1609h0M1208 1587h0M1210 1608h0M1197 1629h0M1237 1590h0" stroke="#a6b681" stroke-width="6"/><path d="M1280 1588h0M1245 1607h0M1240 1565h0M1265 1571h0M1286 1574h0" stroke="#b7c594" stroke-width="14"/><path d="M1263 1684h0M1255 1657h0M1238 1675h0M1215 1663h0M1250 1643h0M1274 1675h0M1232 1687h0M1269 1660h0M1269 1667h0M1289 1674h0M1229 1674h0M1204 1674h0M1269 1671h0" stroke="#869861" stroke-width="10"/><path d="M1195 1645h0M1295 1620h0M1207 1678h0M1209 1666h0M1282 1613h0M1243 1621h0M1280 1641h0M1267 1638h0" stroke="#95a771" stroke-width="14"/><path d="M1284 1586h0M1284 1607h0M1302 1593h0M1224 1582h0M1308 1610h0M1219 1598h0M1257 1564h0M1205 1584h0M1274 1601h0" stroke="#b7c594" stroke-width="10"/><path d="M1258 1563h0M1283 1595h0M1241 1593h0M1231 1591h0M1218 1590h0M1295 1595h0M1282 1575h0M1199 1587h0" stroke="#b7c594" stroke-width="8"/><path d="M1268 1630h0M1297 1593h0M1196 1608h0M1223 1585h0M1232 1610h0M1293 1602h0M1224 1592h0M1216 1592h0" stroke="#a6b681" stroke-width="14"/><path d="M1260 1643h0M1191 1643h0M1247 1632h0M1197 1643h0M1258 1655h0" stroke="#95a771" stroke-width="6"/><path d="M1263 1660h0M1279 1674h0M1254 1687h0M1281 1680h0M1250 1693h0M1210 1672h0M1223 1651h0M1286 1666h0M1231 1676h0M1244 1692h0M1256 1681h0M1201 1654h0M1212 1682h0M1293 1648h0" stroke="#869861" stroke-width="12"/><path d="M1246 1563h0M1210 1578h0M1235 1563h0M1288 1591h0M1207 1616h0M1244 1578h0M1246 1569h0M1263 1595h0M1273 1582h0M1202 1599h0M1258 1573h0M1226 1563h0" stroke="#b7c594" stroke-width="12"/><path d="M1263 1659h0M1243 1667h0M1216 1657h0M1253 1655h0M1216 1684h0M1222 1661h0M1265 1691h0M1222 1680h0" stroke="#869861" stroke-width="6"/><path d="M1271 1589h0M1237 1561h0M1262 1579h0M1231 1602h0" stroke="#b7c594" stroke-width="6"/><path d="M1195 1652h0" stroke="#869861" stroke-width="14"/><path d="M1191 1732h0M1266 1750h0M1216 1731h0M1272 1747h0M1231 1740h0M1267 1739h0M1177 1741h0M1229 1747h0M1097 1724h0M1221 1740h0M1126 1752h0M1211 1740h0" stroke="#6d8448" stroke-width="16"/><path d="M1076 1723h0M1236 1735h0M1083 1732h0M1227 1732h0M1269 1703h0M1252 1717h0M1206 1702h0M1168 1718h0M1261 1725h0M1234 1739h0M1181 1732h0M1221 1717h0M1134 1695h0M1224 1735h0M1088 1718h0" stroke="#7f9651" stroke-width="16"/><path d="M1206 1731h0M1130 1727h0M1222 1730h0M1150 1699h0M1091 1717h0M1157 1699h0M1272 1710h0M1198 1712h0M1127 1730h0M1191 1732h0M1092 1716h0M1159 1723h0M1265 1719h0M1228 1717h0M1119 1742h0" stroke="#7f9651" stroke-width="14"/><path d="M1142 1753h0M1277 1751h0M1263 1752h0M1174 1758h0M1231 1761h0M1227 1771h0M1225 1767h0M1109 1750h0" stroke="#59703f" stroke-width="12"/><path d="M1253 1727h0M1128 1761h0M1154 1745h0M1208 1750h0M1178 1744h0M1222 1745h0M1178 1729h0M1221 1735h0M1178 1756h0M1080 1738h0M1140 1765h0M1125 1729h0M1187 1726h0M1260 1760h0M1099 1756h0M1093 1745h0M1234 1742h0M1140 1725h0M1235 1755h0" stroke="#6d8448" stroke-width="14"/><path d="M1168 1733h0M1279 1735h0M1126 1721h0M1196 1748h0M1181 1754h0M1161 1756h0M1227 1738h0M1262 1725h0M1214 1739h0M1129 1754h0M1083 1739h0" stroke="#6d8448" stroke-width="10"/><path d="M1108 1757h0M1189 1765h0M1250 1751h0M1245 1749h0M1161 1768h0M1251 1751h0" stroke="#59703f" stroke-width="14"/><path d="M1177 1769h0M1132 1770h0" stroke="#59703f" stroke-width="8"/><path d="M1186 1763h0M1128 1736h0M1216 1720h0M1202 1730h0M1172 1717h0M1183 1751h0M1128 1744h0M1255 1742h0M1279 1728h0M1150 1725h0M1214 1742h0M1191 1747h0M1091 1752h0M1101 1730h0M1266 1731h0" stroke="#6d8448" stroke-width="12"/><path d="M1241 1768h0M1120 1761h0M1157 1754h0M1150 1774h0M1153 1765h0M1163 1748h0M1150 1755h0" stroke="#59703f" stroke-width="18"/><path d="M1224 1727h0M1147 1735h0M1280 1727h0M1247 1713h0M1249 1710h0M1119 1728h0M1280 1728h0M1187 1727h0M1240 1729h0M1205 1702h0M1246 1735h0M1229 1720h0M1270 1712h0M1196 1709h0M1087 1738h0" stroke="#7f9651" stroke-width="12"/><path d="M1186 1731h0M1264 1698h0" stroke="#7f9651" stroke-width="18"/><path d="M1147 1688h0M1176 1695h0M1137 1689h0M1177 1690h0M1200 1692h0" stroke="#8fa65c" stroke-width="10"/><path d="M1155 1696h0M1168 1690h0M1264 1716h0M1222 1688h0M1229 1721h0M1236 1700h0M1135 1688h0" stroke="#8fa65c" stroke-width="18"/><path d="M1092 1713h0M1226 1704h0M1201 1707h0M1157 1706h0" stroke="#8fa65c" stroke-width="8"/><path d="M1175 1721h0M1242 1767h0M1237 1726h0M1177 1762h0" stroke="#6d8448" stroke-width="18"/><path d="M1171 1726h0M1256 1718h0M1277 1718h0M1231 1714h0M1231 1736h0M1215 1726h0M1124 1716h0" stroke="#7f9651" stroke-width="8"/><path d="M1187 1692h0M1159 1696h0M1177 1693h0M1188 1713h0M1130 1697h0M1230 1699h0M1170 1699h0M1159 1705h0M1203 1704h0M1209 1701h0M1145 1690h0" stroke="#8fa65c" stroke-width="14"/><path d="M1172 1777h0M1164 1745h0M1116 1757h0M1129 1773h0" stroke="#59703f" stroke-width="10"/><path d="M1084 1741h0M1140 1752h0M1166 1755h0M1250 1756h0" stroke="#6d8448" stroke-width="8"/><path d="M1120 1710h0M1191 1690h0M1171 1684h0M1240 1703h0M1220 1686h0M1128 1694h0M1239 1697h0M1208 1704h0" stroke="#8fa65c" stroke-width="16"/><path d="M1252 1709h0M1275 1716h0M1210 1724h0M1100 1709h0M1125 1714h0M1172 1727h0M1215 1725h0M1134 1702h0M1151 1696h0" stroke="#7f9651" stroke-width="10"/><path d="M1191 1758h0M1141 1762h0M1160 1775h0M1200 1741h0M1210 1755h0M1259 1763h0M1116 1767h0" stroke="#59703f" stroke-width="16"/><path d="M1119 1704h0M1154 1698h0M1226 1687h0" stroke="#8fa65c" stroke-width="12"/><path d="M1493 1582h0M1455 1588h0M1357 1586h0M1413 1588h0M1484 1586h0M1504 1570h0M1466 1582h0M1405 1564h0M1424 1587h0M1521 1580h0M1542 1591h0M1460 1598h0M1370 1575h0M1511 1558h0" stroke="#8da157" stroke-width="14"/><path d="M1379 1610h0M1506 1626h0M1350 1609h0M1369 1615h0M1371 1622h0M1358 1615h0M1531 1615h0M1489 1622h0M1500 1630h0M1416 1626h0" stroke="#65694f" stroke-width="12"/><path d="M1420 1593h0M1405 1593h0M1383 1611h0M1379 1587h0M1520 1602h0M1504 1608h0M1459 1601h0M1382 1602h0M1392 1600h0" stroke="#7b8d50" stroke-width="10"/><path d="M1449 1573h0M1435 1567h0M1533 1572h0M1518 1565h0M1418 1557h0M1439 1556h0" stroke="#9db061" stroke-width="16"/><path d="M1510 1588h0M1419 1607h0M1523 1598h0M1479 1612h0M1411 1610h0M1480 1593h0M1411 1613h0M1359 1597h0M1527 1598h0M1426 1610h0M1370 1611h0" stroke="#7b8d50" stroke-width="12"/><path d="M1365 1598h0M1500 1622h0M1423 1582h0M1406 1602h0M1446 1594h0M1374 1587h0" stroke="#7b8d50" stroke-width="14"/><path d="M1449 1560h0M1445 1568h0M1514 1579h0M1492 1553h0M1488 1550h0M1447 1557h0M1471 1548h0M1401 1566h0" stroke="#9db061" stroke-width="10"/><path d="M1445 1552h0M1441 1549h0M1439 1548h0M1397 1562h0M1485 1553h0M1484 1563h0M1508 1558h0M1448 1546h0M1383 1562h0" stroke="#9db061" stroke-width="14"/><path d="M1452 1585h0M1363 1582h0M1404 1592h0M1433 1581h0M1542 1580h0M1368 1576h0M1420 1562h0M1413 1573h0M1381 1580h0M1538 1576h0M1496 1597h0" stroke="#8da157" stroke-width="16"/><path d="M1475 1575h0M1514 1567h0M1538 1582h0M1469 1595h0M1459 1580h0M1393 1584h0" stroke="#8da157" stroke-width="18"/><path d="M1403 1628h0M1388 1632h0M1472 1630h0M1459 1647h0M1487 1636h0M1464 1641h0M1496 1635h0M1492 1635h0M1484 1637h0M1411 1645h0M1412 1634h0" stroke="#55564a" stroke-width="10"/><path d="M1514 1581h0M1377 1595h0M1461 1565h0M1487 1589h0M1360 1573h0M1411 1580h0M1514 1574h0M1525 1567h0M1541 1579h0" stroke="#8da157" stroke-width="10"/><path d="M1344 1598h0M1546 1598h0M1434 1609h0M1467 1602h0M1378 1585h0M1471 1605h0" stroke="#7b8d50" stroke-width="8"/><path d="M1548 1604h0M1505 1596h0M1546 1582h0M1418 1587h0M1452 1591h0M1363 1617h0" stroke="#7b8d50" stroke-width="16"/><path d="M1366 1608h0M1502 1630h0M1352 1606h0" stroke="#65694f" stroke-width="14"/><path d="M1416 1577h0M1418 1577h0M1430 1567h0M1471 1588h0M1426 1571h0M1490 1576h0M1494 1578h0" stroke="#8da157" stroke-width="12"/><path d="M1509 1630h0M1486 1613h0M1452 1631h0M1348 1597h0M1385 1609h0M1443 1617h0" stroke="#65694f" stroke-width="8"/><path d="M1381 1616h0M1461 1608h0M1492 1617h0M1481 1603h0M1525 1629h0M1491 1631h0" stroke="#65694f" stroke-width="10"/><path d="M1465 1648h0M1528 1621h0" stroke="#55564a" stroke-width="18"/><path d="M1456 1631h0M1444 1648h0M1498 1630h0M1501 1626h0" stroke="#55564a" stroke-width="16"/><path d="M1449 1570h0M1514 1575h0M1385 1562h0M1431 1584h0" stroke="#8da157" stroke-width="8"/><path d="M1507 1568h0M1474 1550h0M1418 1551h0M1388 1578h0" stroke="#9db061" stroke-width="18"/><path d="M1503 1620h0M1512 1619h0M1515 1617h0M1480 1624h0M1406 1625h0M1413 1620h0M1396 1616h0M1416 1630h0M1473 1613h0M1468 1618h0M1400 1620h0M1433 1628h0M1471 1629h0M1374 1631h0" stroke="#65694f" stroke-width="16"/><path d="M1465 1641h0M1408 1627h0M1469 1648h0" stroke="#55564a" stroke-width="14"/><path d="M1478 1643h0M1365 1623h0M1509 1640h0M1401 1637h0M1428 1638h0" stroke="#55564a" stroke-width="12"/><path d="M1391 1600h0M1368 1605h0" stroke="#7b8d50" stroke-width="18"/><path d="M1473 1635h0M1395 1637h0M1396 1643h0M1468 1620h0M1437 1645h0" stroke="#55564a" stroke-width="8"/><path d="M1369 1612h0M1427 1622h0M1374 1627h0" stroke="#65694f" stroke-width="18"/><path d="M1377 1654h0M1352 1662h0M1357 1652h0M1377 1659h0M1372 1650h0M1363 1664h0M1386 1655h0M1348 1668h0M1366 1655h0M1366 1659h0M1360 1658h0" stroke="#8a8068" stroke-width="12"/><path d="M1396 1711h0M1353 1710h0" stroke="#4f4a41" stroke-width="14"/><path d="M1381 1673h0M1397 1669h0M1385 1684h0M1369 1696h0M1343 1693h0M1353 1675h0" stroke="#776e5b" stroke-width="10"/><path d="M1350 1707h0M1351 1696h0M1361 1714h0M1396 1701h0M1377 1717h0M1337 1703h0M1379 1717h0M1363 1715h0" stroke="#4f4a41" stroke-width="10"/><path d="M1388 1652h0M1386 1650h0M1380 1653h0M1343 1664h0M1379 1668h0M1380 1670h0M1347 1673h0M1369 1658h0" stroke="#8a8068" stroke-width="10"/><path d="M1389 1696h0M1357 1686h0M1402 1682h0" stroke="#635c4e" stroke-width="14"/><path d="M1396 1684h0M1370 1685h0M1369 1708h0M1349 1690h0M1340 1687h0M1383 1689h0M1368 1685h0" stroke="#635c4e" stroke-width="12"/><path d="M1371 1722h0" stroke="#4f4a41" stroke-width="8"/><path d="M1401 1681h0M1340 1690h0M1341 1685h0M1409 1693h0M1380 1703h0M1363 1690h0M1408 1692h0M1385 1696h0M1382 1707h0M1342 1701h0M1363 1707h0M1376 1687h0" stroke="#635c4e" stroke-width="10"/><path d="M1353 1673h0M1354 1673h0M1355 1678h0M1390 1683h0M1382 1671h0M1340 1666h0M1405 1694h0M1359 1674h0M1405 1669h0M1393 1673h0" stroke="#776e5b" stroke-width="14"/><path d="M1359 1687h0M1392 1703h0M1378 1698h0M1347 1693h0" stroke="#635c4e" stroke-width="16"/><path d="M1373 1712h0M1345 1712h0M1379 1710h0" stroke="#4f4a41" stroke-width="12"/><path d="M1388 1672h0M1352 1666h0M1389 1669h0M1371 1657h0M1356 1675h0" stroke="#8a8068" stroke-width="14"/><path d="M1359 1693h0M1395 1684h0M1367 1694h0" stroke="#635c4e" stroke-width="8"/><path d="M1348 1681h0M1382 1680h0M1389 1690h0M1365 1657h0M1334 1686h0" stroke="#776e5b" stroke-width="16"/><path d="M1368 1656h0M1373 1654h0" stroke="#8a8068" stroke-width="8"/><path d="M1373 1668h0M1354 1695h0M1404 1690h0M1363 1666h0M1381 1679h0" stroke="#776e5b" stroke-width="12"/><path d="M1397 1659h0" stroke="#8a8068" stroke-width="16"/><path d="M1361 1679h0M1370 1676h0M1374 1661h0M1397 1673h0" stroke="#776e5b" stroke-width="8"/><path d="M1426 1712h0M1477 1731h0M1457 1708h0M1430 1703h0M1479 1705h0M1461 1702h0M1467 1711h0" stroke="#b1b39c" stroke-width="14"/><path d="M1440 1752h0M1497 1733h0M1421 1739h0M1429 1732h0M1411 1736h0" stroke="#8f927a" stroke-width="16"/><path d="M1482 1731h0M1499 1728h0" stroke="#a1a48b" stroke-width="10"/><path d="M1435 1733h0M1485 1749h0M1441 1758h0M1444 1755h0M1452 1754h0M1435 1749h0M1446 1758h0" stroke="#8f927a" stroke-width="10"/><path d="M1445 1729h0M1435 1719h0M1417 1738h0M1495 1740h0M1433 1724h0M1488 1737h0" stroke="#a1a48b" stroke-width="16"/><path d="M1498 1726h0M1424 1739h0M1492 1735h0M1446 1730h0M1413 1729h0M1469 1712h0" stroke="#a1a48b" stroke-width="8"/><path d="M1504 1722h0M1436 1723h0M1428 1722h0M1423 1730h0" stroke="#a1a48b" stroke-width="12"/><path d="M1459 1711h0M1445 1703h0M1467 1699h0M1418 1719h0M1420 1715h0" stroke="#b1b39c" stroke-width="10"/><path d="M1497 1717h0M1473 1742h0M1434 1749h0M1455 1732h0M1482 1733h0M1476 1726h0M1432 1723h0" stroke="#a1a48b" stroke-width="14"/><path d="M1473 1728h0M1462 1751h0M1414 1735h0M1495 1732h0M1469 1735h0M1494 1739h0M1472 1743h0M1441 1752h0" stroke="#8f927a" stroke-width="14"/><path d="M1443 1746h0M1500 1738h0M1430 1729h0M1452 1738h0" stroke="#8f927a" stroke-width="12"/><path d="M1439 1747h0M1457 1745h0M1443 1748h0" stroke="#8f927a" stroke-width="8"/><path d="M1476 1709h0M1423 1710h0M1474 1704h0M1457 1708h0" stroke="#b1b39c" stroke-width="12"/><path d="M1452 1708h0M1444 1699h0" stroke="#b1b39c" stroke-width="16"/><path d="M1610 1541h0M1615 1545h0M1624 1537h0M1598 1540h0M1702 1556h0M1670 1556h0M1669 1562h0" stroke="#88876a" stroke-width="10"/><path d="M1609 1548h0M1657 1557h0M1707 1558h0" stroke="#88876a" stroke-width="12"/><path d="M1613 1551h0M1611 1548h0M1696 1569h0" stroke="#6f6e5c" stroke-width="14"/><path d="M1597 1538h0M1666 1553h0M1684 1551h0M1698 1556h0M1660 1548h0M1695 1551h0" stroke="#9c9a72" stroke-width="10"/><path d="M1599 1549h0M1613 1543h0M1695 1571h0" stroke="#6f6e5c" stroke-width="6"/><path d="M1620 1530h0M1622 1535h0M1607 1529h0M1675 1541h0" stroke="#b0ab7c" stroke-width="8"/><path d="M1614 1538h0M1668 1549h0" stroke="#9c9a72" stroke-width="8"/><path d="M1624 1545h0M1615 1543h0" stroke="#6f6e5c" stroke-width="10"/><path d="M1609 1549h0M1676 1575h0M1663 1566h0" stroke="#5a584b" stroke-width="8"/><path d="M1624 1541h0M1665 1558h0M1705 1559h0" stroke="#88876a" stroke-width="6"/><path d="M1605 1552h0" stroke="#5a584b" stroke-width="10"/><path d="M1614 1543h0M1620 1547h0M1666 1561h0" stroke="#6f6e5c" stroke-width="12"/><path d="M1615 1530h0" stroke="#b0ab7c" stroke-width="14"/><path d="M1685 1565h0M1694 1554h0M1686 1559h0M1678 1559h0M1677 1567h0" stroke="#88876a" stroke-width="8"/><path d="M1686 1551h0M1702 1546h0" stroke="#b0ab7c" stroke-width="12"/><path d="M1683 1553h0M1706 1549h0M1690 1551h0" stroke="#9c9a72" stroke-width="6"/><path d="M1686 1540h0M1689 1549h0M1692 1550h0" stroke="#b0ab7c" stroke-width="10"/><path d="M1666 1550h0M1694 1549h0" stroke="#9c9a72" stroke-width="12"/><path d="M1698 1564h0M1671 1565h0" stroke="#6f6e5c" stroke-width="8"/><path d="M1680 1556h0M1658 1555h0M1664 1564h0" stroke="#88876a" stroke-width="14"/><path d="M1677 1576h0" stroke="#5a584b" stroke-width="6"/><path d="M1716 1553h0M1817 1551h0M1837 1548h0" stroke="#b9b26a" stroke-width="10"/><path d="M1717 1576h0M1723 1572h0M1796 1562h0M1809 1563h0M1816 1561h0" stroke="#979156" stroke-width="10"/><path d="M1736 1551h0M1732 1544h0" stroke="#b9b26a" stroke-width="6"/><path d="M1715 1562h0M1712 1555h0M1725 1559h0M1802 1561h0M1853 1558h0M1824 1553h0" stroke="#a9a35e" stroke-width="12"/><path d="M1741 1574h0M1717 1571h0M1736 1573h0M1742 1569h0M1799 1560h0M1820 1567h0M1857 1562h0M1798 1558h0" stroke="#979156" stroke-width="12"/><path d="M1716 1549h0M1736 1549h0M1714 1557h0M1820 1553h0" stroke="#b9b26a" stroke-width="8"/><path d="M1711 1558h0M1725 1559h0M1743 1550h0M1840 1550h0" stroke="#a9a35e" stroke-width="14"/><path d="M1718 1549h0M1731 1567h0M1811 1560h0M1843 1552h0M1818 1560h0M1814 1556h0M1813 1558h0M1804 1558h0" stroke="#a9a35e" stroke-width="8"/><path d="M1724 1582h0" stroke="#7c784d" stroke-width="6"/><path d="M1734 1567h0M1715 1562h0M1740 1568h0M1745 1576h0M1829 1563h0M1843 1567h0M1852 1565h0M1813 1559h0M1817 1565h0M1822 1571h0M1848 1571h0" stroke="#979156" stroke-width="8"/><path d="M1718 1566h0M1743 1553h0M1834 1557h0M1838 1559h0" stroke="#a9a35e" stroke-width="10"/><path d="M1720 1555h0M1725 1550h0M1721 1546h0M1828 1550h0M1828 1546h0M1849 1555h0M1830 1553h0" stroke="#b9b26a" stroke-width="12"/><path d="M1734 1569h0M1838 1572h0M1845 1569h0M1828 1574h0" stroke="#7c784d" stroke-width="14"/><path d="M1712 1571h0M1843 1570h0M1844 1564h0" stroke="#7c784d" stroke-width="8"/><path d="M1715 1571h0M1840 1561h0" stroke="#979156" stroke-width="6"/><path d="M1733 1576h0M1805 1569h0M1800 1568h0" stroke="#7c784d" stroke-width="10"/><path d="M1723 1579h0" stroke="#979156" stroke-width="14"/><path d="M1744 1556h0" stroke="#a9a35e" stroke-width="6"/><path d="M1816 1572h0M1842 1568h0M1835 1573h0" stroke="#7c784d" stroke-width="12"/><path d="M1808 1552h0" stroke="#b9b26a" stroke-width="14"/><path d="M1772 1610h0M1757 1606h0" stroke="#95987c" stroke-width="6"/><path d="M1766 1625h0M1766 1613h0M1777 1616h0M1775 1615h0M1758 1626h0" stroke="#95987c" stroke-width="10"/><path d="M1774 1630h0M1777 1618h0M1768 1630h0" stroke="#84876e" stroke-width="12"/><path d="M1774 1608h0M1750 1607h0M1770 1602h0M1766 1599h0" stroke="#a6a88a" stroke-width="10"/><path d="M1762 1604h0M1766 1601h0" stroke="#a6a88a" stroke-width="12"/><path d="M1762 1628h0" stroke="#84876e" stroke-width="14"/><path d="M1755 1613h0M1768 1608h0" stroke="#a6a88a" stroke-width="8"/><path d="M1761 1610h0M1765 1629h0" stroke="#95987c" stroke-width="12"/><path d="M1770 1621h0M1757 1628h0M1765 1631h0" stroke="#84876e" stroke-width="10"/><path d="M1755 1624h0" stroke="#95987c" stroke-width="14"/><path d="M1751 1605h0" stroke="#a6a88a" stroke-width="6"/><path d="M1767 1605h0" stroke="#a6a88a" stroke-width="14"/><path d="M1756 1632h0M1762 1631h0M1756 1631h0" stroke="#84876e" stroke-width="8"/><path d="M1838 1604h0M1846 1603h0M1824 1612h0M1846 1615h0M1837 1611h0M1841 1606h0" stroke="#9f9b74" stroke-width="8"/><path d="M1828 1614h0M1817 1617h0" stroke="#8b886a" stroke-width="14"/><path d="M1809 1611h0M1836 1623h0M1839 1610h0" stroke="#8b886a" stroke-width="8"/><path d="M1844 1613h0M1851 1609h0M1841 1605h0" stroke="#9f9b74" stroke-width="10"/><path d="M1848 1613h0M1835 1608h0" stroke="#8b886a" stroke-width="6"/><path d="M1830 1611h0M1831 1621h0" stroke="#8b886a" stroke-width="10"/><path d="M1829 1592h0M1824 1592h0" stroke="#b0ab80" stroke-width="6"/><path d="M1847 1614h0M1815 1607h0" stroke="#9f9b74" stroke-width="12"/><path d="M1815 1597h0M1822 1593h0M1824 1600h0M1831 1596h0M1848 1601h0" stroke="#b0ab80" stroke-width="12"/><path d="M1828 1600h0M1845 1603h0" stroke="#b0ab80" stroke-width="14"/><path d="M1837 1592h0M1829 1605h0M1822 1592h0" stroke="#b0ab80" stroke-width="8"/><path d="M1829 1610h0" stroke="#9f9b74" stroke-width="6"/><path d="M1821 1602h0M1811 1612h0" stroke="#9f9b74" stroke-width="14"/><path d="M1843 1596h0" stroke="#b0ab80" stroke-width="10"/><path d="M1899 1653h0M1864 1649h0M1907 1654h0M1874 1659h0" stroke="#9d997c" stroke-width="8"/><path d="M1902 1650h0M1899 1650h0M1879 1657h0M1850 1650h0M1836 1663h0M1896 1660h0" stroke="#9d997c" stroke-width="12"/><path d="M1879 1669h0M1871 1673h0M1855 1678h0M1857 1678h0" stroke="#88856d" stroke-width="8"/><path d="M1896 1655h0M1870 1654h0M1886 1643h0M1856 1647h0" stroke="#b0ab8c" stroke-width="8"/><path d="M1863 1636h0M1888 1644h0" stroke="#b0ab8c" stroke-width="6"/><path d="M1889 1643h0M1903 1652h0M1858 1640h0M1882 1640h0" stroke="#b0ab8c" stroke-width="12"/><path d="M1904 1647h0M1858 1645h0M1889 1647h0M1856 1645h0M1868 1639h0M1852 1656h0" stroke="#b0ab8c" stroke-width="10"/><path d="M1878 1682h0M1879 1687h0M1880 1691h0" stroke="#6f6c5b" stroke-width="12"/><path d="M1892 1687h0M1889 1684h0M1859 1669h0" stroke="#6f6c5b" stroke-width="14"/><path d="M1886 1680h0M1879 1689h0M1853 1679h0M1867 1684h0M1874 1670h0M1878 1686h0" stroke="#6f6c5b" stroke-width="10"/><path d="M1891 1641h0" stroke="#b0ab8c" stroke-width="14"/><path d="M1886 1682h0M1886 1685h0M1861 1674h0M1859 1689h0M1877 1689h0M1885 1680h0M1856 1683h0" stroke="#6f6c5b" stroke-width="8"/><path d="M1849 1678h0M1869 1685h0M1885 1679h0" stroke="#88856d" stroke-width="14"/><path d="M1858 1659h0M1885 1673h0M1871 1671h0M1864 1674h0" stroke="#88856d" stroke-width="6"/><path d="M1875 1676h0M1902 1661h0M1878 1668h0M1877 1669h0M1866 1672h0M1838 1667h0M1835 1658h0M1839 1662h0" stroke="#88856d" stroke-width="12"/><path d="M1861 1665h0M1860 1646h0M1908 1661h0" stroke="#9d997c" stroke-width="6"/><path d="M1862 1667h0M1902 1648h0M1867 1660h0M1895 1665h0M1851 1651h0" stroke="#9d997c" stroke-width="10"/><path d="M1866 1666h0M1886 1650h0" stroke="#9d997c" stroke-width="14"/><path d="M1870 1682h0M1852 1673h0M1884 1666h0M1880 1668h0" stroke="#88856d" stroke-width="10"/><path d="M1898 1684h0" stroke="#6f6c5b" stroke-width="6"/><path d="M1774 1671h0M1765 1672h0M1777 1669h0M1767 1676h0M1760 1674h0M1647 1611h0M1635 1599h0M1597 1622h0M1515 1603h0M1600 1596h0M1615 1593h0M1543 1591h0M1607 1592h0M1624 1602h0M1586 1617h0M1572 1595h0M1622 1594h0M1595 1611h0M1535 1605h0M1513 1592h0" stroke="#8f9a78" stroke-width="12"/><path d="M1761 1688h0M1734 1688h0M1746 1695h0" stroke="#6c775c" stroke-width="10"/><path d="M1765 1688h0M1773 1683h0M1741 1682h0M1778 1688h0M1738 1687h0" stroke="#7e8a6a" stroke-width="10"/><path d="M1762 1699h0" stroke="#5b6450" stroke-width="14"/><path d="M1776 1701h0" stroke="#5b6450" stroke-width="12"/><path d="M1772 1693h0M1780 1686h0" stroke="#6c775c" stroke-width="6"/><path d="M1756 1701h0M1767 1706h0" stroke="#5b6450" stroke-width="10"/><path d="M1762 1692h0M1742 1695h0M1744 1699h0" stroke="#5b6450" stroke-width="6"/><path d="M1785 1694h0M1781 1680h0M1769 1680h0M1782 1685h0" stroke="#6c775c" stroke-width="8"/><path d="M1777 1693h0M1771 1694h0" stroke="#6c775c" stroke-width="14"/><path d="M1743 1687h0M1740 1678h0" stroke="#7e8a6a" stroke-width="8"/><path d="M1765 1676h0M1776 1679h0M1736 1678h0M1782 1689h0" stroke="#7e8a6a" stroke-width="12"/><path d="M1755 1687h0M1778 1690h0M1765 1698h0M1766 1687h0M1760 1696h0M1750 1684h0M1756 1683h0M1751 1696h0" stroke="#6c775c" stroke-width="12"/><path d="M1757 1665h0M1766 1667h0M1767 1670h0M1584 1602h0M1542 1595h0M1508 1596h0M1574 1598h0M1498 1610h0M1596 1627h0M1606 1603h0M1558 1596h0M1581 1585h0M1596 1600h0M1485 1622h0M1625 1587h0M1579 1603h0M1636 1599h0" stroke="#8f9a78" stroke-width="10"/><path d="M1763 1667h0M1768 1677h0M1764 1673h0M1553 1592h0M1610 1590h0M1582 1584h0M1693 1626h0M1616 1617h0M1498 1608h0M1474 1603h0M1458 1611h0M1623 1615h0M1587 1596h0" stroke="#8f9a78" stroke-width="8"/><path d="M1774 1686h0M1758 1680h0M1766 1681h0" stroke="#7e8a6a" stroke-width="6"/><path d="M1761 1667h0" stroke="#8f9a78" stroke-width="6"/><path d="M1774 1697h0" stroke="#5b6450" stroke-width="8"/><path d="M1774 1681h0M1772 1685h0" stroke="#7e8a6a" stroke-width="14"/><path d="M1806 1662h0M1810 1663h0M1811 1654h0M1801 1660h0" stroke="#979576" stroke-width="8"/><path d="M1799 1649h0M1809 1666h0" stroke="#979576" stroke-width="10"/><path d="M1803 1649h0M1814 1653h0M1809 1645h0" stroke="#a8a684" stroke-width="6"/><path d="M1813 1662h0" stroke="#979576" stroke-width="6"/><path d="M1803 1649h0M1803 1648h0" stroke="#a8a684" stroke-width="10"/><path d="M1808 1652h0" stroke="#a8a684" stroke-width="8"/><path d="M1801 1653h0" stroke="#979576" stroke-width="12"/><path d="M1817 1656h0M1799 1655h0" stroke="#a8a684" stroke-width="12"/><path d="M1552 1599h0M1550 1593h0" stroke="#5e6650" stroke-width="10"/><path d="M1534 1597h0M1537 1585h0M1539 1600h0M1545 1592h0" stroke="#5e6650" stroke-width="8"/><path d="M1560 1573h0M1556 1584h0M1546 1581h0M1520 1578h0M1530 1571h0M1544 1578h0" stroke="#88936c" stroke-width="12"/><path d="M1552 1580h0M1560 1583h0M1520 1585h0M1537 1585h0" stroke="#737d5e" stroke-width="14"/><path d="M1549 1586h0M1547 1581h0" stroke="#737d5e" stroke-width="12"/><path d="M1537 1560h0M1559 1571h0" stroke="#88936c" stroke-width="8"/><path d="M1548 1581h0M1524 1586h0M1541 1592h0" stroke="#737d5e" stroke-width="8"/><path d="M1530 1564h0M1545 1556h0M1545 1560h0M1536 1553h0M1533 1565h0" stroke="#9aa47c" stroke-width="8"/><path d="M1544 1591h0M1528 1599h0M1550 1600h0" stroke="#5e6650" stroke-width="14"/><path d="M1551 1576h0M1541 1574h0M1527 1566h0M1527 1582h0M1552 1571h0" stroke="#88936c" stroke-width="10"/><path d="M1550 1581h0M1547 1573h0" stroke="#737d5e" stroke-width="6"/><path d="M1555 1588h0" stroke="#5e6650" stroke-width="12"/><path d="M1525 1564h0" stroke="#9aa47c" stroke-width="14"/><path d="M1894 1758h0M1869 1766h0M1869 1755h0M1885 1762h0" stroke="#76844f" stroke-width="8"/><path d="M1875 1739h0M1904 1751h0M1908 1744h0M1870 1759h0M1851 1755h0" stroke="#88975f" stroke-width="6"/><path d="M1885 1763h0M1851 1751h0M1868 1770h0M1904 1747h0M1882 1768h0M1889 1757h0M1854 1762h0" stroke="#76844f" stroke-width="10"/><path d="M1871 1752h0M1897 1769h0M1903 1756h0M1889 1772h0" stroke="#76844f" stroke-width="6"/><path d="M1872 1729h0M1878 1738h0M1886 1731h0M1873 1743h0M1907 1742h0" stroke="#9aa877" stroke-width="10"/><path d="M1884 1729h0M1873 1734h0M1909 1738h0M1879 1730h0" stroke="#9aa877" stroke-width="8"/><path d="M1879 1765h0M1872 1769h0M1889 1757h0M1895 1770h0" stroke="#76844f" stroke-width="12"/><path d="M1900 1745h0M1855 1737h0M1902 1733h0M1898 1732h0" stroke="#9aa877" stroke-width="12"/><path d="M1887 1737h0M1896 1759h0M1860 1741h0M1846 1743h0M1898 1766h0" stroke="#88975f" stroke-width="10"/><path d="M1913 1752h0M1885 1745h0M1897 1762h0" stroke="#88975f" stroke-width="8"/><path d="M1859 1742h0M1870 1745h0" stroke="#9aa877" stroke-width="14"/><path d="M1892 1756h0" stroke="#88975f" stroke-width="14"/><path d="M1868 1743h0M1857 1755h0" stroke="#88975f" stroke-width="12"/><path d="M1460 1516h0M1468 1496h0" stroke="#8fa85a" stroke-width="14"/><path d="M1461 1511h0" stroke="#7d954f" stroke-width="14"/><path d="M1467 1503h0M1461 1522h0M1467 1496h0" stroke="#8fa85a" stroke-width="8"/><path d="M1469 1533h0" stroke="#7d954f" stroke-width="12"/><path d="M1464 1514h0M1466 1518h0M1469 1527h0" stroke="#7d954f" stroke-width="10"/><path d="M1468 1501h0" stroke="#8fa85a" stroke-width="6"/><path d="M1466 1517h0" stroke="#7d954f" stroke-width="6"/><path d="M1461 1523h0" stroke="#7d954f" stroke-width="8"/><path d="M1462 1497h0" stroke="#8fa85a" stroke-width="12"/><path d="M1700 1636h0M1575 1666h0M1698 1684h0M1659 1669h0M1654 1670h0M1464 1654h0M1431 1666h0M1465 1651h0M1447 1631h0M1673 1663h0M1511 1668h0M1462 1676h0M1444 1650h0M1439 1693h0M1493 1643h0M1579 1655h0" stroke="#6b7060" stroke-width="18"/><path d="M1458 1657h0M1561 1657h0M1568 1655h0M1707 1662h0M1620 1655h0M1436 1672h0M1531 1649h0M1472 1641h0M1575 1657h0M1511 1648h0M1609 1655h0M1690 1668h0M1474 1673h0M1644 1633h0M1692 1644h0M1678 1687h0M1567 1635h0M1650 1633h0M1720 1655h0M1441 1629h0M1436 1631h0" stroke="#6b7060" stroke-width="10"/><path d="M1543 1714h0M1532 1708h0M1573 1735h0M1502 1714h0M1461 1698h0M1648 1692h0M1690 1703h0M1506 1721h0M1647 1722h0M1552 1699h0M1625 1723h0M1664 1711h0M1561 1717h0M1522 1729h0M1552 1733h0M1514 1703h0M1657 1718h0M1577 1732h0M1473 1716h0M1469 1715h0" stroke="#484a44" stroke-width="10"/><path d="M1529 1645h0M1431 1673h0M1656 1653h0M1515 1649h0M1541 1661h0M1607 1658h0M1595 1645h0M1659 1677h0M1627 1669h0M1628 1663h0M1463 1665h0M1616 1657h0M1709 1652h0M1519 1662h0M1675 1670h0M1599 1653h0M1651 1673h0M1662 1672h0M1576 1687h0M1539 1648h0M1639 1686h0M1541 1689h0" stroke="#6b7060" stroke-width="12"/><path d="M1634 1723h0M1545 1709h0M1452 1685h0M1484 1662h0M1573 1687h0M1600 1720h0M1447 1664h0M1635 1684h0M1479 1694h0M1539 1686h0M1669 1666h0M1506 1695h0M1601 1678h0M1474 1702h0M1687 1690h0M1667 1682h0M1713 1671h0M1481 1702h0M1698 1698h0M1492 1692h0M1644 1685h0M1662 1691h0M1551 1685h0M1448 1682h0M1558 1696h0" stroke="#595c52" stroke-width="16"/><path d="M1599 1612h0M1671 1632h0M1510 1646h0M1550 1638h0M1556 1630h0M1465 1611h0M1491 1628h0M1692 1622h0M1531 1629h0M1473 1624h0M1642 1620h0M1664 1615h0M1540 1607h0M1605 1613h0M1596 1630h0M1657 1623h0M1520 1649h0M1624 1654h0M1571 1659h0M1649 1642h0M1719 1646h0M1498 1599h0" stroke="#7c846c" stroke-width="10"/><path d="M1570 1726h0M1507 1719h0M1607 1733h0M1527 1731h0M1642 1701h0M1506 1713h0M1580 1718h0M1596 1734h0M1552 1724h0M1571 1736h0M1502 1693h0" stroke="#484a44" stroke-width="16"/><path d="M1598 1714h0M1559 1734h0M1474 1697h0M1464 1700h0M1620 1729h0M1545 1725h0M1586 1734h0M1588 1734h0M1463 1707h0M1569 1736h0M1620 1732h0M1458 1708h0M1690 1702h0M1575 1702h0" stroke="#484a44" stroke-width="12"/><path d="M1626 1683h0M1727 1669h0M1607 1667h0M1508 1669h0M1565 1655h0M1644 1665h0M1472 1656h0M1568 1678h0M1446 1647h0M1496 1652h0M1478 1645h0M1602 1646h0M1663 1635h0M1579 1667h0M1540 1658h0M1612 1664h0M1480 1680h0M1553 1644h0M1638 1655h0M1477 1663h0M1434 1663h0M1516 1650h0M1694 1644h0M1579 1654h0" stroke="#6b7060" stroke-width="16"/><path d="M1675 1663h0M1483 1686h0M1594 1682h0M1536 1701h0M1547 1708h0M1656 1709h0M1490 1675h0M1683 1673h0M1637 1701h0M1553 1723h0M1620 1695h0M1692 1691h0M1658 1707h0M1571 1702h0M1492 1687h0M1591 1694h0M1694 1690h0M1446 1692h0M1545 1682h0M1461 1683h0M1439 1667h0M1495 1694h0M1498 1707h0" stroke="#595c52" stroke-width="12"/><path d="M1512 1664h0M1568 1677h0M1485 1661h0M1563 1668h0M1708 1664h0M1661 1653h0M1589 1664h0M1582 1661h0M1727 1673h0M1641 1635h0M1582 1634h0M1455 1641h0M1573 1668h0M1704 1650h0M1668 1686h0M1600 1652h0M1546 1659h0M1496 1651h0M1466 1675h0M1602 1650h0M1614 1684h0M1581 1664h0" stroke="#6b7060" stroke-width="14"/><path d="M1551 1719h0M1584 1711h0M1520 1710h0M1571 1705h0M1511 1731h0M1568 1699h0M1602 1732h0" stroke="#484a44" stroke-width="8"/><path d="M1475 1611h0M1553 1629h0M1581 1614h0M1485 1657h0M1581 1659h0M1438 1631h0M1639 1622h0M1608 1620h0M1720 1633h0M1453 1636h0M1493 1646h0M1606 1611h0M1568 1634h0M1490 1605h0M1446 1630h0M1579 1616h0M1653 1624h0M1627 1635h0M1491 1654h0M1546 1629h0M1667 1605h0" stroke="#7c846c" stroke-width="14"/><path d="M1437 1679h0M1528 1681h0M1511 1699h0M1480 1686h0M1695 1690h0M1647 1693h0M1550 1670h0M1626 1715h0M1453 1682h0M1458 1698h0M1512 1691h0M1652 1695h0M1547 1678h0M1474 1699h0" stroke="#595c52" stroke-width="18"/><path d="M1596 1603h0M1524 1589h0M1513 1592h0M1636 1625h0M1511 1625h0M1490 1632h0M1651 1606h0M1553 1589h0M1479 1607h0M1653 1616h0M1527 1590h0M1494 1622h0M1612 1626h0M1524 1602h0M1595 1610h0M1542 1600h0M1492 1603h0M1589 1594h0M1547 1613h0" stroke="#8f9a78" stroke-width="14"/><path d="M1558 1712h0M1528 1698h0M1630 1720h0M1545 1720h0M1616 1725h0M1533 1736h0" stroke="#484a44" stroke-width="18"/><path d="M1479 1625h0M1627 1652h0M1579 1634h0M1564 1640h0M1569 1604h0M1494 1641h0M1683 1621h0M1635 1633h0M1633 1632h0M1479 1616h0M1569 1628h0M1490 1649h0M1681 1608h0M1517 1623h0M1481 1640h0M1572 1661h0" stroke="#7c846c" stroke-width="18"/><path d="M1665 1611h0M1535 1600h0M1609 1612h0M1563 1609h0M1648 1597h0M1482 1606h0M1663 1611h0M1626 1602h0M1543 1601h0M1552 1594h0M1584 1608h0M1538 1592h0M1536 1603h0M1566 1597h0" stroke="#8f9a78" stroke-width="16"/><path d="M1562 1711h0M1585 1713h0M1626 1700h0M1479 1692h0M1608 1692h0M1567 1688h0M1544 1704h0M1701 1676h0M1540 1722h0M1491 1663h0M1508 1716h0M1512 1685h0M1578 1721h0M1718 1683h0" stroke="#595c52" stroke-width="8"/><path d="M1489 1685h0M1663 1698h0M1549 1670h0M1687 1700h0M1463 1693h0M1433 1686h0M1426 1664h0M1627 1695h0M1690 1686h0M1561 1662h0M1463 1690h0M1501 1688h0M1669 1697h0M1527 1688h0M1573 1698h0" stroke="#595c52" stroke-width="10"/><path d="M1566 1612h0M1705 1635h0M1667 1637h0M1653 1644h0M1631 1638h0" stroke="#7c846c" stroke-width="8"/><path d="M1718 1671h0M1480 1644h0M1712 1676h0M1479 1684h0M1464 1689h0M1571 1666h0M1628 1658h0M1598 1642h0M1473 1658h0M1500 1661h0" stroke="#6b7060" stroke-width="8"/><path d="M1473 1617h0M1484 1648h0M1702 1653h0M1662 1636h0M1669 1616h0M1503 1620h0M1498 1648h0M1521 1597h0M1649 1620h0M1631 1653h0M1482 1604h0M1658 1632h0M1426 1661h0M1463 1627h0M1683 1656h0M1696 1652h0M1584 1622h0M1662 1602h0" stroke="#7c846c" stroke-width="16"/><path d="M1539 1711h0M1591 1710h0M1470 1702h0M1678 1703h0M1602 1736h0M1543 1721h0M1675 1712h0M1493 1719h0M1497 1726h0M1506 1715h0M1584 1739h0M1637 1709h0M1554 1738h0M1478 1707h0M1498 1725h0M1568 1732h0M1518 1723h0M1561 1703h0M1615 1720h0M1532 1730h0" stroke="#484a44" stroke-width="14"/><path d="M1573 1639h0M1509 1628h0M1486 1626h0M1491 1606h0M1676 1623h0M1588 1629h0M1547 1618h0M1564 1648h0M1491 1633h0M1640 1625h0M1602 1616h0M1618 1627h0M1470 1634h0M1642 1660h0M1498 1628h0M1630 1632h0M1466 1627h0M1559 1648h0M1538 1640h0M1440 1640h0M1467 1648h0M1488 1619h0M1459 1645h0" stroke="#7c846c" stroke-width="12"/><path d="M1637 1591h0M1568 1598h0M1523 1601h0M1616 1612h0M1479 1609h0M1609 1587h0" stroke="#8f9a78" stroke-width="18"/><path d="M1666 1689h0M1606 1692h0M1632 1699h0M1469 1701h0M1518 1683h0M1627 1692h0M1452 1677h0M1582 1689h0M1604 1687h0M1548 1684h0M1516 1676h0M1480 1679h0M1689 1684h0" stroke="#595c52" stroke-width="14"/><path d="M1645 1716h0M1683 1714h0M1635 1711h0M1708 1712h0M1673 1707h0M1682 1721h0M1667 1731h0" stroke="#4b5441" stroke-width="12"/><path d="M1686 1724h0M1697 1720h0" stroke="#4b5441" stroke-width="16"/><path d="M1650 1715h0M1710 1690h0M1639 1703h0M1727 1689h0M1645 1698h0M1681 1697h0M1655 1689h0M1670 1717h0M1642 1696h0M1668 1694h0M1726 1685h0" stroke="#5b6a4a" stroke-width="10"/><path d="M1647 1690h0M1687 1653h0M1721 1672h0" stroke="#6d8055" stroke-width="16"/><path d="M1631 1683h0M1658 1698h0M1712 1698h0M1660 1695h0M1685 1692h0M1631 1697h0M1676 1708h0M1661 1711h0M1692 1684h0M1695 1712h0M1659 1693h0M1714 1677h0M1710 1688h0" stroke="#5b6a4a" stroke-width="14"/><path d="M1667 1696h0M1720 1672h0M1682 1669h0M1670 1677h0M1678 1679h0M1648 1673h0M1699 1660h0M1670 1681h0M1630 1675h0M1660 1663h0M1673 1674h0M1652 1694h0" stroke="#6d8055" stroke-width="14"/><path d="M1658 1665h0M1645 1671h0M1631 1697h0M1694 1663h0M1669 1676h0M1636 1663h0M1655 1675h0M1712 1671h0M1705 1686h0M1675 1684h0M1692 1680h0" stroke="#6d8055" stroke-width="10"/><path d="M1675 1648h0M1700 1645h0M1716 1672h0M1690 1647h0M1696 1644h0" stroke="#7f9562" stroke-width="12"/><path d="M1662 1677h0M1674 1666h0M1669 1683h0M1652 1670h0M1680 1683h0M1686 1664h0" stroke="#6d8055" stroke-width="12"/><path d="M1662 1670h0M1673 1660h0M1656 1682h0M1664 1689h0" stroke="#6d8055" stroke-width="8"/><path d="M1678 1669h0M1642 1664h0M1676 1662h0M1685 1649h0M1716 1674h0M1678 1666h0M1655 1675h0" stroke="#7f9562" stroke-width="10"/><path d="M1681 1727h0M1675 1725h0M1695 1726h0M1700 1729h0M1677 1716h0M1649 1716h0M1682 1730h0" stroke="#4b5441" stroke-width="10"/><path d="M1714 1714h0M1697 1714h0M1662 1734h0M1661 1722h0" stroke="#4b5441" stroke-width="14"/><path d="M1695 1649h0" stroke="#7f9562" stroke-width="16"/><path d="M1701 1652h0M1645 1669h0M1658 1664h0M1685 1641h0M1720 1666h0M1690 1673h0M1655 1669h0M1688 1641h0M1668 1653h0" stroke="#7f9562" stroke-width="14"/><path d="M1666 1718h0M1696 1717h0M1669 1678h0M1672 1688h0M1703 1701h0M1695 1694h0M1680 1686h0M1642 1682h0M1630 1691h0" stroke="#5b6a4a" stroke-width="12"/><path d="M1686 1661h0M1688 1643h0M1642 1672h0M1703 1654h0" stroke="#7f9562" stroke-width="8"/><path d="M1693 1719h0M1687 1734h0M1708 1720h0" stroke="#4b5441" stroke-width="8"/><path d="M1670 1709h0" stroke="#5b6a4a" stroke-width="8"/><path d="M1699 1724h0" stroke="#5b6a4a" stroke-width="16"/><path d="M1554 1732h0M1614 1730h0M1573 1739h0M1577 1732h0M1600 1748h0M1586 1731h0" stroke="#9cab80" stroke-width="6"/><path d="M1602 1751h0M1582 1756h0M1629 1763h0M1564 1770h0M1553 1746h0M1552 1761h0M1624 1762h0M1629 1759h0M1584 1771h0M1609 1763h0" stroke="#8b9a70" stroke-width="10"/><path d="M1579 1754h0M1600 1768h0M1579 1741h0M1577 1769h0M1548 1752h0M1660 1761h0M1584 1766h0M1550 1749h0M1543 1757h0" stroke="#8b9a70" stroke-width="8"/><path d="M1646 1735h0M1637 1732h0M1652 1734h0M1655 1750h0M1554 1737h0" stroke="#9cab80" stroke-width="10"/><path d="M1597 1764h0M1645 1751h0M1631 1770h0M1636 1738h0M1662 1761h0M1663 1760h0M1593 1770h0" stroke="#8b9a70" stroke-width="6"/><path d="M1606 1727h0M1590 1744h0M1562 1744h0" stroke="#9cab80" stroke-width="8"/><path d="M1658 1744h0M1600 1741h0M1659 1763h0" stroke="#9cab80" stroke-width="12"/><path d="M1541 1755h0M1623 1766h0M1656 1748h0M1573 1771h0" stroke="#8b9a70" stroke-width="12"/><path d="M1666 1747h0M1590 1737h0" stroke="#9cab80" stroke-width="14"/><path d="M1620 1736h0" stroke="#8b9a70" stroke-width="14"/></g>
</g>
<g transform="scale(1 0.70)" fill="none" stroke-linecap="round" opacity="0.32"><path d="M1708 1565h0M1737 1663h0M1604 1594h0M1193 1564h0M1678 1683h0M1485 1440h0M1801 1556h0M1122 1500h0M1455 1619h0M1552 1695h0M1547 1464h0M1817 1624h0M1315 1436h0M1851 1500h0M1609 1603h0M1485 1688h0M1839 1599h0M1533 1714h0M1234 1386h0M1612 1654h0M1667 1642h0M1671 1633h0M1455 1550h0M1516 1592h0M1377 1697h0M1714 1493h0M1485 1484h0M1427 1534h0M1901 1669h0M1308 1632h0M1748 1649h0M1129 1520h0M1630 1425h0M1313 1478h0M1924 1457h0M1328 1522h0M1683 1687h0M1223 1535h0M1914 1593h0M1307 1718h0M1522 1469h0M1439 1527h0M1211 1415h0M1775 1510h0M1434 1645h0M1403 1743h0M1218 1483h0M1841 1521h0M1520 1594h0M1226 1451h0M1717 1600h0M1462 1633h0M1105 1654h0M1627 1552h0M1618 1449h0M1700 1603h0M1093 1456h0M1694 1632h0M1042 1716h0M1882 1491h0M1250 1554h0M1478 1623h0M1448 1453h0M1207 1371h0M1208 1509h0M1278 1423h0M1546 1524h0M1871 1518h0M1433 1468h0M1418 1519h0M1876 1645h0M1892 1623h0M1563 1622h0M1648 1713h0M1740 1644h0M1817 1640h0M1529 1438h0M1260 1670h0M1141 1692h0M1591 1511h0M1319 1462h0M1605 1644h0M1037 1414h0M1762 1436h0M1219 1705h0M1201 1710h0M1193 1631h0M1224 1516h0M1862 1703h0M1912 1572h0M1423 1677h0M1103 1626h0M1238 1380h0M1233 1662h0M1048 1614h0M1601 1525h0M1216 1706h0M1847 1718h0M1687 1610h0M1505 1606h0M1845 1635h0M1718 1680h0M1761 1510h0M1202 1671h0M1707 1669h0M1465 1721h0M1331 1666h0M1567 1701h0M1454 1629h0M1343 1662h0M1163 1379h0M1901 1540h0M1697 1445h0M1577 1709h0M1845 1504h0M1415 1486h0M1548 1565h0M1169 1426h0M1477 1568h0M1318 1627h0M1084 1526h0M1694 1677h0M1264 1633h0M1877 1649h0M1468 1734h0M1483 1667h0M1384 1527h0M1020 1425h0M1818 1687h0M1544 1611h0M1280 1723h0M1382 1554h0M1588 1495h0M1134 1555h0M1914 1595h0M1509 1545h0M1193 1700h0M1607 1444h0M1339 1535h0M1445 1652h0M1810 1468h0M1091 1411h0M1202 1502h0M1343 1492h0M1643 1613h0M1089 1675h0M1062 1474h0M1564 1561h0M1125 1539h0M1627 1480h0M1551 1474h0M1700 1627h0M1774 1581h0M1734 1508h0M1151 1437h0M1159 1728h0M1291 1749h0M1477 1657h0M1051 1470h0M1092 1420h0M1753 1437h0M1348 1612h0M1313 1480h0M1853 1608h0M1664 1430h0M1169 1514h0M1040 1546h0M1327 1490h0M1722 1446h0M1704 1468h0" stroke="#4a4f3e" stroke-width="2"/><path d="M1634 1608h0M1455 1408h0M1390 1520h0M1192 1660h0M1620 1470h0M1670 1667h0M1678 1435h0M1323 1574h0M1392 1502h0M1825 1719h0M1876 1558h0M1487 1690h0M1117 1428h0M1180 1559h0M1688 1678h0M1599 1484h0M1360 1677h0M1465 1634h0M1657 1524h0M1436 1718h0M1155 1709h0M1538 1464h0M1078 1663h0M1340 1416h0M1373 1497h0M1718 1628h0M1354 1655h0M1690 1732h0M1047 1738h0M1459 1692h0M1085 1737h0M1818 1621h0M1152 1539h0M1578 1551h0M1166 1555h0M1764 1659h0M1470 1524h0M1297 1537h0M1231 1497h0M1357 1512h0M1203 1754h0M1274 1722h0M1414 1656h0M1786 1723h0M1217 1755h0M1431 1475h0M1571 1699h0M1880 1468h0M1483 1695h0M1142 1360h0M1312 1458h0M1511 1500h0M1511 1581h0M1236 1603h0M1698 1601h0M1496 1527h0M1780 1739h0M1483 1546h0M1021 1657h0M1879 1574h0M1614 1427h0M1220 1514h0M1433 1504h0M1382 1558h0M1177 1604h0M1889 1535h0M1379 1478h0M1788 1547h0M1369 1679h0M1724 1646h0M1064 1557h0M1709 1752h0M1539 1726h0M1081 1630h0M1128 1752h0M1915 1596h0M1319 1424h0M1823 1697h0M1658 1627h0M1524 1729h0M1725 1595h0M1903 1562h0M1900 1522h0M1535 1675h0M1100 1505h0M1044 1657h0M1703 1563h0M1788 1450h0M1508 1617h0M1044 1640h0M1653 1723h0M1207 1437h0M1502 1453h0M1175 1436h0M1385 1713h0M1649 1715h0M1827 1648h0M1615 1606h0M1054 1524h0M1473 1700h0M1125 1508h0M1565 1650h0M1512 1654h0M1793 1549h0M1199 1465h0M1873 1542h0M1758 1479h0M1614 1742h0M1896 1615h0M1395 1566h0M1277 1679h0M1836 1513h0M1897 1509h0M1032 1493h0M1122 1533h0M1033 1498h0M1484 1409h0M1316 1669h0M1751 1652h0M1587 1553h0M1382 1732h0M1527 1696h0M1763 1499h0M1570 1750h0M1737 1661h0M1791 1611h0M1499 1507h0M1181 1724h0M1923 1683h0M1243 1422h0M1722 1465h0M1522 1606h0M1023 1562h0M1768 1727h0M1628 1524h0M1411 1547h0M1905 1542h0M1308 1471h0M1260 1540h0M1410 1725h0M1716 1580h0M1686 1530h0M1602 1679h0M1763 1449h0M1457 1595h0M1495 1510h0M1083 1709h0M1029 1382h0M1297 1402h0M1312 1514h0M1887 1599h0M1467 1481h0M1569 1709h0M1123 1717h0M1758 1547h0M1324 1732h0M1214 1406h0M1743 1445h0M1181 1515h0M1360 1576h0M1100 1701h0M1312 1440h0M1154 1638h0M1645 1758h0M1637 1629h0M1257 1556h0M1818 1616h0M1279 1666h0M1096 1607h0M1146 1589h0M1394 1728h0M1366 1447h0M1563 1712h0M1172 1694h0M1691 1523h0M1234 1734h0M1552 1647h0M1848 1736h0M1471 1544h0M1518 1754h0M1537 1546h0M1487 1443h0M1517 1723h0M1172 1469h0M1494 1556h0M1749 1720h0M1106 1476h0M1083 1665h0M1857 1645h0M1131 1728h0M1086 1499h0M1713 1756h0M1487 1630h0M1572 1758h0M1152 1396h0M1751 1461h0M1865 1685h0M1127 1365h0M1037 1721h0M1129 1413h0M1299 1580h0M1170 1754h0M1158 1569h0M1181 1749h0M1446 1634h0M1648 1487h0M1142 1368h0M1312 1528h0M1361 1434h0M1546 1755h0M1051 1677h0M1257 1708h0M1671 1555h0M1920 1700h0M1655 1604h0M1345 1500h0M1218 1437h0M1163 1512h0M1021 1390h0M1303 1469h0M1664 1687h0M1365 1533h0M1653 1656h0M1726 1567h0M1374 1688h0M1321 1615h0M1822 1466h0M1870 1663h0M1083 1621h0M1022 1417h0M1463 1591h0M1199 1384h0M1039 1547h0M1174 1411h0M1131 1671h0M1452 1454h0M1633 1643h0M1552 1619h0M1711 1513h0M1564 1744h0M1150 1403h0M1393 1479h0M1717 1526h0M1194 1494h0M1850 1687h0M1232 1433h0M1229 1684h0M1543 1461h0M1264 1521h0M1788 1692h0M1857 1656h0M1557 1749h0M1479 1538h0M1573 1720h0M1611 1425h0M1172 1417h0M1202 1591h0M1317 1507h0M1559 1488h0M1272 1458h0M1534 1432h0M1437 1632h0M1239 1414h0M1480 1706h0M1704 1693h0M1605 1569h0M1887 1484h0M1889 1743h0M1626 1498h0M1607 1425h0M1207 1646h0" stroke="#35382f" stroke-width="4"/><path d="M1100 1674h0M1429 1487h0M1434 1483h0M1820 1706h0M1108 1361h0M1889 1606h0M1497 1573h0M1302 1745h0M1027 1731h0M1666 1711h0M1378 1517h0M1804 1588h0M1233 1498h0M1713 1716h0M1611 1465h0M1259 1528h0M1102 1617h0M1483 1742h0M1611 1758h0M1062 1366h0M1591 1428h0M1029 1532h0M1074 1490h0M1616 1723h0M1800 1583h0M1637 1703h0M1403 1539h0M1360 1528h0M1077 1380h0M1909 1706h0M1034 1401h0M1045 1452h0M1089 1471h0M1279 1670h0M1850 1563h0M1236 1664h0M1388 1523h0M1345 1612h0M1912 1645h0M1470 1566h0M1204 1662h0M1253 1633h0M1191 1488h0M1032 1409h0M1168 1522h0M1854 1702h0M1888 1605h0M1506 1632h0M1282 1489h0M1045 1569h0M1163 1359h0M1198 1592h0M1518 1690h0M1033 1496h0M1649 1542h0M1180 1629h0M1792 1602h0M1884 1624h0M1645 1489h0M1782 1669h0M1813 1674h0M1626 1656h0M1920 1494h0M1532 1714h0M1179 1653h0M1516 1569h0M1668 1583h0M1532 1693h0M1748 1662h0M1023 1492h0M1599 1720h0M1459 1587h0M1481 1566h0M1654 1708h0M1684 1568h0M1663 1676h0M1196 1636h0M1386 1477h0M1607 1676h0M1209 1638h0M1499 1552h0M1179 1652h0M1733 1458h0M1085 1467h0M1208 1399h0M1235 1720h0M1555 1568h0M1455 1448h0M1716 1489h0M1593 1444h0M1068 1380h0M1542 1650h0M1572 1582h0M1641 1543h0M1335 1700h0M1779 1451h0M1130 1408h0M1826 1707h0M1202 1413h0M1055 1388h0M1063 1447h0M1656 1465h0M1047 1522h0M1359 1464h0M1039 1414h0M1105 1533h0M1702 1623h0M1158 1565h0M1685 1627h0M1107 1498h0M1625 1623h0M1578 1453h0M1039 1367h0M1342 1510h0M1515 1693h0M1188 1537h0M1920 1628h0M1585 1637h0M1351 1686h0M1806 1700h0M1146 1690h0M1022 1756h0M1081 1617h0M1408 1490h0M1707 1632h0M1475 1669h0M1470 1492h0M1416 1411h0M1189 1390h0M1194 1476h0M1122 1373h0M1839 1481h0M1588 1577h0M1574 1698h0M1597 1504h0M1797 1617h0M1427 1639h0M1351 1493h0M1459 1531h0M1585 1722h0M1539 1584h0M1900 1561h0M1120 1627h0M1732 1754h0M1336 1573h0M1104 1634h0M1067 1709h0M1722 1453h0M1070 1425h0M1050 1649h0M1634 1694h0M1118 1384h0M1348 1643h0M1634 1627h0M1677 1556h0M1380 1573h0M1507 1468h0M1842 1520h0M1312 1673h0M1536 1612h0M1441 1507h0M1051 1720h0M1292 1569h0M1195 1464h0M1491 1595h0M1667 1443h0M1253 1499h0M1501 1506h0M1151 1613h0M1647 1600h0M1794 1463h0M1522 1521h0M1822 1624h0M1587 1543h0M1174 1520h0M1632 1724h0M1355 1635h0M1880 1646h0M1559 1447h0M1918 1472h0M1798 1718h0M1547 1728h0M1148 1741h0M1444 1514h0M1109 1667h0M1349 1672h0M1635 1622h0M1435 1639h0M1407 1415h0M1778 1450h0M1768 1557h0M1428 1579h0M1262 1657h0M1360 1707h0M1916 1507h0M1539 1475h0M1303 1398h0M1732 1552h0M1764 1634h0M1156 1590h0M1241 1674h0M1120 1412h0M1803 1483h0M1750 1668h0M1048 1703h0M1593 1501h0M1542 1742h0M1034 1696h0M1311 1615h0M1558 1743h0M1194 1442h0M1608 1648h0M1409 1690h0M1252 1483h0M1643 1756h0M1534 1520h0M1268 1544h0M1078 1443h0M1370 1456h0M1671 1690h0M1133 1531h0M1543 1704h0M1585 1681h0M1363 1579h0M1779 1574h0M1043 1543h0M1047 1610h0M1344 1690h0M1381 1581h0M1343 1714h0M1545 1518h0M1628 1596h0M1034 1631h0M1531 1434h0M1322 1463h0M1859 1668h0M1081 1367h0M1368 1499h0M1457 1506h0M1884 1693h0M1810 1547h0M1871 1516h0M1163 1672h0M1359 1553h0M1896 1616h0M1761 1450h0M1066 1533h0M1848 1518h0M1674 1587h0M1359 1428h0M1229 1531h0M1045 1463h0M1158 1654h0M1811 1731h0M1718 1643h0M1119 1578h0M1683 1482h0M1781 1656h0M1767 1690h0M1407 1431h0M1280 1736h0M1540 1427h0M1695 1747h0M1289 1653h0M1129 1445h0M1069 1505h0M1132 1381h0M1420 1736h0M1882 1649h0M1303 1725h0M1389 1680h0M1334 1693h0M1694 1730h0M1262 1721h0M1699 1524h0M1622 1597h0M1027 1709h0M1136 1695h0M1444 1624h0M1534 1442h0M1526 1600h0M1747 1485h0M1859 1485h0M1875 1602h0M1159 1545h0" stroke="#4a4f3e" stroke-width="4"/><path d="M1072 1427h0M1467 1661h0M1420 1749h0M1762 1757h0M1028 1473h0M1395 1468h0M1293 1665h0M1459 1484h0M1439 1656h0M1082 1449h0M1854 1735h0M1720 1530h0M1187 1590h0M1585 1618h0M1053 1631h0M1540 1474h0M1652 1488h0M1814 1749h0M1854 1609h0M1030 1474h0M1802 1454h0M1666 1741h0M1344 1696h0M1142 1732h0M1636 1690h0M1654 1438h0M1115 1373h0M1665 1506h0M1668 1614h0M1211 1611h0M1070 1675h0M1653 1557h0M1773 1754h0M1242 1581h0M1390 1667h0M1221 1431h0M1872 1561h0M1689 1561h0M1579 1424h0M1199 1689h0M1233 1621h0M1374 1513h0M1657 1504h0M1633 1494h0M1121 1517h0M1602 1655h0M1550 1462h0M1823 1746h0M1020 1602h0M1695 1710h0M1455 1715h0M1315 1741h0M1033 1611h0M1056 1592h0M1197 1750h0M1587 1680h0M1631 1652h0M1100 1461h0M1565 1613h0M1145 1676h0M1508 1648h0M1186 1689h0M1527 1737h0M1196 1663h0M1873 1541h0M1445 1448h0M1460 1672h0M1609 1685h0M1236 1486h0M1563 1547h0M1061 1711h0M1162 1544h0M1318 1675h0M1025 1638h0M1638 1555h0M1234 1495h0M1603 1715h0M1756 1459h0M1515 1686h0M1923 1592h0M1406 1668h0M1545 1495h0M1730 1547h0M1604 1712h0M1323 1621h0M1267 1458h0M1251 1482h0M1911 1543h0M1069 1618h0M1637 1585h0M1290 1435h0M1100 1749h0M1039 1465h0M1302 1573h0M1050 1613h0M1736 1680h0M1098 1554h0M1137 1491h0M1285 1523h0M1434 1535h0M1838 1486h0M1024 1615h0M1170 1512h0M1808 1609h0M1123 1482h0M1781 1600h0M1068 1580h0M1911 1690h0M1121 1547h0M1179 1727h0M1559 1444h0M1755 1505h0M1312 1572h0M1876 1594h0M1309 1575h0M1329 1489h0M1368 1714h0M1898 1694h0M1622 1698h0M1226 1381h0M1809 1535h0M1425 1555h0M1356 1542h0M1224 1754h0M1720 1691h0M1659 1545h0M1099 1426h0M1468 1699h0M1255 1586h0M1708 1535h0M1891 1695h0M1447 1696h0M1836 1546h0M1228 1753h0M1825 1746h0M1894 1572h0M1602 1529h0M1102 1751h0M1156 1672h0M1204 1698h0M1917 1559h0M1739 1714h0M1587 1591h0M1369 1438h0M1564 1576h0M1078 1443h0M1662 1687h0M1777 1720h0M1371 1588h0M1676 1649h0M1385 1520h0M1517 1587h0M1552 1606h0M1336 1674h0M1800 1530h0M1082 1746h0M1699 1588h0M1673 1529h0M1420 1757h0M1600 1597h0M1722 1703h0M1828 1672h0M1884 1485h0M1241 1417h0M1140 1423h0M1701 1602h0M1395 1606h0M1019 1525h0M1567 1647h0M1808 1539h0M1578 1475h0M1151 1665h0M1282 1457h0M1563 1671h0M1625 1679h0M1706 1501h0" stroke="#5a5f48" stroke-width="2"/><path d="M1191 1619h0M1524 1660h0M1093 1520h0M1531 1465h0M1427 1410h0M1484 1706h0M1136 1543h0M1146 1716h0M1471 1611h0M1725 1697h0M1613 1456h0M1499 1432h0M1413 1450h0M1668 1693h0M1270 1678h0M1041 1729h0M1832 1444h0M1712 1552h0M1854 1494h0M1649 1606h0M1549 1480h0M1572 1594h0M1182 1383h0M1506 1598h0M1676 1675h0M1165 1598h0M1396 1414h0M1204 1726h0M1224 1659h0M1701 1643h0M1762 1689h0M1491 1666h0M1460 1709h0M1180 1431h0M1040 1644h0M1561 1685h0M1413 1550h0M1281 1572h0M1785 1563h0M1272 1500h0M1808 1631h0M1311 1726h0M1040 1578h0M1228 1387h0M1242 1471h0M1063 1462h0M1446 1683h0M1675 1588h0M1733 1666h0M1462 1467h0M1524 1455h0M1491 1439h0M1174 1461h0M1882 1703h0M1059 1584h0M1212 1717h0M1216 1425h0M1325 1731h0M1698 1612h0M1584 1596h0M1041 1668h0M1187 1665h0M1569 1462h0M1830 1625h0M1326 1640h0M1370 1471h0M1376 1401h0M1169 1613h0M1427 1673h0M1504 1441h0M1179 1536h0M1043 1424h0M1039 1508h0M1112 1693h0M1863 1446h0M1751 1610h0M1823 1644h0M1712 1613h0M1742 1581h0M1793 1619h0M1706 1677h0M1244 1522h0M1729 1553h0M1310 1727h0M1760 1671h0M1367 1433h0M1024 1599h0M1279 1421h0M1728 1551h0M1088 1514h0M1527 1538h0M1694 1509h0M1021 1557h0M1246 1643h0M1161 1414h0M1761 1461h0M1625 1704h0M1603 1444h0M1341 1695h0M1762 1518h0M1581 1725h0M1024 1549h0M1421 1664h0M1311 1665h0M1373 1656h0M1042 1381h0M1511 1601h0M1833 1651h0M1205 1678h0M1054 1730h0M1859 1608h0M1462 1645h0M1192 1561h0M1573 1539h0M1769 1541h0M1206 1631h0M1167 1678h0M1284 1704h0M1269 1426h0M1342 1680h0M1224 1391h0M1647 1618h0M1199 1605h0M1619 1581h0M1794 1519h0M1098 1476h0M1078 1678h0M1898 1530h0M1030 1398h0M1038 1567h0M1277 1662h0M1633 1710h0M1672 1657h0M1243 1750h0M1765 1544h0M1124 1623h0M1504 1483h0M1766 1528h0M1321 1592h0M1863 1713h0M1410 1412h0M1684 1436h0M1216 1614h0M1808 1603h0M1646 1735h0M1215 1647h0M1712 1531h0M1105 1703h0M1556 1698h0M1652 1636h0M1313 1637h0M1827 1664h0M1415 1739h0M1678 1582h0M1420 1504h0M1079 1733h0M1308 1422h0M1399 1698h0M1638 1592h0M1408 1452h0M1786 1496h0M1043 1500h0M1732 1551h0M1194 1389h0M1127 1397h0M1272 1571h0M1073 1558h0M1530 1420h0M1201 1457h0M1029 1379h0M1923 1604h0M1683 1703h0M1922 1583h0M1803 1695h0M1157 1672h0M1267 1624h0M1702 1461h0M1736 1627h0M1363 1460h0M1810 1658h0M1533 1517h0M1806 1674h0M1855 1474h0M1314 1626h0M1614 1674h0M1025 1688h0M1541 1568h0M1368 1504h0M1749 1469h0M1540 1486h0M1468 1408h0" stroke="#3f4a30" stroke-width="2"/><path d="M1535 1462h0M1850 1632h0M1241 1384h0M1329 1677h0M1776 1507h0M1396 1479h0M1670 1555h0M1118 1375h0M1917 1522h0M1046 1705h0M1635 1512h0M1562 1609h0M1725 1526h0M1923 1682h0M1257 1714h0M1335 1571h0M1090 1540h0M1028 1401h0M1768 1503h0M1236 1380h0M1357 1558h0M1231 1420h0M1247 1745h0M1036 1709h0M1841 1552h0M1311 1489h0M1169 1493h0M1923 1451h0M1299 1435h0M1871 1626h0M1350 1459h0M1875 1731h0M1872 1750h0M1128 1419h0M1201 1666h0M1265 1560h0M1789 1446h0M1522 1528h0M1114 1420h0M1237 1478h0M1664 1615h0M1210 1621h0M1408 1735h0M1761 1475h0M1421 1661h0M1343 1757h0M1407 1520h0M1597 1740h0M1052 1703h0M1263 1485h0M1142 1682h0M1483 1623h0M1524 1507h0M1565 1434h0M1404 1484h0M1812 1604h0M1886 1510h0M1340 1660h0M1277 1747h0M1768 1536h0M1873 1492h0M1505 1519h0M1406 1473h0M1136 1391h0M1197 1706h0M1280 1542h0M1227 1634h0M1472 1659h0M1467 1737h0M1470 1582h0M1320 1657h0M1311 1529h0M1087 1543h0M1807 1544h0M1171 1718h0M1049 1571h0M1065 1471h0M1160 1742h0M1685 1519h0M1676 1552h0M1692 1744h0M1429 1690h0M1226 1500h0M1879 1601h0M1753 1709h0M1844 1475h0M1294 1631h0M1325 1519h0M1746 1726h0M1563 1465h0M1361 1454h0M1259 1530h0M1177 1435h0M1211 1492h0M1089 1430h0M1210 1493h0M1348 1422h0M1328 1547h0M1118 1445h0M1712 1647h0M1146 1429h0M1327 1511h0M1823 1735h0M1513 1696h0M1235 1757h0M1051 1654h0M1673 1609h0M1069 1658h0M1650 1618h0M1260 1470h0M1238 1699h0M1904 1553h0M1448 1756h0M1205 1445h0M1323 1679h0M1027 1423h0M1539 1693h0M1773 1739h0M1893 1635h0M1170 1585h0M1162 1753h0M1132 1665h0M1377 1505h0M1264 1440h0M1133 1675h0M1043 1439h0M1551 1550h0M1415 1686h0M1120 1387h0M1628 1428h0M1480 1693h0M1138 1631h0M1028 1700h0M1508 1752h0M1434 1706h0M1237 1529h0M1617 1593h0M1897 1634h0M1683 1621h0M1335 1397h0M1232 1490h0M1042 1680h0M1211 1512h0M1405 1516h0M1483 1462h0M1231 1473h0M1244 1398h0M1566 1694h0M1452 1718h0M1565 1743h0M1226 1498h0M1301 1550h0M1213 1538h0M1261 1626h0M1269 1456h0M1894 1640h0M1511 1467h0M1405 1416h0M1221 1508h0M1044 1627h0M1868 1628h0M1222 1497h0M1391 1662h0M1473 1677h0M1656 1627h0M1830 1612h0M1275 1705h0M1688 1503h0M1713 1523h0M1420 1637h0M1729 1565h0M1568 1509h0M1035 1733h0M1850 1572h0M1410 1708h0M1308 1669h0M1881 1540h0M1657 1678h0M1442 1495h0M1567 1461h0M1116 1674h0M1477 1439h0M1117 1575h0M1740 1741h0M1790 1639h0M1359 1443h0M1317 1683h0M1490 1740h0M1074 1735h0M1470 1543h0M1051 1569h0M1483 1641h0M1226 1465h0M1744 1679h0M1055 1550h0M1084 1430h0M1229 1582h0M1533 1557h0M1775 1489h0M1456 1530h0M1649 1707h0M1411 1447h0M1171 1712h0M1564 1419h0M1645 1555h0M1814 1524h0M1152 1628h0M1681 1612h0M1674 1744h0M1860 1707h0M1072 1571h0M1838 1483h0M1144 1435h0M1267 1728h0M1793 1562h0M1832 1535h0M1279 1757h0M1446 1471h0M1849 1702h0M1923 1665h0M1247 1518h0M1192 1529h0M1482 1618h0M1881 1534h0M1048 1708h0M1078 1380h0M1453 1529h0M1066 1703h0M1915 1741h0M1800 1703h0M1383 1578h0M1213 1575h0M1506 1535h0M1815 1676h0M1160 1519h0M1154 1380h0M1559 1519h0M1155 1551h0M1576 1460h0M1256 1423h0M1233 1730h0M1786 1446h0M1922 1488h0M1188 1610h0M1374 1441h0M1866 1507h0M1727 1434h0M1764 1665h0M1799 1719h0M1504 1469h0M1421 1676h0M1563 1577h0M1782 1529h0M1556 1672h0M1355 1470h0M1656 1740h0M1719 1494h0M1463 1643h0M1378 1720h0M1357 1497h0" stroke="#5a5f48" stroke-width="4"/><path d="M1204 1574h0M1028 1651h0M1195 1659h0M1048 1380h0M1271 1598h0M1177 1583h0M1581 1722h0M1463 1647h0M1458 1654h0M1601 1687h0M1156 1454h0M1031 1478h0M1149 1423h0M1065 1472h0M1867 1578h0M1365 1624h0M1555 1745h0M1022 1656h0M1127 1621h0M1074 1370h0M1188 1732h0M1206 1488h0M1743 1447h0M1174 1672h0M1208 1616h0M1583 1721h0M1750 1548h0M1453 1704h0M1152 1736h0M1395 1431h0M1539 1462h0M1122 1476h0M1220 1628h0M1536 1486h0M1358 1485h0M1760 1675h0M1805 1496h0M1422 1581h0M1784 1590h0M1640 1583h0M1103 1632h0M1324 1684h0M1461 1737h0M1150 1533h0M1771 1735h0M1923 1699h0M1866 1487h0M1097 1577h0M1493 1480h0M1348 1717h0M1255 1594h0M1623 1738h0M1218 1736h0M1740 1607h0M1169 1677h0M1134 1628h0M1323 1615h0M1870 1710h0M1102 1753h0M1762 1561h0M1028 1406h0M1812 1587h0M1188 1696h0M1287 1593h0M1090 1524h0M1049 1513h0M1488 1727h0M1139 1500h0M1493 1751h0M1342 1726h0M1438 1608h0M1363 1662h0M1691 1755h0M1616 1533h0M1568 1502h0M1655 1575h0M1472 1479h0M1812 1446h0M1714 1704h0M1415 1429h0M1208 1388h0M1166 1553h0M1538 1585h0M1457 1442h0M1273 1597h0M1775 1548h0M1100 1602h0M1614 1625h0M1306 1719h0M1422 1615h0M1215 1545h0M1570 1606h0M1547 1447h0M1530 1571h0M1886 1460h0M1863 1734h0M1866 1567h0M1534 1593h0M1449 1733h0M1081 1545h0M1799 1570h0M1207 1373h0M1181 1515h0M1616 1664h0M1214 1452h0M1772 1480h0M1798 1489h0M1899 1656h0M1420 1714h0M1540 1680h0M1718 1565h0M1670 1563h0M1594 1674h0M1810 1606h0M1158 1480h0M1497 1601h0M1282 1694h0M1063 1517h0M1277 1537h0M1794 1551h0M1482 1683h0M1431 1655h0M1625 1750h0M1589 1665h0M1637 1588h0M1061 1587h0M1271 1522h0M1356 1578h0M1146 1685h0M1873 1625h0M1462 1585h0M1134 1547h0M1244 1734h0M1677 1743h0M1194 1477h0M1620 1725h0M1061 1444h0M1396 1644h0M1508 1582h0M1608 1526h0M1209 1570h0M1770 1617h0M1233 1449h0M1338 1614h0M1914 1472h0M1486 1475h0M1793 1593h0M1493 1603h0M1823 1757h0M1715 1487h0M1068 1590h0M1362 1627h0M1208 1513h0M1533 1540h0M1055 1398h0M1670 1629h0M1789 1634h0M1433 1446h0M1182 1494h0M1101 1577h0M1795 1716h0M1451 1593h0M1890 1523h0M1912 1729h0M1800 1587h0M1094 1487h0M1184 1745h0M1065 1696h0M1052 1576h0M1163 1541h0M1870 1738h0M1911 1517h0M1630 1704h0M1534 1730h0M1145 1499h0M1294 1639h0M1195 1398h0M1633 1633h0M1909 1735h0M1635 1640h0M1781 1749h0M1485 1704h0M1755 1736h0M1051 1665h0M1619 1535h0M1145 1426h0M1458 1758h0M1675 1538h0M1784 1663h0M1077 1526h0M1839 1563h0M1849 1721h0M1496 1732h0M1114 1448h0M1457 1601h0M1452 1556h0M1441 1698h0M1525 1659h0M1228 1445h0M1379 1540h0M1503 1452h0M1684 1450h0M1042 1531h0M1387 1601h0M1082 1745h0M1181 1426h0M1623 1639h0M1338 1699h0M1681 1696h0M1508 1486h0M1804 1640h0M1565 1668h0M1853 1561h0M1911 1756h0M1100 1583h0M1901 1485h0M1298 1573h0M1829 1472h0M1684 1507h0M1321 1722h0M1556 1614h0M1029 1536h0M1165 1668h0M1077 1536h0M1144 1480h0M1820 1525h0M1090 1679h0M1680 1508h0M1722 1652h0M1238 1569h0M1212 1712h0M1367 1542h0M1176 1660h0M1212 1684h0M1022 1395h0M1168 1530h0M1145 1537h0M1274 1537h0M1854 1742h0" stroke="#3f4a30" stroke-width="4"/><path d="M1410 1535h0M1045 1543h0M1333 1724h0M1432 1424h0M1610 1664h0M1675 1690h0M1826 1518h0M1762 1700h0M1488 1448h0M1863 1698h0M1490 1712h0M1831 1658h0M1546 1652h0M1467 1440h0M1492 1443h0M1162 1490h0M1728 1633h0M1795 1588h0M1614 1604h0M1058 1614h0M1592 1476h0M1642 1683h0M1061 1658h0M1771 1493h0M1220 1513h0M1134 1588h0M1260 1711h0M1195 1523h0M1231 1706h0M1772 1491h0M1633 1549h0M1578 1585h0M1460 1645h0M1595 1611h0M1472 1554h0M1632 1518h0M1646 1425h0M1374 1741h0M1729 1528h0M1295 1603h0M1406 1717h0M1117 1424h0M1919 1519h0M1443 1654h0M1543 1536h0M1665 1673h0M1229 1758h0M1725 1571h0M1410 1480h0M1291 1641h0M1919 1599h0M1564 1568h0M1229 1483h0M1843 1683h0M1045 1670h0M1772 1579h0M1373 1588h0M1676 1444h0M1697 1706h0M1048 1756h0M1661 1606h0M1295 1432h0M1302 1586h0M1094 1635h0M1678 1525h0M1489 1562h0M1867 1544h0M1821 1482h0M1308 1658h0M1764 1615h0M1874 1455h0M1911 1549h0M1693 1680h0M1865 1533h0M1160 1741h0M1827 1534h0M1611 1629h0M1456 1454h0M1371 1664h0M1551 1546h0M1660 1449h0M1330 1530h0M1519 1696h0M1504 1466h0M1343 1575h0M1575 1678h0M1513 1645h0M1543 1480h0M1200 1554h0M1278 1680h0M1692 1604h0M1215 1381h0M1521 1729h0M1899 1511h0M1268 1553h0M1124 1694h0M1763 1619h0M1261 1533h0M1825 1630h0M1113 1688h0M1851 1517h0M1214 1643h0M1514 1535h0M1566 1710h0M1042 1576h0M1252 1441h0M1393 1519h0M1076 1724h0M1710 1455h0M1474 1532h0M1496 1647h0M1547 1437h0M1904 1705h0M1839 1624h0M1266 1457h0M1653 1451h0M1915 1510h0M1143 1642h0M1914 1728h0M1888 1508h0M1732 1469h0M1799 1674h0M1027 1633h0M1334 1596h0M1754 1487h0M1638 1471h0M1532 1701h0M1303 1445h0M1144 1589h0M1789 1582h0M1034 1426h0M1034 1721h0M1094 1416h0M1185 1677h0M1613 1690h0M1744 1619h0M1634 1462h0M1351 1446h0M1371 1722h0M1341 1659h0M1512 1678h0M1595 1488h0M1562 1601h0M1665 1655h0M1818 1613h0M1241 1548h0M1291 1570h0M1715 1493h0M1241 1428h0M1898 1561h0M1848 1511h0M1131 1674h0M1680 1571h0M1328 1514h0M1535 1505h0M1885 1735h0M1314 1427h0M1058 1467h0M1375 1643h0M1180 1520h0M1149 1653h0M1274 1702h0M1190 1734h0M1644 1451h0M1870 1539h0M1518 1637h0M1858 1594h0M1185 1636h0M1104 1738h0M1842 1482h0M1890 1671h0M1546 1522h0M1665 1489h0M1218 1471h0M1486 1592h0M1283 1702h0M1533 1459h0M1164 1755h0M1441 1406h0M1110 1631h0M1358 1605h0M1771 1451h0M1113 1598h0M1084 1509h0M1143 1446h0M1205 1435h0M1722 1729h0M1133 1621h0M1667 1743h0M1525 1601h0M1370 1471h0M1838 1705h0M1132 1511h0M1227 1611h0M1331 1727h0M1681 1750h0M1133 1446h0M1243 1647h0M1080 1615h0M1086 1462h0M1320 1699h0M1440 1602h0M1668 1712h0M1022 1624h0M1500 1526h0M1368 1611h0M1864 1569h0M1083 1728h0" stroke="#35382f" stroke-width="2"/></g>
<g transform="scale(1 0.70)" fill="none" stroke-linecap="round" opacity="0.35"><path d="M1456 1647h0M1419 1498h0M1409 1540h0M1736 1618h0M1040 1389h0M1419 1670h0M1267 1570h0M1727 1580h0M1203 1658h0M1715 1699h0M1503 1754h0M1153 1491h0M1094 1442h0M1843 1517h0M1215 1752h0M1908 1645h0M1390 1446h0M1361 1408h0M1536 1559h0M1414 1658h0M1690 1712h0M1396 1692h0M1728 1585h0M1305 1443h0M1890 1690h0M1358 1717h0M1707 1543h0M1031 1559h0M1554 1423h0M1365 1532h0M1279 1682h0M1152 1575h0M1696 1432h0M1155 1721h0M1714 1719h0M1810 1514h0M1142 1606h0M1459 1429h0M1089 1549h0M1199 1681h0M1501 1686h0M1865 1462h0M1299 1728h0M1232 1698h0M1706 1738h0M1835 1601h0M1178 1486h0M1708 1469h0M1661 1499h0M1257 1402h0M1052 1396h0M1519 1451h0M1782 1617h0M1656 1465h0M1291 1662h0M1834 1477h0M1486 1606h0M1101 1606h0M1447 1540h0M1167 1501h0M1816 1508h0M1328 1667h0M1896 1657h0M1535 1422h0M1873 1623h0M1079 1458h0M1354 1526h0M1603 1740h0M1186 1437h0M1849 1609h0M1858 1755h0M1095 1691h0M1094 1642h0M1105 1555h0M1152 1440h0M1320 1716h0M1194 1432h0M1407 1593h0M1642 1720h0M1462 1709h0M1799 1516h0M1051 1627h0M1195 1477h0M1766 1744h0M1768 1557h0M1131 1589h0M1277 1587h0M1160 1668h0M1229 1386h0M1863 1505h0M1263 1704h0M1690 1495h0M1246 1542h0M1161 1485h0M1888 1462h0M1097 1555h0M1122 1365h0M1716 1480h0M1494 1670h0M1898 1449h0M1146 1721h0M1911 1583h0M1495 1518h0M1848 1683h0M1727 1495h0M1239 1712h0M1850 1608h0M1206 1700h0M1137 1365h0M1765 1716h0M1758 1522h0M1760 1659h0M1090 1674h0M1253 1635h0M1650 1604h0M1603 1578h0M1114 1653h0M1096 1659h0M1729 1527h0M1561 1591h0M1198 1501h0M1574 1718h0M1771 1729h0M1147 1605h0M1819 1670h0M1150 1456h0M1568 1621h0M1424 1543h0M1619 1656h0M1070 1449h0M1660 1659h0M1026 1452h0M1609 1497h0M1367 1575h0M1154 1746h0M1118 1364h0M1724 1637h0M1514 1752h0M1726 1693h0M1168 1568h0M1183 1472h0M1896 1575h0M1445 1411h0M1769 1544h0M1363 1685h0M1769 1492h0M1088 1428h0M1382 1598h0M1231 1597h0M1075 1677h0M1884 1668h0M1110 1619h0M1331 1731h0M1098 1400h0M1098 1605h0M1171 1445h0M1621 1744h0M1769 1478h0M1426 1439h0M1572 1617h0M1620 1491h0M1584 1463h0M1673 1757h0M1298 1574h0M1311 1626h0M1667 1489h0M1434 1518h0M1760 1630h0M1022 1403h0M1368 1490h0M1378 1549h0M1288 1439h0M1585 1632h0M1403 1555h0M1797 1466h0M1390 1404h0M1594 1554h0M1293 1667h0M1664 1733h0M1357 1725h0M1587 1704h0M1449 1421h0M1054 1466h0M1278 1425h0M1280 1439h0M1435 1684h0M1325 1420h0M1811 1669h0M1905 1665h0M1034 1488h0M1168 1558h0M1237 1719h0M1105 1517h0M1681 1643h0M1544 1433h0M1037 1368h0M1320 1716h0M1881 1730h0M1466 1509h0M1486 1661h0M1041 1460h0M1433 1453h0M1631 1696h0M1114 1554h0M1370 1711h0M1470 1504h0M1811 1440h0M1096 1436h0M1299 1440h0M1475 1455h0M1182 1468h0M1020 1722h0M1727 1727h0M1566 1672h0M1490 1502h0M1805 1730h0M1761 1632h0M1122 1659h0M1804 1725h0M1154 1753h0M1182 1559h0M1150 1633h0M1822 1590h0M1345 1687h0M1211 1667h0M1703 1562h0M1697 1636h0M1602 1685h0M1790 1481h0M1040 1598h0" stroke="#d5d9c0" stroke-width="2"/><path d="M1248 1517h0M1825 1646h0M1335 1450h0M1488 1583h0M1182 1419h0M1505 1491h0M1092 1536h0M1505 1591h0M1415 1728h0M1238 1531h0M1022 1681h0M1355 1704h0M1556 1693h0M1284 1554h0M1367 1615h0M1193 1570h0M1076 1566h0M1810 1649h0M1666 1482h0M1076 1615h0M1523 1567h0M1286 1395h0M1148 1525h0M1670 1440h0M1161 1476h0M1280 1418h0M1287 1529h0M1261 1589h0M1864 1562h0M1101 1440h0M1285 1739h0M1228 1452h0M1080 1744h0M1220 1688h0M1310 1580h0M1848 1596h0M1042 1533h0M1247 1749h0M1118 1493h0M1649 1444h0M1020 1406h0M1764 1609h0M1646 1539h0M1852 1454h0M1175 1521h0M1023 1457h0M1258 1504h0M1266 1524h0M1248 1496h0M1369 1433h0M1211 1652h0M1200 1469h0M1690 1676h0M1520 1413h0M1085 1579h0M1455 1479h0M1692 1696h0M1591 1714h0M1385 1413h0M1830 1461h0M1093 1742h0M1332 1693h0M1434 1446h0M1026 1453h0M1167 1525h0M1592 1712h0M1148 1423h0M1919 1657h0M1339 1563h0M1655 1666h0M1098 1731h0M1205 1753h0M1116 1702h0M1080 1446h0M1804 1440h0M1723 1659h0M1234 1755h0M1606 1555h0M1372 1524h0M1798 1723h0M1421 1722h0M1809 1542h0M1170 1632h0M1792 1594h0M1747 1693h0M1250 1424h0M1070 1492h0M1867 1501h0M1162 1484h0M1282 1550h0M1672 1640h0M1231 1379h0M1325 1461h0M1565 1588h0M1622 1636h0M1443 1578h0M1907 1709h0M1584 1639h0M1739 1523h0M1203 1531h0M1713 1504h0M1357 1582h0M1832 1704h0M1672 1657h0M1163 1486h0M1207 1751h0M1269 1688h0M1840 1610h0M1596 1685h0M1024 1657h0M1536 1600h0M1192 1486h0M1310 1474h0M1569 1704h0M1158 1637h0M1859 1459h0M1035 1649h0M1089 1546h0M1212 1640h0M1614 1734h0M1358 1748h0M1330 1432h0M1828 1724h0M1535 1692h0M1699 1650h0M1089 1732h0M1574 1541h0M1753 1739h0M1176 1624h0M1517 1714h0M1695 1579h0M1361 1648h0M1655 1460h0M1320 1417h0M1102 1666h0M1419 1424h0M1497 1629h0M1228 1729h0M1639 1432h0M1448 1419h0M1135 1440h0M1785 1674h0M1852 1446h0M1651 1545h0M1646 1441h0M1114 1679h0M1352 1701h0M1161 1727h0M1038 1589h0M1875 1538h0M1072 1718h0M1878 1557h0M1633 1725h0M1382 1580h0M1297 1438h0M1922 1457h0M1154 1378h0M1836 1584h0M1382 1574h0M1472 1689h0M1877 1671h0M1502 1696h0M1211 1420h0M1043 1639h0M1483 1651h0M1127 1743h0M1103 1655h0M1611 1640h0M1789 1751h0M1613 1593h0M1240 1544h0M1071 1647h0M1709 1585h0M1481 1695h0M1104 1636h0M1158 1373h0M1742 1568h0M1182 1377h0M1042 1447h0M1247 1504h0M1911 1478h0M1561 1604h0M1703 1538h0M1029 1741h0M1442 1550h0M1807 1749h0M1587 1701h0M1920 1662h0M1432 1522h0M1801 1626h0M1022 1743h0M1860 1527h0M1300 1537h0M1596 1460h0M1174 1598h0M1076 1452h0M1642 1535h0M1260 1562h0M1711 1459h0M1718 1578h0M1060 1658h0M1603 1484h0M1403 1736h0M1278 1479h0M1159 1394h0M1904 1449h0M1255 1435h0M1105 1728h0M1406 1652h0M1611 1480h0M1734 1630h0M1502 1603h0M1234 1733h0M1897 1620h0M1896 1480h0M1401 1489h0M1207 1592h0M1291 1598h0M1680 1714h0M1437 1445h0M1614 1550h0M1303 1395h0M1207 1697h0M1757 1651h0M1185 1381h0M1799 1705h0M1668 1605h0M1359 1672h0M1373 1658h0M1580 1608h0M1158 1527h0M1204 1749h0M1098 1684h0M1519 1415h0M1816 1538h0" stroke="#d5d9c0" stroke-width="4"/><path d="M1261 1714h0M1258 1613h0M1702 1450h0M1625 1617h0M1762 1752h0M1652 1628h0M1584 1584h0M1454 1710h0M1555 1668h0M1128 1416h0M1084 1414h0M1496 1587h0M1764 1507h0M1506 1630h0M1032 1610h0M1870 1545h0M1177 1436h0M1285 1462h0M1491 1454h0M1386 1604h0M1672 1644h0M1201 1657h0M1479 1448h0M1278 1635h0M1415 1730h0M1746 1446h0M1751 1633h0M1610 1441h0M1230 1379h0M1605 1670h0M1923 1702h0M1707 1721h0M1059 1668h0M1615 1479h0M1727 1701h0M1411 1754h0M1746 1714h0M1516 1490h0M1704 1549h0M1180 1612h0M1101 1669h0M1476 1426h0M1321 1449h0M1431 1446h0M1712 1612h0M1830 1521h0M1289 1492h0M1620 1491h0M1547 1648h0M1765 1604h0M1352 1593h0M1541 1746h0M1752 1735h0M1589 1757h0M1066 1649h0M1369 1665h0M1193 1680h0M1644 1487h0M1130 1742h0M1348 1490h0M1679 1683h0M1622 1586h0M1151 1675h0M1327 1645h0M1117 1674h0M1394 1636h0M1422 1589h0M1716 1541h0M1488 1502h0M1732 1658h0M1443 1428h0M1046 1537h0M1747 1743h0M1157 1543h0M1139 1524h0M1281 1619h0M1707 1623h0M1499 1640h0M1033 1545h0M1571 1577h0M1357 1573h0M1314 1632h0M1346 1526h0M1760 1527h0M1489 1559h0M1596 1524h0M1293 1742h0M1121 1654h0M1444 1514h0M1175 1544h0M1122 1361h0M1023 1535h0M1644 1567h0M1103 1391h0M1261 1496h0M1145 1726h0M1470 1641h0M1878 1509h0M1614 1714h0M1725 1643h0M1547 1550h0M1229 1503h0M1328 1547h0M1749 1599h0M1344 1745h0M1204 1745h0M1340 1420h0M1438 1462h0M1559 1650h0M1439 1468h0M1374 1651h0M1911 1633h0M1392 1701h0M1101 1398h0M1657 1594h0M1632 1453h0M1722 1613h0M1205 1544h0M1415 1607h0M1526 1419h0M1240 1385h0M1887 1573h0M1907 1462h0M1344 1554h0M1248 1425h0M1525 1671h0M1355 1542h0M1666 1620h0M1858 1512h0M1116 1449h0M1709 1440h0M1299 1699h0M1354 1692h0M1829 1474h0M1240 1500h0M1053 1578h0M1559 1624h0M1105 1697h0M1478 1617h0M1585 1442h0M1440 1675h0M1873 1586h0M1496 1663h0M1892 1553h0M1874 1606h0M1294 1606h0M1719 1632h0M1377 1616h0M1887 1565h0M1724 1473h0M1788 1578h0M1332 1583h0M1410 1434h0M1073 1670h0M1794 1564h0M1861 1670h0M1598 1712h0M1178 1652h0M1196 1655h0M1604 1747h0M1678 1651h0M1110 1390h0M1814 1536h0M1809 1461h0M1204 1732h0M1690 1585h0M1669 1742h0M1084 1596h0M1575 1569h0M1127 1634h0M1827 1563h0M1557 1479h0M1549 1685h0M1059 1411h0M1364 1462h0M1631 1617h0M1164 1627h0M1092 1736h0M1729 1639h0M1647 1645h0M1036 1481h0M1360 1713h0M1462 1459h0M1384 1534h0M1181 1463h0M1308 1635h0M1657 1425h0M1235 1559h0M1724 1745h0M1409 1482h0M1551 1583h0M1521 1420h0M1169 1586h0M1380 1494h0M1258 1582h0M1878 1529h0M1289 1518h0M1331 1396h0M1277 1736h0M1437 1675h0M1767 1496h0M1684 1614h0M1328 1616h0M1063 1710h0M1493 1488h0M1519 1701h0M1570 1619h0M1139 1737h0M1625 1562h0M1167 1710h0M1122 1606h0M1368 1574h0M1680 1700h0M1278 1629h0M1485 1418h0M1801 1747h0M1101 1374h0M1368 1607h0M1187 1730h0M1836 1524h0M1232 1567h0M1516 1537h0M1884 1697h0M1479 1409h0M1486 1434h0M1917 1753h0M1323 1530h0" stroke="#e3e0d4" stroke-width="4"/><path d="M1085 1602h0M1088 1728h0M1230 1648h0M1260 1680h0M1806 1534h0M1569 1634h0M1857 1510h0M1062 1695h0M1440 1668h0M1301 1568h0M1231 1421h0M1407 1539h0M1106 1567h0M1327 1400h0M1331 1440h0M1214 1461h0M1345 1423h0M1705 1730h0M1126 1574h0M1155 1594h0M1136 1501h0M1350 1553h0M1237 1628h0M1095 1677h0M1478 1443h0M1846 1682h0M1251 1445h0M1884 1726h0M1392 1551h0M1154 1574h0M1228 1683h0M1754 1460h0M1755 1543h0M1073 1449h0M1581 1607h0M1206 1564h0M1782 1453h0M1221 1600h0M1665 1661h0M1031 1403h0M1288 1716h0M1248 1392h0M1202 1681h0M1032 1373h0M1063 1532h0M1291 1402h0M1319 1628h0M1303 1521h0M1078 1452h0M1445 1673h0M1189 1458h0M1254 1703h0M1278 1659h0M1724 1586h0M1599 1440h0M1223 1431h0M1489 1441h0M1472 1611h0M1251 1705h0M1113 1513h0M1536 1496h0M1046 1739h0M1074 1729h0M1297 1722h0M1163 1396h0M1485 1534h0M1639 1461h0M1843 1472h0M1088 1570h0M1898 1725h0M1425 1439h0M1182 1629h0M1688 1555h0M1802 1730h0M1167 1427h0M1360 1691h0M1332 1710h0M1020 1405h0M1725 1723h0M1360 1605h0M1739 1434h0M1772 1742h0M1791 1753h0M1535 1676h0M1421 1635h0M1329 1758h0M1225 1623h0M1649 1558h0M1046 1746h0M1061 1672h0M1696 1477h0M1284 1514h0M1053 1727h0M1323 1563h0M1754 1461h0M1665 1478h0M1528 1655h0M1348 1410h0M1227 1379h0M1801 1500h0M1691 1429h0M1842 1596h0M1293 1507h0M1052 1709h0M1621 1639h0M1782 1670h0M1489 1534h0M1267 1527h0M1695 1707h0M1711 1473h0M1259 1478h0M1113 1465h0M1471 1748h0M1755 1672h0M1536 1506h0M1313 1531h0M1911 1619h0M1508 1628h0M1183 1680h0M1895 1525h0M1238 1497h0M1656 1549h0M1299 1541h0M1525 1585h0M1900 1700h0M1339 1544h0M1826 1558h0M1745 1583h0M1328 1586h0M1567 1657h0M1578 1434h0M1859 1671h0M1489 1533h0M1438 1732h0M1790 1506h0M1541 1672h0M1573 1605h0M1465 1744h0M1486 1473h0M1370 1601h0M1460 1738h0M1293 1582h0M1136 1629h0M1083 1582h0M1186 1567h0M1312 1624h0M1185 1716h0M1509 1681h0M1598 1677h0M1427 1460h0M1892 1593h0M1450 1595h0M1377 1694h0M1749 1666h0M1592 1684h0M1168 1636h0M1645 1633h0M1795 1537h0M1499 1449h0M1745 1724h0M1744 1541h0M1378 1756h0M1584 1495h0M1222 1406h0M1190 1631h0M1372 1725h0M1852 1468h0M1154 1445h0M1627 1583h0M1892 1703h0M1516 1543h0M1891 1449h0M1184 1697h0M1616 1747h0M1126 1691h0M1152 1592h0M1695 1644h0M1091 1650h0M1822 1526h0M1763 1445h0M1663 1702h0M1157 1410h0M1216 1450h0M1509 1448h0M1652 1756h0M1813 1525h0M1247 1547h0M1207 1408h0M1274 1511h0M1028 1567h0M1163 1607h0M1829 1664h0M1421 1667h0M1221 1588h0M1662 1563h0M1383 1518h0M1403 1520h0M1417 1418h0M1666 1426h0M1779 1473h0M1021 1619h0M1805 1506h0M1134 1557h0M1151 1430h0M1811 1660h0M1773 1440h0M1528 1540h0M1077 1459h0M1653 1720h0M1627 1608h0M1253 1493h0M1648 1606h0M1882 1471h0M1749 1722h0M1127 1377h0M1116 1714h0M1623 1433h0M1774 1520h0M1853 1533h0M1439 1580h0M1914 1713h0" stroke="#e3e0d4" stroke-width="2"/><path d="M1284 1679h0M1607 1444h0M1902 1619h0M1157 1652h0M1736 1689h0M1360 1720h0M1065 1713h0M1715 1608h0M1045 1368h0M1563 1631h0M1207 1395h0M1736 1460h0M1650 1735h0M1298 1414h0M1359 1500h0M1158 1746h0M1918 1690h0M1188 1385h0M1884 1753h0M1023 1638h0M1117 1740h0M1618 1757h0M1710 1475h0M1080 1384h0M1347 1620h0M1384 1578h0M1368 1641h0M1794 1731h0M1803 1518h0M1905 1673h0M1507 1681h0M1577 1634h0M1710 1589h0M1372 1737h0M1458 1696h0M1289 1756h0M1639 1567h0M1574 1429h0M1281 1461h0M1150 1571h0M1231 1552h0M1148 1668h0M1707 1722h0M1201 1373h0M1758 1467h0M1109 1523h0M1214 1448h0M1819 1706h0M1547 1442h0M1455 1451h0M1537 1450h0M1815 1609h0M1699 1456h0M1911 1732h0M1048 1518h0M1913 1673h0M1282 1425h0M1914 1507h0M1110 1565h0M1498 1533h0M1281 1748h0M1249 1543h0M1750 1490h0M1049 1587h0M1207 1374h0M1323 1744h0M1669 1575h0M1165 1446h0M1103 1442h0M1688 1583h0M1641 1573h0M1633 1456h0M1301 1580h0M1081 1510h0M1541 1757h0M1255 1734h0M1330 1498h0M1301 1418h0M1394 1477h0M1070 1710h0M1890 1487h0M1701 1540h0M1703 1555h0M1810 1489h0M1762 1585h0M1853 1708h0M1645 1579h0M1701 1591h0M1552 1474h0M1821 1671h0M1395 1560h0M1627 1729h0M1062 1474h0M1708 1463h0M1227 1714h0M1730 1676h0M1451 1539h0M1566 1557h0M1537 1753h0M1820 1518h0M1891 1485h0M1236 1547h0M1875 1626h0M1674 1750h0M1089 1558h0M1716 1466h0M1775 1450h0M1101 1723h0M1323 1582h0M1112 1659h0M1588 1751h0M1410 1422h0M1690 1608h0M1871 1489h0M1217 1416h0M1145 1664h0M1864 1522h0M1723 1730h0M1911 1533h0M1635 1633h0M1235 1522h0M1299 1581h0M1315 1682h0M1782 1616h0M1851 1550h0M1307 1642h0M1918 1523h0M1554 1630h0M1351 1479h0M1300 1665h0M1030 1493h0M1541 1705h0M1630 1586h0M1673 1450h0M1171 1638h0M1282 1444h0M1070 1596h0M1315 1461h0M1412 1571h0M1131 1385h0M1196 1737h0M1875 1450h0M1130 1729h0M1453 1519h0M1522 1700h0M1025 1618h0M1397 1564h0M1456 1491h0M1708 1675h0M1218 1436h0M1462 1745h0M1514 1692h0M1089 1732h0M1820 1547h0M1907 1461h0M1188 1559h0M1871 1458h0M1252 1582h0M1194 1488h0M1433 1494h0M1061 1435h0M1722 1695h0M1213 1534h0M1670 1680h0M1846 1701h0M1863 1524h0M1206 1672h0M1863 1511h0M1834 1583h0M1772 1666h0M1651 1506h0M1049 1516h0M1076 1484h0M1654 1551h0M1509 1577h0M1608 1453h0M1033 1468h0M1837 1711h0M1298 1744h0M1466 1472h0M1400 1637h0M1260 1706h0M1050 1419h0M1516 1575h0M1030 1432h0M1688 1649h0M1896 1739h0M1226 1717h0M1379 1486h0M1726 1754h0M1057 1718h0M1436 1430h0M1259 1688h0M1044 1692h0M1119 1634h0M1776 1621h0M1825 1458h0M1740 1697h0M1877 1474h0M1089 1464h0M1219 1705h0M1151 1706h0M1373 1750h0M1638 1689h0M1637 1459h0M1876 1635h0M1884 1676h0M1412 1642h0M1711 1466h0M1903 1614h0M1484 1467h0M1596 1680h0M1305 1410h0M1862 1530h0M1163 1593h0M1518 1524h0M1400 1669h0M1618 1531h0M1088 1495h0M1367 1419h0M1857 1733h0M1109 1716h0M1747 1716h0M1100 1574h0M1658 1544h0M1476 1546h0M1769 1542h0M1308 1715h0M1353 1572h0M1329 1683h0M1194 1594h0M1123 1490h0M1659 1438h0M1546 1588h0M1114 1517h0M1063 1615h0M1192 1637h0M1421 1555h0M1846 1711h0M1892 1568h0M1713 1648h0M1881 1555h0M1610 1699h0M1206 1574h0M1528 1520h0M1382 1527h0" stroke="#c8cfae" stroke-width="2"/><path d="M1774 1569h0M1815 1571h0M1645 1498h0M1363 1708h0M1301 1495h0M1691 1673h0M1210 1448h0M1217 1641h0M1020 1741h0M1732 1745h0M1651 1457h0M1495 1590h0M1810 1540h0M1520 1508h0M1799 1637h0M1077 1719h0M1695 1725h0M1660 1531h0M1610 1516h0M1582 1511h0M1122 1409h0M1697 1686h0M1777 1623h0M1405 1589h0M1830 1480h0M1278 1547h0M1645 1432h0M1356 1551h0M1316 1653h0M1175 1687h0M1249 1660h0M1518 1606h0M1790 1676h0M1493 1742h0M1541 1465h0M1756 1709h0M1765 1483h0M1571 1628h0M1828 1643h0M1799 1458h0M1581 1560h0M1892 1594h0M1358 1669h0M1156 1695h0M1125 1535h0M1075 1635h0M1143 1417h0M1114 1478h0M1916 1511h0M1639 1493h0M1130 1618h0M1200 1457h0M1864 1748h0M1544 1440h0M1059 1684h0M1243 1523h0M1757 1452h0M1593 1661h0M1047 1430h0M1213 1460h0M1735 1644h0M1398 1442h0M1549 1529h0M1100 1666h0M1426 1509h0M1676 1651h0M1388 1644h0M1445 1478h0M1671 1747h0M1615 1724h0M1512 1552h0M1446 1433h0M1225 1686h0M1066 1672h0M1395 1563h0M1047 1693h0M1146 1618h0M1731 1632h0M1525 1748h0M1612 1531h0M1774 1519h0M1746 1597h0M1529 1676h0M1030 1531h0M1388 1549h0M1626 1562h0M1377 1502h0M1799 1601h0M1218 1566h0M1419 1420h0M1380 1516h0M1102 1483h0M1422 1654h0M1335 1661h0M1672 1483h0M1910 1480h0M1906 1645h0M1554 1562h0M1819 1733h0M1259 1738h0M1675 1677h0M1340 1598h0M1195 1471h0M1634 1708h0M1880 1689h0M1374 1524h0M1118 1576h0M1222 1729h0M1664 1480h0M1834 1667h0M1548 1639h0M1620 1727h0M1467 1516h0M1377 1420h0M1510 1619h0M1239 1548h0M1907 1753h0M1091 1412h0M1026 1497h0M1232 1569h0M1779 1757h0M1663 1438h0M1448 1546h0M1513 1748h0M1266 1649h0M1788 1493h0M1855 1601h0M1903 1535h0M1411 1652h0M1464 1714h0M1568 1630h0M1411 1482h0M1865 1757h0M1475 1598h0M1110 1476h0M1523 1593h0M1372 1410h0M1568 1452h0M1673 1727h0M1398 1701h0M1535 1463h0M1672 1610h0M1519 1685h0M1042 1734h0M1059 1426h0M1636 1635h0M1322 1656h0M1335 1603h0M1792 1544h0M1431 1606h0M1024 1602h0M1227 1710h0M1453 1533h0M1688 1588h0M1157 1529h0M1339 1651h0M1424 1746h0M1437 1655h0M1495 1422h0M1113 1644h0M1332 1708h0M1853 1479h0M1643 1715h0M1688 1584h0M1756 1596h0M1771 1464h0M1497 1588h0M1745 1609h0M1660 1460h0M1578 1552h0M1355 1425h0M1576 1478h0M1091 1612h0M1243 1477h0M1862 1647h0M1044 1467h0M1798 1733h0M1889 1563h0M1833 1465h0M1115 1711h0M1779 1597h0M1546 1712h0M1431 1618h0M1273 1547h0M1088 1719h0M1771 1549h0M1100 1631h0M1476 1507h0M1394 1748h0M1164 1593h0M1106 1425h0M1764 1471h0M1654 1589h0M1834 1605h0M1734 1552h0M1721 1445h0M1120 1435h0M1141 1400h0M1445 1671h0M1232 1680h0M1384 1742h0M1106 1690h0M1856 1633h0M1030 1572h0M1705 1579h0M1030 1406h0M1531 1710h0M1915 1583h0M1454 1656h0M1912 1692h0M1445 1433h0M1676 1504h0M1788 1571h0M1901 1470h0M1852 1686h0M1253 1676h0M1165 1450h0M1622 1565h0M1117 1637h0M1050 1457h0M1859 1701h0M1421 1546h0M1672 1632h0M1350 1409h0M1656 1653h0M1050 1683h0M1202 1672h0M1713 1612h0M1134 1633h0M1281 1541h0M1061 1380h0M1222 1392h0M1740 1577h0M1245 1578h0M1158 1641h0M1796 1657h0M1398 1572h0M1099 1647h0M1047 1409h0M1302 1542h0M1574 1580h0" stroke="#c8cfae" stroke-width="4"/></g>
<g clip-path="url(#gc)"><rect x="1019" y="760" width="905" height="471" filter="url(#nz)" opacity="0.22"/>
<rect x="1019" y="760" width="905" height="471" filter="url(#nzl)" opacity="0.18"/></g>
</g>
<text transform="translate(1822.27 1207.00) scale(0.5503 1)" font-size="27.00" fill="#ffffff" font-style="italic" stroke="#b5b0a3" stroke-width="1.00" stroke-linejoin="round" stroke-miterlimit="2.5" textLength="115.61" lengthAdjust="spacing">Ken Lund</text>
</svg>
</body></html>
